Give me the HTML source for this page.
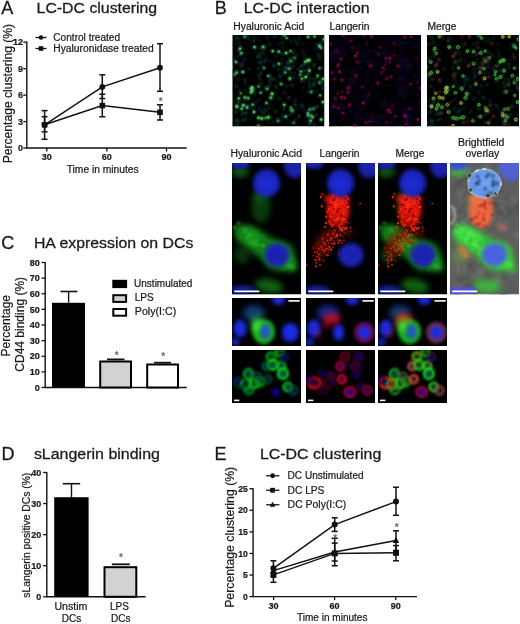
<!DOCTYPE html>
<html><head><meta charset="utf-8"><title>Figure</title>
<style>html,body{margin:0;padding:0;background:#fff;}body{width:520px;height:624px;overflow:hidden;}svg{display:block;}</style>
</head><body><svg width="520" height="624" viewBox="0 0 520 624" font-family="'Liberation Sans', sans-serif"><defs><filter id="f1" x="-50%" y="-50%" width="200%" height="200%"><feGaussianBlur stdDeviation="0.5"/></filter><filter id="f2" x="-50%" y="-50%" width="200%" height="200%"><feGaussianBlur stdDeviation="1.5"/></filter><filter id="f3" x="-50%" y="-50%" width="200%" height="200%"><feGaussianBlur stdDeviation="3"/></filter><filter id="f4" x="-50%" y="-50%" width="200%" height="200%"><feGaussianBlur stdDeviation="2.2"/></filter><filter id="f5" x="-50%" y="-50%" width="200%" height="200%"><feGaussianBlur stdDeviation="0.9"/></filter><filter id="f6" x="-50%" y="-50%" width="200%" height="200%"><feGaussianBlur stdDeviation="0.8"/></filter><clipPath id="c1"><rect x="232.3" y="35" width="92.2" height="91.5"/></clipPath><clipPath id="c2"><rect x="329" y="35" width="92" height="91.5"/></clipPath><clipPath id="c3"><rect x="427" y="35" width="92" height="91.5"/></clipPath><filter id="f7" x="-50%" y="-50%" width="200%" height="200%"><feGaussianBlur stdDeviation="4"/></filter><clipPath id="c4"><rect x="232" y="163" width="69" height="131.5"/></clipPath><clipPath id="c5"><rect x="306" y="163" width="69" height="131.5"/></clipPath><clipPath id="c6"><rect x="378" y="163" width="69" height="131.5"/></clipPath><clipPath id="c7"><rect x="450" y="163" width="69" height="131.5"/></clipPath><clipPath id="c8"><rect x="232" y="298" width="69" height="48"/></clipPath><clipPath id="c9"><rect x="306" y="298" width="69" height="48"/></clipPath><clipPath id="c10"><rect x="378" y="298" width="69" height="48"/></clipPath><clipPath id="c11"><rect x="232" y="350" width="69" height="53"/></clipPath><clipPath id="c12"><rect x="306" y="350" width="69" height="53"/></clipPath><clipPath id="c13"><rect x="378" y="350" width="69" height="53"/></clipPath></defs><rect width="520" height="624" fill="#fff"/><text x="1.2" y="13.5" font-size="18" fill="#1a1a1a" stroke="#1a1a1a" stroke-width="0.28">A</text><text x="36.6" y="12.6" font-size="15.3" textLength="120.6" lengthAdjust="spacingAndGlyphs" fill="#1a1a1a" stroke="#1a1a1a" stroke-width="0.28">LC-DC clustering</text><line x1="35.5" y1="37.5" x2="46.5" y2="37.5" stroke="#111" stroke-width="1.3"/><circle cx="41" cy="37.5" r="2.3" fill="#111"/><text x="53.3" y="41" font-size="10" textLength="66.8" lengthAdjust="spacingAndGlyphs" fill="#1a1a1a" stroke="#1a1a1a" stroke-width="0.22">Control treated</text><line x1="35.5" y1="48.5" x2="46.5" y2="48.5" stroke="#111" stroke-width="1.3"/><rect x="38.7" y="46.2" width="4.6" height="4.6" fill="#111"/><text x="53.3" y="52.3" font-size="10" textLength="100.5" lengthAdjust="spacingAndGlyphs" fill="#1a1a1a" stroke="#1a1a1a" stroke-width="0.22">Hyaluronidase treated</text><line x1="26.8" y1="41.6" x2="26.8" y2="148.6" stroke="#111" stroke-width="1.4"/><line x1="26.8" y1="148" x2="186.7" y2="148" stroke="#111" stroke-width="1.4"/><line x1="23.3" y1="148.0" x2="26.8" y2="148.0" stroke="#111" stroke-width="1.3"/><text x="22.9" y="151.2" font-size="9" text-anchor="end" font-weight="bold" fill="#1a1a1a" stroke="#1a1a1a" stroke-width="0.22">0</text><line x1="23.3" y1="121.55" x2="26.8" y2="121.55" stroke="#111" stroke-width="1.3"/><text x="22.9" y="124.75" font-size="9" text-anchor="end" font-weight="bold" fill="#1a1a1a" stroke="#1a1a1a" stroke-width="0.22">3</text><line x1="23.3" y1="95.1" x2="26.8" y2="95.1" stroke="#111" stroke-width="1.3"/><text x="22.9" y="98.3" font-size="9" text-anchor="end" font-weight="bold" fill="#1a1a1a" stroke="#1a1a1a" stroke-width="0.22">6</text><line x1="23.3" y1="68.65" x2="26.8" y2="68.65" stroke="#111" stroke-width="1.3"/><text x="22.9" y="71.85000000000001" font-size="9" text-anchor="end" font-weight="bold" fill="#1a1a1a" stroke="#1a1a1a" stroke-width="0.22">9</text><line x1="23.3" y1="42.2" x2="26.8" y2="42.2" stroke="#111" stroke-width="1.3"/><text x="22.9" y="45.400000000000006" font-size="9" text-anchor="end" font-weight="bold" fill="#1a1a1a" stroke="#1a1a1a" stroke-width="0.22">12</text><line x1="46.8" y1="148" x2="46.8" y2="151.5" stroke="#111" stroke-width="1.3"/><text x="46.8" y="160.2" font-size="9" text-anchor="middle" font-weight="bold" fill="#1a1a1a" stroke="#1a1a1a" stroke-width="0.22">30</text><line x1="106.8" y1="148" x2="106.8" y2="151.5" stroke="#111" stroke-width="1.3"/><text x="106.8" y="160.2" font-size="9" text-anchor="middle" font-weight="bold" fill="#1a1a1a" stroke="#1a1a1a" stroke-width="0.22">60</text><line x1="166.5" y1="148" x2="166.5" y2="151.5" stroke="#111" stroke-width="1.3"/><text x="166.5" y="160.2" font-size="9" text-anchor="middle" font-weight="bold" fill="#1a1a1a" stroke="#1a1a1a" stroke-width="0.22">90</text><text x="66.7" y="172.6" font-size="10" textLength="72" lengthAdjust="spacingAndGlyphs" fill="#1a1a1a" stroke="#1a1a1a" stroke-width="0.22">Time in minutes</text><text x="12.2" y="93.6" font-size="12" text-anchor="middle" textLength="139.5" lengthAdjust="spacingAndGlyphs" transform="rotate(-90 12.2 93.6)" fill="#1a1a1a" stroke="#1a1a1a" stroke-width="0.22">Percentage clustering (%)</text><line x1="44.6" y1="110.6" x2="44.6" y2="139.3" stroke="#111" stroke-width="1.5"/><line x1="41.6" y1="110.6" x2="47.6" y2="110.6" stroke="#111" stroke-width="1.5"/><line x1="41.6" y1="139.3" x2="47.6" y2="139.3" stroke="#111" stroke-width="1.5"/><line x1="44.6" y1="116.7" x2="44.6" y2="131.8" stroke="#111" stroke-width="1.5"/><line x1="41.6" y1="116.7" x2="47.6" y2="116.7" stroke="#111" stroke-width="1.5"/><line x1="41.6" y1="131.8" x2="47.6" y2="131.8" stroke="#111" stroke-width="1.5"/><line x1="102.3" y1="74.8" x2="102.3" y2="98.5" stroke="#111" stroke-width="1.5"/><line x1="99.3" y1="74.8" x2="105.3" y2="74.8" stroke="#111" stroke-width="1.5"/><line x1="99.3" y1="98.5" x2="105.3" y2="98.5" stroke="#111" stroke-width="1.5"/><line x1="102.3" y1="94.2" x2="102.3" y2="116.8" stroke="#111" stroke-width="1.5"/><line x1="99.3" y1="94.2" x2="105.3" y2="94.2" stroke="#111" stroke-width="1.5"/><line x1="99.3" y1="116.8" x2="105.3" y2="116.8" stroke="#111" stroke-width="1.5"/><line x1="160" y1="43.7" x2="160" y2="91.3" stroke="#111" stroke-width="1.5"/><line x1="157.0" y1="43.7" x2="163.0" y2="43.7" stroke="#111" stroke-width="1.5"/><line x1="157.0" y1="91.3" x2="163.0" y2="91.3" stroke="#111" stroke-width="1.5"/><line x1="160" y1="104.8" x2="160" y2="120" stroke="#111" stroke-width="1.5"/><line x1="157.0" y1="104.8" x2="163.0" y2="104.8" stroke="#111" stroke-width="1.5"/><line x1="157.0" y1="120" x2="163.0" y2="120" stroke="#111" stroke-width="1.5"/><polyline points="44.6,124.8 102.3,86.9 160,67.7" fill="none" stroke="#111" stroke-width="1.5"/><polyline points="44.6,124.8 102.3,105.6 160,112.3" fill="none" stroke="#111" stroke-width="1.5"/><circle cx="44.6" cy="124.8" r="2.9" fill="#111"/><circle cx="102.3" cy="86.9" r="2.9" fill="#111"/><circle cx="160" cy="67.7" r="2.9" fill="#111"/><rect x="41.800000000000004" y="122.0" width="5.6" height="5.6" fill="#111"/><rect x="99.5" y="102.8" width="5.6" height="5.6" fill="#111"/><rect x="157.2" y="109.5" width="5.6" height="5.6" fill="#111"/><text x="160.6" y="105.4" font-size="10" text-anchor="middle" font-weight="bold" fill="#666">*</text><text x="1.2" y="248.5" font-size="18" fill="#1a1a1a" stroke="#1a1a1a" stroke-width="0.28">C</text><text x="33.9" y="248" font-size="15.3" textLength="159.5" lengthAdjust="spacingAndGlyphs" fill="#1a1a1a" stroke="#1a1a1a" stroke-width="0.28">HA expression on DCs</text><line x1="45.2" y1="261.9" x2="45.2" y2="388.1" stroke="#111" stroke-width="1.4"/><line x1="45.2" y1="387.5" x2="186.8" y2="387.5" stroke="#111" stroke-width="1.4"/><line x1="41.5" y1="387.5" x2="45.2" y2="387.5" stroke="#111" stroke-width="1.3"/><text x="39.8" y="390.7" font-size="9" text-anchor="end" font-weight="bold" fill="#1a1a1a" stroke="#1a1a1a" stroke-width="0.22">0</text><line x1="41.5" y1="371.875" x2="45.2" y2="371.875" stroke="#111" stroke-width="1.3"/><text x="39.8" y="375.075" font-size="9" text-anchor="end" font-weight="bold" fill="#1a1a1a" stroke="#1a1a1a" stroke-width="0.22">10</text><line x1="41.5" y1="356.25" x2="45.2" y2="356.25" stroke="#111" stroke-width="1.3"/><text x="39.8" y="359.45" font-size="9" text-anchor="end" font-weight="bold" fill="#1a1a1a" stroke="#1a1a1a" stroke-width="0.22">20</text><line x1="41.5" y1="340.625" x2="45.2" y2="340.625" stroke="#111" stroke-width="1.3"/><text x="39.8" y="343.825" font-size="9" text-anchor="end" font-weight="bold" fill="#1a1a1a" stroke="#1a1a1a" stroke-width="0.22">30</text><line x1="41.5" y1="325.0" x2="45.2" y2="325.0" stroke="#111" stroke-width="1.3"/><text x="39.8" y="328.2" font-size="9" text-anchor="end" font-weight="bold" fill="#1a1a1a" stroke="#1a1a1a" stroke-width="0.22">40</text><line x1="41.5" y1="309.375" x2="45.2" y2="309.375" stroke="#111" stroke-width="1.3"/><text x="39.8" y="312.575" font-size="9" text-anchor="end" font-weight="bold" fill="#1a1a1a" stroke="#1a1a1a" stroke-width="0.22">50</text><line x1="41.5" y1="293.75" x2="45.2" y2="293.75" stroke="#111" stroke-width="1.3"/><text x="39.8" y="296.95" font-size="9" text-anchor="end" font-weight="bold" fill="#1a1a1a" stroke="#1a1a1a" stroke-width="0.22">60</text><line x1="41.5" y1="278.125" x2="45.2" y2="278.125" stroke="#111" stroke-width="1.3"/><text x="39.8" y="281.325" font-size="9" text-anchor="end" font-weight="bold" fill="#1a1a1a" stroke="#1a1a1a" stroke-width="0.22">70</text><line x1="41.5" y1="262.5" x2="45.2" y2="262.5" stroke="#111" stroke-width="1.3"/><text x="39.8" y="265.7" font-size="9" text-anchor="end" font-weight="bold" fill="#1a1a1a" stroke="#1a1a1a" stroke-width="0.22">80</text><rect x="52" y="302.8" width="33" height="84.69999999999999" fill="#000"/><line x1="68.6" y1="302.8" x2="68.6" y2="291.5" stroke="#111" stroke-width="1.4"/><line x1="60.5" y1="291.5" x2="77.5" y2="291.5" stroke="#111" stroke-width="1.6"/><rect x="100.2" y="361.5" width="30.8" height="26.0" fill="#d2d2d2" stroke="#000" stroke-width="2"/><line x1="107" y1="359.4" x2="124.5" y2="359.4" stroke="#111" stroke-width="1.8"/><rect x="147.2" y="364.5" width="30.8" height="23.0" fill="#fff" stroke="#000" stroke-width="2"/><line x1="154" y1="362.7" x2="171" y2="362.7" stroke="#111" stroke-width="1.8"/><text x="116.8" y="358.9" font-size="10" text-anchor="middle" font-weight="bold" fill="#666">*</text><text x="163.29999999999998" y="359.9" font-size="10" text-anchor="middle" font-weight="bold" fill="#666">*</text><rect x="112.3" y="279.8" width="14.8" height="8.3" fill="#000"/><rect x="113.3" y="295.2" width="12.8" height="6.7" fill="#d2d2d2" stroke="#000" stroke-width="2"/><rect x="113.3" y="309" width="12.8" height="6.7" fill="#fff" stroke="#000" stroke-width="2"/><text x="134.1" y="287" font-size="10" textLength="58.3" lengthAdjust="spacingAndGlyphs" fill="#1a1a1a" stroke="#1a1a1a" stroke-width="0.22">Unstimulated</text><text x="134.8" y="301" font-size="10" fill="#1a1a1a" stroke="#1a1a1a" stroke-width="0.22">LPS</text><text x="134.8" y="315.4" font-size="10" textLength="41.4" lengthAdjust="spacingAndGlyphs" fill="#1a1a1a" stroke="#1a1a1a" stroke-width="0.22">Poly(I:C)</text><text x="10.5" y="325.7" font-size="12" text-anchor="middle" transform="rotate(-90 10.5 325.7)" fill="#1a1a1a" stroke="#1a1a1a" stroke-width="0.22">Percentage</text><text x="24.2" y="324.3" font-size="12" text-anchor="middle" transform="rotate(-90 24.2 324.3)" fill="#1a1a1a" stroke="#1a1a1a" stroke-width="0.22">CD44 binding (%)</text><text x="1.5" y="460" font-size="18" fill="#1a1a1a" stroke="#1a1a1a" stroke-width="0.28">D</text><text x="33.9" y="459.4" font-size="15.3" textLength="126" lengthAdjust="spacingAndGlyphs" fill="#1a1a1a" stroke="#1a1a1a" stroke-width="0.28">sLangerin binding</text><line x1="46.8" y1="471.9" x2="46.8" y2="597.4" stroke="#111" stroke-width="1.4"/><line x1="46.8" y1="596.8" x2="145.6" y2="596.8" stroke="#111" stroke-width="1.4"/><line x1="43.099999999999994" y1="596.8" x2="46.8" y2="596.8" stroke="#111" stroke-width="1.3"/><text x="41.3" y="600.0" font-size="9" text-anchor="end" font-weight="bold" fill="#1a1a1a" stroke="#1a1a1a" stroke-width="0.22">0</text><line x1="43.099999999999994" y1="565.7249999999999" x2="46.8" y2="565.7249999999999" stroke="#111" stroke-width="1.3"/><text x="41.3" y="568.925" font-size="9" text-anchor="end" font-weight="bold" fill="#1a1a1a" stroke="#1a1a1a" stroke-width="0.22">10</text><line x1="43.099999999999994" y1="534.65" x2="46.8" y2="534.65" stroke="#111" stroke-width="1.3"/><text x="41.3" y="537.85" font-size="9" text-anchor="end" font-weight="bold" fill="#1a1a1a" stroke="#1a1a1a" stroke-width="0.22">20</text><line x1="43.099999999999994" y1="503.575" x2="46.8" y2="503.575" stroke="#111" stroke-width="1.3"/><text x="41.3" y="506.775" font-size="9" text-anchor="end" font-weight="bold" fill="#1a1a1a" stroke="#1a1a1a" stroke-width="0.22">30</text><line x1="43.099999999999994" y1="472.5" x2="46.8" y2="472.5" stroke="#111" stroke-width="1.3"/><text x="41.3" y="475.7" font-size="9" text-anchor="end" font-weight="bold" fill="#1a1a1a" stroke="#1a1a1a" stroke-width="0.22">40</text><rect x="54.2" y="497.2" width="34.4" height="99.59999999999997" fill="#000"/><line x1="71.5" y1="497.2" x2="71.5" y2="483.7" stroke="#111" stroke-width="1.4"/><line x1="62.8" y1="483.7" x2="80.2" y2="483.7" stroke="#111" stroke-width="1.6"/><rect x="104.5" y="567.2" width="31.8" height="29.59999999999991" fill="#d2d2d2" stroke="#000" stroke-width="2"/><line x1="111.8" y1="564.3" x2="129.8" y2="564.3" stroke="#111" stroke-width="1.8"/><text x="121.0" y="560.9" font-size="10" text-anchor="middle" font-weight="bold" fill="#666">*</text><text x="70.9" y="610.2" font-size="10" text-anchor="middle" textLength="33" lengthAdjust="spacingAndGlyphs" fill="#1a1a1a" stroke="#1a1a1a" stroke-width="0.22">Unstim</text><text x="71.5" y="622.2" font-size="10" text-anchor="middle" fill="#1a1a1a" stroke="#1a1a1a" stroke-width="0.22">DCs</text><text x="119.5" y="610.4" font-size="10" text-anchor="middle" fill="#1a1a1a" stroke="#1a1a1a" stroke-width="0.22">LPS</text><text x="120.7" y="622.2" font-size="10" text-anchor="middle" fill="#1a1a1a" stroke="#1a1a1a" stroke-width="0.22">DCs</text><text x="29.6" y="535.2" font-size="10.5" text-anchor="middle" textLength="125" lengthAdjust="spacingAndGlyphs" transform="rotate(-90 29.6 535.2)" fill="#1a1a1a" stroke="#1a1a1a" stroke-width="0.22">sLangerin positive DCs (%)</text><text x="214.5" y="460" font-size="18" fill="#1a1a1a" stroke="#1a1a1a" stroke-width="0.28">E</text><text x="259.9" y="458.8" font-size="15.3" textLength="121.4" lengthAdjust="spacingAndGlyphs" fill="#1a1a1a" stroke="#1a1a1a" stroke-width="0.28">LC-DC clustering</text><line x1="266.2" y1="475.75" x2="279.4" y2="475.75" stroke="#111" stroke-width="1.3"/><circle cx="272.6" cy="475.75" r="2.4" fill="#111"/><text x="287.6" y="479.35" font-size="10" textLength="76" lengthAdjust="spacingAndGlyphs" fill="#1a1a1a" stroke="#1a1a1a" stroke-width="0.22">DC Unstimulated</text><line x1="266.2" y1="490.25" x2="279.4" y2="490.25" stroke="#111" stroke-width="1.3"/><rect x="270.20000000000005" y="487.85" width="4.8" height="4.8" fill="#111"/><text x="287.6" y="493.85" font-size="10" textLength="36.8" lengthAdjust="spacingAndGlyphs" fill="#1a1a1a" stroke="#1a1a1a" stroke-width="0.22">DC LPS</text><line x1="266.2" y1="504.75" x2="279.4" y2="504.75" stroke="#111" stroke-width="1.3"/><polygon points="272.6,501.726 269.8,506.766 275.40000000000003,506.766" fill="#111"/><text x="287.6" y="508.35" font-size="10" textLength="58.6" lengthAdjust="spacingAndGlyphs" fill="#1a1a1a" stroke="#1a1a1a" stroke-width="0.22">DC Poly(I:C)</text><line x1="253.1" y1="488.15" x2="253.1" y2="597.2" stroke="#111" stroke-width="1.4"/><line x1="253.1" y1="596.6" x2="417" y2="596.6" stroke="#111" stroke-width="1.4"/><line x1="249.4" y1="596.6" x2="253.1" y2="596.6" stroke="#111" stroke-width="1.3"/><text x="247.8" y="599.7" font-size="8.6" text-anchor="end" font-weight="bold" fill="#1a1a1a" stroke="#1a1a1a" stroke-width="0.22">0</text><line x1="249.4" y1="575.03" x2="253.1" y2="575.03" stroke="#111" stroke-width="1.3"/><text x="247.8" y="578.13" font-size="8.6" text-anchor="end" font-weight="bold" fill="#1a1a1a" stroke="#1a1a1a" stroke-width="0.22">5</text><line x1="249.4" y1="553.46" x2="253.1" y2="553.46" stroke="#111" stroke-width="1.3"/><text x="247.8" y="556.5600000000001" font-size="8.6" text-anchor="end" font-weight="bold" fill="#1a1a1a" stroke="#1a1a1a" stroke-width="0.22">10</text><line x1="249.4" y1="531.89" x2="253.1" y2="531.89" stroke="#111" stroke-width="1.3"/><text x="247.8" y="534.99" font-size="8.6" text-anchor="end" font-weight="bold" fill="#1a1a1a" stroke="#1a1a1a" stroke-width="0.22">15</text><line x1="249.4" y1="510.32" x2="253.1" y2="510.32" stroke="#111" stroke-width="1.3"/><text x="247.8" y="513.42" font-size="8.6" text-anchor="end" font-weight="bold" fill="#1a1a1a" stroke="#1a1a1a" stroke-width="0.22">20</text><line x1="249.4" y1="488.75" x2="253.1" y2="488.75" stroke="#111" stroke-width="1.3"/><text x="247.8" y="491.85" font-size="8.6" text-anchor="end" font-weight="bold" fill="#1a1a1a" stroke="#1a1a1a" stroke-width="0.22">25</text><line x1="273.6" y1="596.6" x2="273.6" y2="600.1" stroke="#111" stroke-width="1.3"/><text x="273.6" y="609.3" font-size="9" text-anchor="middle" font-weight="bold" fill="#1a1a1a" stroke="#1a1a1a" stroke-width="0.22">30</text><line x1="334.6" y1="596.6" x2="334.6" y2="600.1" stroke="#111" stroke-width="1.3"/><text x="334.6" y="609.3" font-size="9" text-anchor="middle" font-weight="bold" fill="#1a1a1a" stroke="#1a1a1a" stroke-width="0.22">60</text><line x1="395.8" y1="596.6" x2="395.8" y2="600.1" stroke="#111" stroke-width="1.3"/><text x="395.8" y="609.3" font-size="9" text-anchor="middle" font-weight="bold" fill="#1a1a1a" stroke="#1a1a1a" stroke-width="0.22">90</text><text x="296.9" y="620.5" font-size="10" textLength="70.6" lengthAdjust="spacingAndGlyphs" fill="#1a1a1a" stroke="#1a1a1a" stroke-width="0.22">Time in minutes</text><text x="234" y="537.3" font-size="12" text-anchor="middle" textLength="141" lengthAdjust="spacingAndGlyphs" transform="rotate(-90 234 537.3)" fill="#1a1a1a" stroke="#1a1a1a" stroke-width="0.22">Percentage clustering (%)</text><line x1="273.4" y1="560.8" x2="273.4" y2="582.3" stroke="#111" stroke-width="1.5"/><line x1="270.4" y1="560.8" x2="276.4" y2="560.8" stroke="#111" stroke-width="1.5"/><line x1="270.4" y1="582.3" x2="276.4" y2="582.3" stroke="#111" stroke-width="1.5"/><line x1="334.7" y1="517.8" x2="334.7" y2="531.4" stroke="#111" stroke-width="1.5"/><line x1="331.7" y1="517.8" x2="337.7" y2="517.8" stroke="#111" stroke-width="1.5"/><line x1="331.7" y1="531.4" x2="337.7" y2="531.4" stroke="#111" stroke-width="1.5"/><line x1="334.7" y1="538.3" x2="334.7" y2="565.7" stroke="#111" stroke-width="1.5"/><line x1="331.7" y1="538.3" x2="337.7" y2="538.3" stroke="#111" stroke-width="1.5"/><line x1="331.7" y1="565.7" x2="337.7" y2="565.7" stroke="#111" stroke-width="1.5"/><line x1="334.7" y1="543.1" x2="334.7" y2="561" stroke="#111" stroke-width="1.5"/><line x1="331.7" y1="543.1" x2="337.7" y2="543.1" stroke="#111" stroke-width="1.5"/><line x1="331.7" y1="561" x2="337.7" y2="561" stroke="#111" stroke-width="1.5"/><line x1="396" y1="487.2" x2="396" y2="515.3" stroke="#111" stroke-width="1.5"/><line x1="393.0" y1="487.2" x2="399.0" y2="487.2" stroke="#111" stroke-width="1.5"/><line x1="393.0" y1="515.3" x2="399.0" y2="515.3" stroke="#111" stroke-width="1.5"/><line x1="396" y1="530.8" x2="396" y2="550.6" stroke="#111" stroke-width="1.5"/><line x1="393.0" y1="530.8" x2="399.0" y2="530.8" stroke="#111" stroke-width="1.5"/><line x1="393.0" y1="550.6" x2="399.0" y2="550.6" stroke="#111" stroke-width="1.5"/><line x1="396" y1="545.6" x2="396" y2="560.8" stroke="#111" stroke-width="1.5"/><line x1="393.0" y1="545.6" x2="399.0" y2="545.6" stroke="#111" stroke-width="1.5"/><line x1="393.0" y1="560.8" x2="399.0" y2="560.8" stroke="#111" stroke-width="1.5"/><polyline points="273.4,568.3 334.7,524.6 396,501.6" fill="none" stroke="#111" stroke-width="1.5"/><polyline points="273.4,574.9 334.7,553.4 396,552.8" fill="none" stroke="#111" stroke-width="1.5"/><polyline points="273.4,570.6 334.7,552.0 396,540.6" fill="none" stroke="#111" stroke-width="1.5"/><circle cx="273.4" cy="568.3" r="3" fill="#111"/><circle cx="334.7" cy="524.6" r="3" fill="#111"/><circle cx="396" cy="501.6" r="3" fill="#111"/><rect x="270.4" y="571.9" width="6" height="6" fill="#111"/><rect x="331.7" y="550.4" width="6" height="6" fill="#111"/><rect x="393.0" y="549.8" width="6" height="6" fill="#111"/><polygon points="273.4,567.09 270.15,572.94 276.65,572.94" fill="#111"/><polygon points="334.7,548.49 331.45,554.34 337.95,554.34" fill="#111"/><polygon points="396,537.09 392.75,542.94 399.25,542.94" fill="#111"/><text x="335.3" y="541.9" font-size="10" text-anchor="middle" font-weight="bold" fill="#666">*</text><text x="396.6" y="531.4" font-size="10" text-anchor="middle" font-weight="bold" fill="#666">*</text><text x="214.8" y="13.5" font-size="18" fill="#1a1a1a" stroke="#1a1a1a" stroke-width="0.28">B</text><text x="243.7" y="12.9" font-size="15.3" textLength="125.9" lengthAdjust="spacingAndGlyphs" fill="#1a1a1a" stroke="#1a1a1a" stroke-width="0.28">LC-DC interaction</text><text x="233.3" y="29.5" font-size="10" textLength="71" lengthAdjust="spacingAndGlyphs" fill="#1a1a1a" stroke="#1a1a1a" stroke-width="0.22">Hyaluronic Acid</text><text x="329.5" y="29.5" font-size="10" textLength="40" lengthAdjust="spacingAndGlyphs" fill="#1a1a1a" stroke="#1a1a1a" stroke-width="0.22">Langerin</text><text x="427.5" y="29.5" font-size="10" textLength="29" lengthAdjust="spacingAndGlyphs" fill="#1a1a1a" stroke="#1a1a1a" stroke-width="0.22">Merge</text><text x="266.2" y="157" font-size="10" text-anchor="middle" textLength="71.5" lengthAdjust="spacingAndGlyphs" fill="#1a1a1a" stroke="#1a1a1a" stroke-width="0.22">Hyaluronic Acid</text><text x="339.5" y="157" font-size="10" text-anchor="middle" textLength="40.2" lengthAdjust="spacingAndGlyphs" fill="#1a1a1a" stroke="#1a1a1a" stroke-width="0.22">Langerin</text><text x="410" y="157" font-size="10" text-anchor="middle" textLength="29" lengthAdjust="spacingAndGlyphs" fill="#1a1a1a" stroke="#1a1a1a" stroke-width="0.22">Merge</text><text x="481.2" y="146" font-size="10" text-anchor="middle" textLength="46.4" lengthAdjust="spacingAndGlyphs" fill="#1a1a1a" stroke="#1a1a1a" stroke-width="0.22">Brightfield</text><text x="482.4" y="157.3" font-size="10" text-anchor="middle" textLength="33.7" lengthAdjust="spacingAndGlyphs" fill="#1a1a1a" stroke="#1a1a1a" stroke-width="0.22">overlay</text><g clip-path="url(#c1)"><rect x="232.3" y="35" width="92.2" height="91.5" fill="#000"/><circle cx="261.7" cy="48.1" r="1.1" fill="#153545" filter="url(#f6)" opacity="0.9"/><circle cx="234.8" cy="74.5" r="1.4" fill="#5ac269" filter="url(#f6)" opacity="0.9"/><circle cx="234.8" cy="74.5" r="0.8" fill="#5ac269" filter="url(#f1)" opacity="0.9"/><circle cx="290.3" cy="122.6" r="1.1" fill="#1b4358" filter="url(#f6)" opacity="0.9"/><circle cx="242.4" cy="62.8" r="1.2" fill="#173a47" filter="url(#f6)" opacity="0.9"/><circle cx="237.2" cy="39.6" r="1.1" fill="#205040" filter="url(#f6)" opacity="0.9"/><circle cx="259.5" cy="108.3" r="1.3" fill="#183c46" filter="url(#f6)" opacity="0.9"/><circle cx="258.4" cy="125.6" r="1.4" fill="#5ad47d" filter="url(#f6)" opacity="0.9"/><circle cx="258.4" cy="125.6" r="0.8" fill="#5ad47d" filter="url(#f1)" opacity="0.9"/><circle cx="303.2" cy="87.6" r="1.1" fill="#19404c" filter="url(#f6)" opacity="0.9"/><circle cx="310.3" cy="122.3" r="1.4" fill="#1f4f2f" filter="url(#f6)" opacity="0.9"/><circle cx="308.6" cy="60.6" r="0.9" fill="#20502e" filter="url(#f6)" opacity="0.9"/><circle cx="236.8" cy="105.8" r="1.5" fill="#5acb67" filter="url(#f6)" opacity="0.9"/><circle cx="236.8" cy="105.8" r="0.9" fill="#5acb67" filter="url(#f1)" opacity="0.9"/><circle cx="282.9" cy="116.6" r="1.4" fill="#235839" filter="url(#f6)" opacity="0.9"/><circle cx="321.3" cy="48.1" r="1.4" fill="#5aca5e" filter="url(#f6)" opacity="0.9"/><circle cx="321.3" cy="48.1" r="0.8" fill="#5aca5e" filter="url(#f1)" opacity="0.9"/><circle cx="231.7" cy="73.2" r="1.2" fill="#1e4b57" filter="url(#f6)" opacity="0.9"/><circle cx="294.9" cy="39" r="1.1" fill="#225554" filter="url(#f6)" opacity="0.9"/><circle cx="241" cy="93.3" r="1.3" fill="#5ac15c" filter="url(#f6)" opacity="0.9"/><circle cx="241" cy="93.3" r="0.7" fill="#5ac15c" filter="url(#f1)" opacity="0.9"/><circle cx="245.5" cy="43.5" r="1" fill="#143354" filter="url(#f6)" opacity="0.9"/><circle cx="264" cy="68" r="1.3" fill="#5aec8b" filter="url(#f6)" opacity="0.9"/><circle cx="264" cy="68" r="0.7" fill="#5aec8b" filter="url(#f1)" opacity="0.9"/><circle cx="240.9" cy="66" r="1.2" fill="#225734" filter="url(#f6)" opacity="0.9"/><circle cx="282.4" cy="36.5" r="1.1" fill="#255e53" filter="url(#f6)" opacity="0.9"/><circle cx="247" cy="106.2" r="1.4" fill="#22553b" filter="url(#f6)" opacity="0.9"/><circle cx="311.4" cy="109.4" r="0.9" fill="#215337" filter="url(#f6)" opacity="0.9"/><circle cx="233.9" cy="60.1" r="1.4" fill="#205158" filter="url(#f6)" opacity="0.9"/><circle cx="321.1" cy="68.1" r="1.4" fill="#183c35" filter="url(#f6)" opacity="0.9"/><circle cx="310.3" cy="78.8" r="1.3" fill="#225530" filter="url(#f6)" opacity="0.9"/><circle cx="301.8" cy="78.7" r="1.5" fill="#5ae963" filter="url(#f6)" opacity="0.9"/><circle cx="301.8" cy="78.7" r="0.8" fill="#5ae963" filter="url(#f1)" opacity="0.9"/><circle cx="269" cy="122.5" r="1.3" fill="#173932" filter="url(#f6)" opacity="0.9"/><circle cx="309" cy="125.7" r="1.4" fill="#1a4145" filter="url(#f6)" opacity="0.9"/><circle cx="280.8" cy="121.3" r="1" fill="#235952" filter="url(#f6)" opacity="0.9"/><circle cx="253.9" cy="88.8" r="1.1" fill="#1b4432" filter="url(#f6)" opacity="0.9"/><circle cx="286.1" cy="118.6" r="0.9" fill="#245b43" filter="url(#f6)" opacity="0.9"/><circle cx="272.7" cy="51.1" r="1.6" fill="#5ae95a" filter="url(#f6)" opacity="0.9"/><circle cx="272.7" cy="51.1" r="0.9" fill="#5ae95a" filter="url(#f1)" opacity="0.9"/><circle cx="261.9" cy="82.5" r="1" fill="#225531" filter="url(#f6)" opacity="0.9"/><circle cx="303.9" cy="81.5" r="1.1" fill="#215456" filter="url(#f6)" opacity="0.9"/><circle cx="279.4" cy="98.8" r="1.4" fill="#1d4942" filter="url(#f6)" opacity="0.9"/><circle cx="319.9" cy="58.3" r="1.1" fill="#245c52" filter="url(#f6)" opacity="0.9"/><circle cx="253.9" cy="40.8" r="1.2" fill="#225555" filter="url(#f6)" opacity="0.9"/><circle cx="314.3" cy="124.5" r="1.3" fill="#255c3e" filter="url(#f6)" opacity="0.9"/><circle cx="263.2" cy="52.3" r="0.9" fill="#20522d" filter="url(#f6)" opacity="0.9"/><circle cx="262.5" cy="92.3" r="0.9" fill="#153459" filter="url(#f6)" opacity="0.9"/><circle cx="256.3" cy="37.7" r="1.3" fill="#183e32" filter="url(#f6)" opacity="0.9"/><circle cx="255.6" cy="48" r="1.3" fill="#1e4b4c" filter="url(#f6)" opacity="0.9"/><circle cx="238.1" cy="121.7" r="1.3" fill="#225630" filter="url(#f6)" opacity="0.9"/><circle cx="274" cy="65.7" r="1.1" fill="#245b39" filter="url(#f6)" opacity="0.9"/><circle cx="246.5" cy="38.7" r="1.1" fill="#19403a" filter="url(#f6)" opacity="0.9"/><circle cx="254.8" cy="35.4" r="0.9" fill="#1d4a35" filter="url(#f6)" opacity="0.9"/><circle cx="308.3" cy="74.4" r="1.4" fill="#23573e" filter="url(#f6)" opacity="0.9"/><circle cx="263.5" cy="111.8" r="0.9" fill="#1f4e3f" filter="url(#f6)" opacity="0.9"/><circle cx="237.9" cy="103.3" r="1.2" fill="#163930" filter="url(#f6)" opacity="0.9"/><circle cx="257.8" cy="56.6" r="1.4" fill="#1c4634" filter="url(#f6)" opacity="0.9"/><circle cx="322.7" cy="85.2" r="1.1" fill="#255d3a" filter="url(#f6)" opacity="0.9"/><circle cx="275.9" cy="81" r="1.1" fill="#1d482d" filter="url(#f6)" opacity="0.9"/><circle cx="235.2" cy="36.1" r="1.2" fill="#183c47" filter="url(#f6)" opacity="0.9"/><circle cx="298.6" cy="116.2" r="1.2" fill="#194059" filter="url(#f6)" opacity="0.9"/><circle cx="309.8" cy="117.4" r="1.5" fill="#215351" filter="url(#f6)" opacity="0.9"/><circle cx="306.9" cy="111.3" r="0.9" fill="#245a4b" filter="url(#f6)" opacity="0.9"/><circle cx="309.9" cy="86.2" r="1.3" fill="#1f4e4b" filter="url(#f6)" opacity="0.9"/><circle cx="301.6" cy="81" r="0.9" fill="#1f4f2f" filter="url(#f6)" opacity="0.9"/><circle cx="256.3" cy="102.2" r="1.1" fill="#215358" filter="url(#f6)" opacity="0.9"/><circle cx="295.6" cy="105.7" r="1.3" fill="#1f4e30" filter="url(#f6)" opacity="0.9"/><circle cx="284.7" cy="35.2" r="1.4" fill="#5acc78" filter="url(#f6)" opacity="0.9"/><circle cx="284.7" cy="35.2" r="0.8" fill="#5acc78" filter="url(#f1)" opacity="0.9"/><circle cx="279.9" cy="77.4" r="1.4" fill="#163755" filter="url(#f6)" opacity="0.9"/><circle cx="232.9" cy="76.9" r="1.4" fill="#255d41" filter="url(#f6)" opacity="0.9"/><circle cx="251.1" cy="88.4" r="1.6" fill="#5ada89" filter="url(#f6)" opacity="0.9"/><circle cx="251.1" cy="88.4" r="0.9" fill="#5ada89" filter="url(#f1)" opacity="0.9"/><circle cx="297.4" cy="55.6" r="1.2" fill="#1c472e" filter="url(#f6)" opacity="0.9"/><circle cx="310.3" cy="34.2" r="1.4" fill="#235732" filter="url(#f6)" opacity="0.9"/><circle cx="258.5" cy="68.8" r="1" fill="#255e47" filter="url(#f6)" opacity="0.9"/><circle cx="235.8" cy="43.5" r="1.1" fill="#193e57" filter="url(#f6)" opacity="0.9"/><circle cx="249.1" cy="68.9" r="1.2" fill="#225649" filter="url(#f6)" opacity="0.9"/><circle cx="298.9" cy="38.6" r="0.9" fill="#1c464e" filter="url(#f6)" opacity="0.9"/><circle cx="318.4" cy="45.9" r="1" fill="#1a413a" filter="url(#f6)" opacity="0.9"/><circle cx="293" cy="62.1" r="1.4" fill="#1b4334" filter="url(#f6)" opacity="0.9"/><circle cx="252" cy="118.7" r="1" fill="#1c4633" filter="url(#f6)" opacity="0.9"/><circle cx="239.9" cy="56.4" r="1.1" fill="#1e4b54" filter="url(#f6)" opacity="0.9"/><circle cx="280.6" cy="69.2" r="1.1" fill="#153439" filter="url(#f6)" opacity="0.9"/><circle cx="290.5" cy="114.7" r="1.4" fill="#183e38" filter="url(#f6)" opacity="0.9"/><circle cx="311.1" cy="115.6" r="1.6" fill="#5abf7a" filter="url(#f6)" opacity="0.9"/><circle cx="311.1" cy="115.6" r="0.9" fill="#5abf7a" filter="url(#f1)" opacity="0.9"/><circle cx="231.3" cy="70.6" r="0.9" fill="#225753" filter="url(#f6)" opacity="0.9"/><circle cx="245.8" cy="82.8" r="1.1" fill="#245c4d" filter="url(#f6)" opacity="0.9"/><circle cx="283.1" cy="37.7" r="0.9" fill="#183c56" filter="url(#f6)" opacity="0.9"/><circle cx="255" cy="93.5" r="1.1" fill="#163730" filter="url(#f6)" opacity="0.9"/><circle cx="252.3" cy="90.2" r="1.7" fill="#5ace6b" filter="url(#f6)" opacity="0.9"/><circle cx="252.3" cy="90.2" r="1" fill="#5ace6b" filter="url(#f1)" opacity="0.9"/><circle cx="276" cy="56" r="1.1" fill="#255d4c" filter="url(#f6)" opacity="0.9"/><circle cx="294.7" cy="73.3" r="1" fill="#205056" filter="url(#f6)" opacity="0.9"/><circle cx="270.8" cy="97.8" r="1.8" fill="#5ae97c" filter="url(#f6)" opacity="0.9"/><circle cx="270.8" cy="97.8" r="1" fill="#5ae97c" filter="url(#f1)" opacity="0.9"/><circle cx="260.6" cy="110.7" r="1.1" fill="#173b4f" filter="url(#f6)" opacity="0.9"/><circle cx="293.8" cy="122.7" r="1.3" fill="#5ad35c" filter="url(#f6)" opacity="0.9"/><circle cx="293.8" cy="122.7" r="0.7" fill="#5ad35c" filter="url(#f1)" opacity="0.9"/><circle cx="237" cy="70.8" r="1" fill="#23594d" filter="url(#f6)" opacity="0.9"/><circle cx="248.7" cy="121.5" r="1" fill="#14334a" filter="url(#f6)" opacity="0.9"/><circle cx="247.2" cy="34.3" r="1.2" fill="#1a4157" filter="url(#f6)" opacity="0.9"/><circle cx="308.5" cy="110.9" r="1" fill="#143442" filter="url(#f6)" opacity="0.9"/><circle cx="265.5" cy="117.9" r="1.3" fill="#5ad480" filter="url(#f6)" opacity="0.9"/><circle cx="265.5" cy="117.9" r="0.7" fill="#5ad480" filter="url(#f1)" opacity="0.9"/><circle cx="237.2" cy="120" r="1.4" fill="#215355" filter="url(#f6)" opacity="0.9"/><circle cx="289.3" cy="58.5" r="1.4" fill="#194039" filter="url(#f6)" opacity="0.9"/><circle cx="320" cy="36.3" r="1" fill="#1c4758" filter="url(#f6)" opacity="0.9"/><circle cx="271.7" cy="80.1" r="1.3" fill="#173a51" filter="url(#f6)" opacity="0.9"/><circle cx="288.4" cy="64.6" r="1.3" fill="#1a4250" filter="url(#f6)" opacity="0.9"/><circle cx="237.4" cy="37.2" r="1" fill="#194059" filter="url(#f6)" opacity="0.9"/><circle cx="239.2" cy="43" r="1.2" fill="#205141" filter="url(#f6)" opacity="0.9"/><circle cx="294.7" cy="103.9" r="1.2" fill="#1f4f32" filter="url(#f6)" opacity="0.9"/><circle cx="266.4" cy="103" r="1.6" fill="#5acb5e" filter="url(#f6)" opacity="0.9"/><circle cx="266.4" cy="103" r="0.9" fill="#5acb5e" filter="url(#f1)" opacity="0.9"/><circle cx="268.5" cy="126.8" r="0.9" fill="#183c51" filter="url(#f6)" opacity="0.9"/><circle cx="275.9" cy="110.6" r="1" fill="#245b2e" filter="url(#f6)" opacity="0.9"/><circle cx="322.8" cy="88.5" r="1.3" fill="#1a4253" filter="url(#f6)" opacity="0.9"/><circle cx="320.2" cy="43.9" r="1" fill="#1f4d36" filter="url(#f6)" opacity="0.9"/><circle cx="255.3" cy="90" r="1" fill="#173b2d" filter="url(#f6)" opacity="0.9"/><circle cx="260.6" cy="53" r="1.4" fill="#1d4a2f" filter="url(#f6)" opacity="0.9"/><circle cx="239.9" cy="49.3" r="1" fill="#1b4439" filter="url(#f6)" opacity="0.9"/><circle cx="284.6" cy="67.4" r="1.3" fill="#235859" filter="url(#f6)" opacity="0.9"/><circle cx="250.4" cy="34.5" r="1.1" fill="#1b4551" filter="url(#f6)" opacity="0.9"/><circle cx="246.6" cy="35.4" r="1.3" fill="#1f4e55" filter="url(#f6)" opacity="0.9"/><circle cx="318.3" cy="44.2" r="1.4" fill="#225658" filter="url(#f6)" opacity="0.9"/><circle cx="323" cy="79.1" r="1.7" fill="#5af067" filter="url(#f6)" opacity="0.9"/><circle cx="323" cy="79.1" r="1" fill="#5af067" filter="url(#f1)" opacity="0.9"/><circle cx="246.4" cy="107.5" r="1" fill="#1b4453" filter="url(#f6)" opacity="0.9"/><circle cx="268.9" cy="82.4" r="0.9" fill="#163738" filter="url(#f6)" opacity="0.9"/><circle cx="284.2" cy="104.8" r="1.6" fill="#5aec57" filter="url(#f6)" opacity="0.9"/><circle cx="284.2" cy="104.8" r="0.9" fill="#5aec57" filter="url(#f1)" opacity="0.9"/><circle cx="260.1" cy="73.3" r="0.9" fill="#1b454a" filter="url(#f6)" opacity="0.9"/><circle cx="289.5" cy="79.8" r="1.1" fill="#215450" filter="url(#f6)" opacity="0.9"/><circle cx="241.4" cy="46" r="1.2" fill="#153640" filter="url(#f6)" opacity="0.9"/><circle cx="239" cy="102.6" r="1.4" fill="#1d492f" filter="url(#f6)" opacity="0.9"/><circle cx="244.1" cy="114.1" r="1.1" fill="#215251" filter="url(#f6)" opacity="0.9"/><circle cx="321.2" cy="119.6" r="1.7" fill="#5ae987" filter="url(#f6)" opacity="0.9"/><circle cx="321.2" cy="119.6" r="1" fill="#5ae987" filter="url(#f1)" opacity="0.9"/><circle cx="315.6" cy="59.7" r="1" fill="#163843" filter="url(#f6)" opacity="0.9"/><circle cx="278.9" cy="63.8" r="1.7" fill="#5ac859" filter="url(#f6)" opacity="0.9"/><circle cx="278.9" cy="63.8" r="1" fill="#5ac859" filter="url(#f1)" opacity="0.9"/><circle cx="247.2" cy="107.4" r="1.6" fill="#5adb76" filter="url(#f6)" opacity="0.9"/><circle cx="247.2" cy="107.4" r="0.9" fill="#5adb76" filter="url(#f1)" opacity="0.9"/><circle cx="285.8" cy="116.5" r="1.4" fill="#5af475" filter="url(#f6)" opacity="0.9"/><circle cx="285.8" cy="116.5" r="0.8" fill="#5af475" filter="url(#f1)" opacity="0.9"/><circle cx="324.4" cy="88" r="1.5" fill="#215440" filter="url(#f6)" opacity="0.9"/><circle cx="255.1" cy="93.8" r="0.9" fill="#1e4c4a" filter="url(#f6)" opacity="0.9"/><circle cx="245.3" cy="91.6" r="1.2" fill="#1d4955" filter="url(#f6)" opacity="0.9"/><circle cx="231.5" cy="67.2" r="1.4" fill="#5ad15d" filter="url(#f6)" opacity="0.9"/><circle cx="231.5" cy="67.2" r="0.8" fill="#5ad15d" filter="url(#f1)" opacity="0.9"/><circle cx="289.9" cy="78.4" r="1.6" fill="#5af15e" filter="url(#f6)" opacity="0.9"/><circle cx="289.9" cy="78.4" r="0.9" fill="#5af15e" filter="url(#f1)" opacity="0.9"/><circle cx="304.8" cy="71.6" r="1.2" fill="#14324a" filter="url(#f6)" opacity="0.9"/><circle cx="273" cy="121.6" r="1.2" fill="#183d55" filter="url(#f6)" opacity="0.9"/><circle cx="236.8" cy="106.8" r="1.6" fill="#5adc88" filter="url(#f6)" opacity="0.9"/><circle cx="236.8" cy="106.8" r="0.9" fill="#5adc88" filter="url(#f1)" opacity="0.9"/><circle cx="291.6" cy="110.1" r="1.7" fill="#5acf62" filter="url(#f6)" opacity="0.9"/><circle cx="291.6" cy="110.1" r="1" fill="#5acf62" filter="url(#f1)" opacity="0.9"/><circle cx="231.9" cy="113" r="0.9" fill="#1c464e" filter="url(#f6)" opacity="0.9"/><circle cx="253.1" cy="37.6" r="1" fill="#21534c" filter="url(#f6)" opacity="0.9"/><circle cx="283.4" cy="74.8" r="1" fill="#1d4938" filter="url(#f6)" opacity="0.9"/><circle cx="314" cy="35.4" r="1" fill="#183c4e" filter="url(#f6)" opacity="0.9"/><circle cx="314" cy="64.7" r="1.4" fill="#245a49" filter="url(#f6)" opacity="0.9"/><circle cx="275.4" cy="112.5" r="1" fill="#235840" filter="url(#f6)" opacity="0.9"/><circle cx="251.2" cy="92.2" r="1.8" fill="#5af058" filter="url(#f6)" opacity="0.9"/><circle cx="251.2" cy="92.2" r="1" fill="#5af058" filter="url(#f1)" opacity="0.9"/><circle cx="244.6" cy="36.7" r="1.3" fill="#5ae476" filter="url(#f6)" opacity="0.9"/><circle cx="244.6" cy="36.7" r="0.7" fill="#5ae476" filter="url(#f1)" opacity="0.9"/><circle cx="286.8" cy="68" r="1.6" fill="#225655" filter="url(#f6)" opacity="0.9"/><circle cx="241.4" cy="53.2" r="1.7" fill="#5abf82" filter="url(#f6)" opacity="0.9"/><circle cx="241.4" cy="53.2" r="1" fill="#5abf82" filter="url(#f1)" opacity="0.9"/><circle cx="290.7" cy="60.9" r="1.5" fill="#5ac37d" filter="url(#f6)" opacity="0.9"/><circle cx="290.7" cy="60.9" r="0.9" fill="#5ac37d" filter="url(#f1)" opacity="0.9"/><circle cx="233.3" cy="58" r="1.1" fill="#20523d" filter="url(#f6)" opacity="0.9"/><circle cx="311.3" cy="91.8" r="1.6" fill="#5ad46a" filter="url(#f6)" opacity="0.9"/><circle cx="311.3" cy="91.8" r="0.9" fill="#5ad46a" filter="url(#f1)" opacity="0.9"/><circle cx="281.9" cy="54.2" r="1.5" fill="#153651" filter="url(#f6)" opacity="0.9"/><circle cx="323.2" cy="34.4" r="1.1" fill="#1c4850" filter="url(#f6)" opacity="0.9"/><circle cx="309.5" cy="58.4" r="0.9" fill="#193e36" filter="url(#f6)" opacity="0.9"/><circle cx="291.1" cy="41.6" r="1.1" fill="#205150" filter="url(#f6)" opacity="0.9"/><circle cx="268.4" cy="117.3" r="1.7" fill="#5aee51" filter="url(#f6)" opacity="0.9"/><circle cx="268.4" cy="117.3" r="1" fill="#5aee51" filter="url(#f1)" opacity="0.9"/><circle cx="278.4" cy="69.5" r="1.3" fill="#183c41" filter="url(#f6)" opacity="0.9"/><circle cx="292.1" cy="66.6" r="1" fill="#163852" filter="url(#f6)" opacity="0.9"/><circle cx="272.5" cy="106.3" r="1" fill="#163741" filter="url(#f6)" opacity="0.9"/><circle cx="259.6" cy="99.7" r="1.2" fill="#163834" filter="url(#f6)" opacity="0.9"/><circle cx="323" cy="102.1" r="1.7" fill="#5af256" filter="url(#f6)" opacity="0.9"/><circle cx="323" cy="102.1" r="1" fill="#5af256" filter="url(#f1)" opacity="0.9"/><circle cx="300.2" cy="74.7" r="1.3" fill="#5ae156" filter="url(#f6)" opacity="0.9"/><circle cx="300.2" cy="74.7" r="0.7" fill="#5ae156" filter="url(#f1)" opacity="0.9"/><circle cx="268.8" cy="108" r="1.2" fill="#1d4849" filter="url(#f6)" opacity="0.9"/><circle cx="269.3" cy="103.3" r="1" fill="#1b4546" filter="url(#f6)" opacity="0.9"/><circle cx="299.2" cy="116.3" r="1.1" fill="#205153" filter="url(#f6)" opacity="0.9"/><circle cx="260.7" cy="92.7" r="1.4" fill="#5ad57e" filter="url(#f6)" opacity="0.9"/><circle cx="260.7" cy="92.7" r="0.8" fill="#5ad57e" filter="url(#f1)" opacity="0.9"/><circle cx="271.1" cy="76.6" r="1.2" fill="#1b444b" filter="url(#f6)" opacity="0.9"/><circle cx="304.4" cy="70.3" r="1.3" fill="#255d2e" filter="url(#f6)" opacity="0.9"/><circle cx="319.7" cy="82.5" r="1.6" fill="#5add70" filter="url(#f6)" opacity="0.9"/><circle cx="319.7" cy="82.5" r="0.9" fill="#5add70" filter="url(#f1)" opacity="0.9"/><circle cx="309.2" cy="82.8" r="1.3" fill="#255c36" filter="url(#f6)" opacity="0.9"/><circle cx="242.8" cy="126" r="1.1" fill="#153439" filter="url(#f6)" opacity="0.9"/><circle cx="270.8" cy="99.3" r="1.2" fill="#183d37" filter="url(#f6)" opacity="0.9"/><circle cx="251.9" cy="108.9" r="1.2" fill="#173b32" filter="url(#f6)" opacity="0.9"/><circle cx="275.4" cy="86.6" r="1.3" fill="#255d3c" filter="url(#f6)" opacity="0.9"/><circle cx="275.3" cy="61.5" r="1" fill="#163752" filter="url(#f6)" opacity="0.9"/><circle cx="266.7" cy="57.7" r="1" fill="#173a2d" filter="url(#f6)" opacity="0.9"/><circle cx="259.7" cy="78.8" r="1.3" fill="#1f4e4a" filter="url(#f6)" opacity="0.9"/><circle cx="236.7" cy="111.4" r="0.9" fill="#225533" filter="url(#f6)" opacity="0.9"/><circle cx="232.4" cy="123" r="1.3" fill="#183d31" filter="url(#f6)" opacity="0.9"/><circle cx="245.7" cy="118.5" r="1.2" fill="#173955" filter="url(#f6)" opacity="0.9"/><circle cx="315.3" cy="107.7" r="1.1" fill="#173a4c" filter="url(#f6)" opacity="0.9"/><circle cx="314.3" cy="85.9" r="1.1" fill="#183c33" filter="url(#f6)" opacity="0.9"/><circle cx="244.9" cy="79.9" r="1.4" fill="#1d4a53" filter="url(#f6)" opacity="0.9"/><circle cx="293.8" cy="112.6" r="1.2" fill="#1b4458" filter="url(#f6)" opacity="0.9"/><circle cx="288.6" cy="97.8" r="1.4" fill="#194059" filter="url(#f6)" opacity="0.9"/><circle cx="234.5" cy="101.2" r="1.2" fill="#1a4153" filter="url(#f6)" opacity="0.9"/><circle cx="303.7" cy="53.7" r="1.3" fill="#1b4545" filter="url(#f6)" opacity="0.9"/><circle cx="269.3" cy="81.1" r="1" fill="#1d4858" filter="url(#f6)" opacity="0.9"/><circle cx="261.1" cy="62" r="1.4" fill="#1f4e50" filter="url(#f6)" opacity="0.9"/><circle cx="236" cy="62.1" r="1.7" fill="#5ac887" filter="url(#f6)" opacity="0.9"/><circle cx="236" cy="62.1" r="1" fill="#5ac887" filter="url(#f1)" opacity="0.9"/><circle cx="316.8" cy="91.2" r="1" fill="#1f4e4c" filter="url(#f6)" opacity="0.9"/><circle cx="294" cy="76.8" r="1.4" fill="#153635" filter="url(#f6)" opacity="0.9"/><circle cx="266" cy="110.9" r="1" fill="#1e4b38" filter="url(#f6)" opacity="0.9"/><circle cx="271.8" cy="94" r="1.4" fill="#143446" filter="url(#f6)" opacity="0.9"/><circle cx="317.7" cy="75.7" r="1.5" fill="#5ad373" filter="url(#f6)" opacity="0.9"/><circle cx="317.7" cy="75.7" r="0.9" fill="#5ad373" filter="url(#f1)" opacity="0.9"/><circle cx="270.1" cy="43.5" r="1.2" fill="#173b33" filter="url(#f6)" opacity="0.9"/><circle cx="322.1" cy="42.2" r="1.3" fill="#16372d" filter="url(#f6)" opacity="0.9"/><circle cx="248.9" cy="38.7" r="1.2" fill="#205253" filter="url(#f6)" opacity="0.9"/><circle cx="298" cy="77.1" r="0.9" fill="#183d58" filter="url(#f6)" opacity="0.9"/><circle cx="292.5" cy="110.4" r="1.5" fill="#5acf7b" filter="url(#f6)" opacity="0.9"/><circle cx="292.5" cy="110.4" r="0.9" fill="#5acf7b" filter="url(#f1)" opacity="0.9"/><circle cx="265.9" cy="87.8" r="1.2" fill="#205033" filter="url(#f6)" opacity="0.9"/><circle cx="290.5" cy="73.1" r="1" fill="#225557" filter="url(#f6)" opacity="0.9"/><circle cx="237" cy="125.1" r="1.3" fill="#22573b" filter="url(#f6)" opacity="0.9"/><circle cx="287.8" cy="62.9" r="1.4" fill="#23593d" filter="url(#f6)" opacity="0.9"/><circle cx="307.2" cy="60.5" r="1.7" fill="#5acc69" filter="url(#f6)" opacity="0.9"/><circle cx="307.2" cy="60.5" r="1" fill="#5acc69" filter="url(#f1)" opacity="0.9"/><circle cx="235.3" cy="111.9" r="1.3" fill="#235946" filter="url(#f6)" opacity="0.9"/><circle cx="295.7" cy="119.4" r="1.3" fill="#153545" filter="url(#f6)" opacity="0.9"/><circle cx="318.9" cy="55.9" r="1.3" fill="#205041" filter="url(#f6)" opacity="0.9"/><circle cx="305.7" cy="77" r="1.7" fill="#5aea7e" filter="url(#f6)" opacity="0.9"/><circle cx="305.7" cy="77" r="1" fill="#5aea7e" filter="url(#f1)" opacity="0.9"/><circle cx="314.5" cy="82.8" r="1.3" fill="#1e4c35" filter="url(#f6)" opacity="0.9"/><circle cx="265.4" cy="86.8" r="1.1" fill="#1d4933" filter="url(#f6)" opacity="0.9"/><circle cx="290.8" cy="107.6" r="1.3" fill="#5ade64" filter="url(#f6)" opacity="0.9"/><circle cx="290.8" cy="107.6" r="0.7" fill="#5ade64" filter="url(#f1)" opacity="0.9"/><circle cx="324.4" cy="115" r="1.4" fill="#1e4b38" filter="url(#f6)" opacity="0.9"/><circle cx="303.4" cy="110.6" r="0.9" fill="#183d2e" filter="url(#f6)" opacity="0.9"/><circle cx="236.1" cy="86.1" r="1.2" fill="#1c4657" filter="url(#f6)" opacity="0.9"/><circle cx="268.7" cy="45.2" r="1.2" fill="#183d46" filter="url(#f6)" opacity="0.9"/><circle cx="268.3" cy="75.9" r="1.4" fill="#5af38b" filter="url(#f6)" opacity="0.9"/><circle cx="268.3" cy="75.9" r="0.8" fill="#5af38b" filter="url(#f1)" opacity="0.9"/><circle cx="264.4" cy="118.4" r="1.2" fill="#23572f" filter="url(#f6)" opacity="0.9"/><circle cx="323.9" cy="39.2" r="1.6" fill="#5ae788" filter="url(#f6)" opacity="0.9"/><circle cx="323.9" cy="39.2" r="0.9" fill="#5ae788" filter="url(#f1)" opacity="0.9"/><circle cx="302.5" cy="43.9" r="1" fill="#183d32" filter="url(#f6)" opacity="0.9"/><circle cx="244.8" cy="97.4" r="1.6" fill="#5ae55b" filter="url(#f6)" opacity="0.9"/><circle cx="244.8" cy="97.4" r="0.9" fill="#5ae55b" filter="url(#f1)" opacity="0.9"/><circle cx="312.8" cy="117.1" r="1.6" fill="#5ad655" filter="url(#f6)" opacity="0.9"/><circle cx="312.8" cy="117.1" r="0.9" fill="#5ad655" filter="url(#f1)" opacity="0.9"/><circle cx="273.8" cy="65.8" r="1.5" fill="#1c4749" filter="url(#f6)" opacity="0.9"/><circle cx="283.3" cy="47.5" r="1.3" fill="#183d3f" filter="url(#f6)" opacity="0.9"/><circle cx="316.2" cy="44.7" r="1.1" fill="#153455" filter="url(#f6)" opacity="0.9"/><circle cx="258.2" cy="58.1" r="0.9" fill="#1a4259" filter="url(#f6)" opacity="0.9"/><circle cx="258.5" cy="117.8" r="1.7" fill="#5ae561" filter="url(#f6)" opacity="0.9"/><circle cx="258.5" cy="117.8" r="1" fill="#5ae561" filter="url(#f1)" opacity="0.9"/><circle cx="263.3" cy="47.1" r="1.8" fill="#5aeb6f" filter="url(#f6)" opacity="0.9"/><circle cx="263.3" cy="47.1" r="1" fill="#5aeb6f" filter="url(#f1)" opacity="0.9"/><circle cx="251.8" cy="87.4" r="1.3" fill="#5ac77e" filter="url(#f6)" opacity="0.9"/><circle cx="251.8" cy="87.4" r="0.7" fill="#5ac77e" filter="url(#f1)" opacity="0.9"/><circle cx="239.5" cy="90.9" r="1.3" fill="#183e36" filter="url(#f6)" opacity="0.9"/><circle cx="286.1" cy="52.9" r="1.7" fill="#5ae668" filter="url(#f6)" opacity="0.9"/><circle cx="286.1" cy="52.9" r="1" fill="#5ae668" filter="url(#f1)" opacity="0.9"/><circle cx="262.8" cy="112.7" r="1.4" fill="#1c482d" filter="url(#f6)" opacity="0.9"/><circle cx="256.3" cy="51.4" r="0.9" fill="#1a4234" filter="url(#f6)" opacity="0.9"/><circle cx="280.2" cy="75.7" r="1" fill="#16374d" filter="url(#f6)" opacity="0.9"/><circle cx="298.2" cy="69.7" r="1.1" fill="#153454" filter="url(#f6)" opacity="0.9"/><circle cx="281.2" cy="84.2" r="1.4" fill="#5af35d" filter="url(#f6)" opacity="0.9"/><circle cx="281.2" cy="84.2" r="0.8" fill="#5af35d" filter="url(#f1)" opacity="0.9"/><circle cx="308.1" cy="36.8" r="1.6" fill="#5ae45b" filter="url(#f6)" opacity="0.9"/><circle cx="308.1" cy="36.8" r="0.9" fill="#5ae45b" filter="url(#f1)" opacity="0.9"/><circle cx="297.3" cy="43.6" r="1.2" fill="#20522f" filter="url(#f6)" opacity="0.9"/><circle cx="242.8" cy="71.9" r="1.7" fill="#5ade83" filter="url(#f6)" opacity="0.9"/><circle cx="242.8" cy="71.9" r="1" fill="#5ade83" filter="url(#f1)" opacity="0.9"/><circle cx="308.9" cy="121.7" r="1.4" fill="#1b4452" filter="url(#f6)" opacity="0.9"/><circle cx="304.3" cy="65.7" r="1.4" fill="#1a4140" filter="url(#f6)" opacity="0.9"/><circle cx="307.9" cy="113.3" r="1.5" fill="#5ada89" filter="url(#f6)" opacity="0.9"/><circle cx="307.9" cy="113.3" r="0.9" fill="#5ada89" filter="url(#f1)" opacity="0.9"/><circle cx="290.8" cy="68.1" r="0.9" fill="#153540" filter="url(#f6)" opacity="0.9"/><circle cx="322.5" cy="106.6" r="0.9" fill="#1f4e51" filter="url(#f6)" opacity="0.9"/><circle cx="291.6" cy="58.8" r="1" fill="#183e45" filter="url(#f6)" opacity="0.9"/><circle cx="280.2" cy="74.6" r="1.2" fill="#193e3a" filter="url(#f6)" opacity="0.9"/><circle cx="321.2" cy="82" r="1.2" fill="#1c4645" filter="url(#f6)" opacity="0.9"/><circle cx="269.5" cy="61" r="1.2" fill="#153545" filter="url(#f6)" opacity="0.9"/><circle cx="292.4" cy="52.8" r="1" fill="#1c4645" filter="url(#f6)" opacity="0.9"/><circle cx="267.3" cy="88.8" r="1.5" fill="#5ad183" filter="url(#f6)" opacity="0.9"/><circle cx="267.3" cy="88.8" r="0.9" fill="#5ad183" filter="url(#f1)" opacity="0.9"/><circle cx="258.1" cy="126.3" r="1.1" fill="#215434" filter="url(#f6)" opacity="0.9"/><circle cx="267.8" cy="75.1" r="0.9" fill="#153637" filter="url(#f6)" opacity="0.9"/><circle cx="263" cy="67" r="1.3" fill="#1f4d53" filter="url(#f6)" opacity="0.9"/><circle cx="301.2" cy="105" r="1.4" fill="#22554c" filter="url(#f6)" opacity="0.9"/><circle cx="231.7" cy="105.6" r="1.3" fill="#1c4858" filter="url(#f6)" opacity="0.9"/><circle cx="313.3" cy="90.8" r="1.1" fill="#1c4641" filter="url(#f6)" opacity="0.9"/><circle cx="283.5" cy="70" r="1" fill="#225553" filter="url(#f6)" opacity="0.9"/><circle cx="259.9" cy="47.6" r="1.3" fill="#1e4c30" filter="url(#f6)" opacity="0.9"/><circle cx="310.1" cy="123.6" r="1.3" fill="#1b4555" filter="url(#f6)" opacity="0.9"/><circle cx="317.8" cy="106.3" r="1.1" fill="#255e44" filter="url(#f6)" opacity="0.9"/><circle cx="264.9" cy="89.6" r="1.1" fill="#255c4b" filter="url(#f6)" opacity="0.9"/><circle cx="269" cy="86.5" r="1.2" fill="#235958" filter="url(#f6)" opacity="0.9"/><circle cx="324.9" cy="66.1" r="1.3" fill="#225634" filter="url(#f6)" opacity="0.9"/><circle cx="279.5" cy="44.3" r="1.1" fill="#205151" filter="url(#f6)" opacity="0.9"/><circle cx="278.8" cy="51.6" r="1.6" fill="#5ae074" filter="url(#f6)" opacity="0.9"/><circle cx="278.8" cy="51.6" r="0.9" fill="#5ae074" filter="url(#f1)" opacity="0.9"/><circle cx="235.3" cy="72.5" r="1.4" fill="#193f4c" filter="url(#f6)" opacity="0.9"/><circle cx="294.1" cy="52.4" r="1.4" fill="#1d4a38" filter="url(#f6)" opacity="0.9"/><circle cx="285.3" cy="72.4" r="1.3" fill="#5ac67d" filter="url(#f6)" opacity="0.9"/><circle cx="285.3" cy="72.4" r="0.8" fill="#5ac67d" filter="url(#f1)" opacity="0.9"/><circle cx="308.7" cy="91.3" r="1.3" fill="#15342d" filter="url(#f6)" opacity="0.9"/><circle cx="264.6" cy="49.8" r="1.1" fill="#153655" filter="url(#f6)" opacity="0.9"/><circle cx="267.6" cy="39.1" r="1" fill="#1e4c58" filter="url(#f6)" opacity="0.9"/><circle cx="235.4" cy="121" r="1.2" fill="#194055" filter="url(#f6)" opacity="0.9"/><circle cx="321.5" cy="80.3" r="1" fill="#183c3e" filter="url(#f6)" opacity="0.9"/><circle cx="313.6" cy="79.3" r="1.4" fill="#183c34" filter="url(#f6)" opacity="0.9"/><circle cx="258.6" cy="86.5" r="1.3" fill="#5adb67" filter="url(#f6)" opacity="0.9"/><circle cx="258.6" cy="86.5" r="0.8" fill="#5adb67" filter="url(#f1)" opacity="0.9"/><circle cx="308.9" cy="66.8" r="1.2" fill="#173a39" filter="url(#f6)" opacity="0.9"/><circle cx="263.4" cy="48.6" r="1.1" fill="#153639" filter="url(#f6)" opacity="0.9"/><circle cx="309.9" cy="109.3" r="1.4" fill="#5ad17b" filter="url(#f6)" opacity="0.9"/><circle cx="309.9" cy="109.3" r="0.8" fill="#5ad17b" filter="url(#f1)" opacity="0.9"/><circle cx="320.7" cy="81.2" r="1.4" fill="#1c4632" filter="url(#f6)" opacity="0.9"/><circle cx="286.5" cy="68.4" r="1.1" fill="#1e4d36" filter="url(#f6)" opacity="0.9"/><circle cx="282.3" cy="59.3" r="1.1" fill="#1a434a" filter="url(#f6)" opacity="0.9"/><circle cx="239.4" cy="50.6" r="1.3" fill="#19404a" filter="url(#f6)" opacity="0.9"/><circle cx="259.2" cy="40.2" r="1.1" fill="#183c32" filter="url(#f6)" opacity="0.9"/><circle cx="316.7" cy="106.5" r="1.2" fill="#235832" filter="url(#f6)" opacity="0.9"/><circle cx="293.7" cy="66.9" r="1.1" fill="#1f4f4c" filter="url(#f6)" opacity="0.9"/><circle cx="290.4" cy="51" r="1.3" fill="#5af07c" filter="url(#f6)" opacity="0.9"/><circle cx="290.4" cy="51" r="0.7" fill="#5af07c" filter="url(#f1)" opacity="0.9"/><circle cx="246.5" cy="52.5" r="1" fill="#1a432e" filter="url(#f6)" opacity="0.9"/><circle cx="310.2" cy="87.3" r="0.9" fill="#183d40" filter="url(#f6)" opacity="0.9"/><circle cx="309.7" cy="106.6" r="1" fill="#143353" filter="url(#f6)" opacity="0.9"/><circle cx="241.8" cy="108" r="1.5" fill="#245b4e" filter="url(#f6)" opacity="0.9"/><circle cx="309.2" cy="60.3" r="1.7" fill="#5af269" filter="url(#f6)" opacity="0.9"/><circle cx="309.2" cy="60.3" r="1" fill="#5af269" filter="url(#f1)" opacity="0.9"/><circle cx="309.3" cy="92.7" r="1.4" fill="#14344c" filter="url(#f6)" opacity="0.9"/><circle cx="243.3" cy="105.2" r="1.8" fill="#5ae480" filter="url(#f6)" opacity="0.9"/><circle cx="243.3" cy="105.2" r="1" fill="#5ae480" filter="url(#f1)" opacity="0.9"/><circle cx="291.2" cy="84.9" r="1" fill="#15343d" filter="url(#f6)" opacity="0.9"/><circle cx="244.1" cy="100.1" r="1.4" fill="#183c37" filter="url(#f6)" opacity="0.9"/><circle cx="264.3" cy="62" r="1.2" fill="#163846" filter="url(#f6)" opacity="0.9"/><circle cx="302.8" cy="49.8" r="0.9" fill="#1e4c41" filter="url(#f6)" opacity="0.9"/><circle cx="258.5" cy="67.7" r="1.1" fill="#153439" filter="url(#f6)" opacity="0.9"/><circle cx="241.9" cy="64.3" r="1.5" fill="#1a4234" filter="url(#f6)" opacity="0.9"/><circle cx="239.2" cy="101.1" r="1" fill="#1e4b31" filter="url(#f6)" opacity="0.9"/><circle cx="282.3" cy="34.8" r="1" fill="#1f4f49" filter="url(#f6)" opacity="0.9"/><circle cx="254.4" cy="47" r="1.6" fill="#5ae882" filter="url(#f6)" opacity="0.9"/><circle cx="254.4" cy="47" r="0.9" fill="#5ae882" filter="url(#f1)" opacity="0.9"/><circle cx="310.8" cy="120.6" r="1.3" fill="#5ae981" filter="url(#f6)" opacity="0.9"/><circle cx="310.8" cy="120.6" r="0.8" fill="#5ae981" filter="url(#f1)" opacity="0.9"/><circle cx="308.9" cy="63.9" r="0.9" fill="#1d4a3d" filter="url(#f6)" opacity="0.9"/><circle cx="284.6" cy="92.7" r="1.1" fill="#205155" filter="url(#f6)" opacity="0.9"/><circle cx="238.8" cy="98.3" r="1.5" fill="#5ad68a" filter="url(#f6)" opacity="0.9"/><circle cx="238.8" cy="98.3" r="0.9" fill="#5ad68a" filter="url(#f1)" opacity="0.9"/><circle cx="299.3" cy="34.3" r="1.2" fill="#235850" filter="url(#f6)" opacity="0.9"/><circle cx="279.7" cy="73.4" r="0.9" fill="#1b454a" filter="url(#f6)" opacity="0.9"/><circle cx="259.1" cy="75.4" r="1.6" fill="#1a4135" filter="url(#f6)" opacity="0.9"/><circle cx="316.7" cy="114.9" r="1.2" fill="#255d48" filter="url(#f6)" opacity="0.9"/><circle cx="288.6" cy="61.8" r="1.1" fill="#255c42" filter="url(#f6)" opacity="0.9"/><circle cx="314.5" cy="36.6" r="1.4" fill="#5ae36a" filter="url(#f6)" opacity="0.9"/><circle cx="314.5" cy="36.6" r="0.8" fill="#5ae36a" filter="url(#f1)" opacity="0.9"/><circle cx="270.4" cy="83.6" r="1.2" fill="#1b4332" filter="url(#f6)" opacity="0.9"/><circle cx="241.9" cy="114.6" r="1.2" fill="#153644" filter="url(#f6)" opacity="0.9"/><circle cx="252.6" cy="87.5" r="1.3" fill="#5ada73" filter="url(#f6)" opacity="0.9"/><circle cx="252.6" cy="87.5" r="0.8" fill="#5ada73" filter="url(#f1)" opacity="0.9"/><circle cx="312.5" cy="85.5" r="0.9" fill="#215432" filter="url(#f6)" opacity="0.9"/><circle cx="309.3" cy="70.6" r="1.7" fill="#5af271" filter="url(#f6)" opacity="0.9"/><circle cx="309.3" cy="70.6" r="1" fill="#5af271" filter="url(#f1)" opacity="0.9"/><circle cx="236.7" cy="56.2" r="1.3" fill="#143247" filter="url(#f6)" opacity="0.9"/><circle cx="271.3" cy="117.1" r="1" fill="#235946" filter="url(#f6)" opacity="0.9"/><circle cx="301.4" cy="65.9" r="1.6" fill="#205052" filter="url(#f6)" opacity="0.9"/><circle cx="299.1" cy="38.1" r="1.4" fill="#153645" filter="url(#f6)" opacity="0.9"/><circle cx="294.8" cy="57.8" r="1.2" fill="#5ad682" filter="url(#f6)" opacity="0.9"/><circle cx="294.8" cy="57.8" r="0.7" fill="#5ad682" filter="url(#f1)" opacity="0.9"/><circle cx="241.7" cy="108.9" r="1.3" fill="#5adc61" filter="url(#f6)" opacity="0.9"/><circle cx="241.7" cy="108.9" r="0.8" fill="#5adc61" filter="url(#f1)" opacity="0.9"/><circle cx="313.6" cy="84.3" r="1.3" fill="#225657" filter="url(#f6)" opacity="0.9"/><circle cx="313.4" cy="108.8" r="1.5" fill="#5ac881" filter="url(#f6)" opacity="0.9"/><circle cx="313.4" cy="108.8" r="0.9" fill="#5ac881" filter="url(#f1)" opacity="0.9"/><circle cx="246.2" cy="113" r="1.6" fill="#235948" filter="url(#f6)" opacity="0.9"/><circle cx="286.7" cy="38.1" r="1.4" fill="#5ad16c" filter="url(#f6)" opacity="0.9"/><circle cx="286.7" cy="38.1" r="0.8" fill="#5ad16c" filter="url(#f1)" opacity="0.9"/><circle cx="231.9" cy="88.2" r="0.9" fill="#143241" filter="url(#f6)" opacity="0.9"/><circle cx="294.4" cy="59.5" r="1.4" fill="#1d4838" filter="url(#f6)" opacity="0.9"/><circle cx="324.6" cy="37.2" r="1.2" fill="#215454" filter="url(#f6)" opacity="0.9"/><circle cx="265.4" cy="60.3" r="1.3" fill="#235957" filter="url(#f6)" opacity="0.9"/><circle cx="300.8" cy="81.6" r="1" fill="#1a4145" filter="url(#f6)" opacity="0.9"/><circle cx="261.7" cy="126.4" r="0.9" fill="#1a4237" filter="url(#f6)" opacity="0.9"/><circle cx="232" cy="115.4" r="0.9" fill="#1c4646" filter="url(#f6)" opacity="0.9"/><circle cx="259.6" cy="62.8" r="1.2" fill="#1d4a57" filter="url(#f6)" opacity="0.9"/><circle cx="238.8" cy="50.7" r="1.3" fill="#255e3d" filter="url(#f6)" opacity="0.9"/><circle cx="237.7" cy="79.3" r="1.4" fill="#183e38" filter="url(#f6)" opacity="0.9"/><circle cx="288" cy="114.8" r="0.9" fill="#173a4e" filter="url(#f6)" opacity="0.9"/><circle cx="307.4" cy="115.9" r="1.2" fill="#163835" filter="url(#f6)" opacity="0.9"/><circle cx="318.1" cy="53.8" r="1" fill="#21534a" filter="url(#f6)" opacity="0.9"/><circle cx="236.7" cy="72.7" r="1.4" fill="#5ae064" filter="url(#f6)" opacity="0.9"/><circle cx="236.7" cy="72.7" r="0.8" fill="#5ae064" filter="url(#f1)" opacity="0.9"/><circle cx="274.9" cy="35.3" r="1.3" fill="#1e4b59" filter="url(#f6)" opacity="0.9"/><circle cx="240.1" cy="48.6" r="1.5" fill="#5ae855" filter="url(#f6)" opacity="0.9"/><circle cx="240.1" cy="48.6" r="0.9" fill="#5ae855" filter="url(#f1)" opacity="0.9"/><circle cx="286.6" cy="85.9" r="1.3" fill="#1e4d3b" filter="url(#f6)" opacity="0.9"/><circle cx="303.1" cy="106.6" r="1.2" fill="#215458" filter="url(#f6)" opacity="0.9"/><circle cx="319.7" cy="46.3" r="1.8" fill="#5ad877" filter="url(#f6)" opacity="0.9"/><circle cx="319.7" cy="46.3" r="1" fill="#5ad877" filter="url(#f1)" opacity="0.9"/><circle cx="252.7" cy="104.7" r="1.6" fill="#5abf58" filter="url(#f6)" opacity="0.9"/><circle cx="252.7" cy="104.7" r="0.9" fill="#5abf58" filter="url(#f1)" opacity="0.9"/><circle cx="319.6" cy="68.2" r="1.3" fill="#5ac77c" filter="url(#f6)" opacity="0.9"/><circle cx="319.6" cy="68.2" r="0.7" fill="#5ac77c" filter="url(#f1)" opacity="0.9"/><circle cx="304.4" cy="56.7" r="1.1" fill="#1c4849" filter="url(#f6)" opacity="0.9"/><circle cx="261.7" cy="118.5" r="1.7" fill="#5ae653" filter="url(#f6)" opacity="0.9"/><circle cx="261.7" cy="118.5" r="1" fill="#5ae653" filter="url(#f1)" opacity="0.9"/><circle cx="236.9" cy="86.8" r="1" fill="#245b57" filter="url(#f6)" opacity="0.9"/><circle cx="250.4" cy="105" r="0.9" fill="#193f59" filter="url(#f6)" opacity="0.9"/><circle cx="312.4" cy="115.3" r="1.1" fill="#215352" filter="url(#f6)" opacity="0.9"/><circle cx="315.1" cy="49.1" r="1" fill="#1e4c41" filter="url(#f6)" opacity="0.9"/><circle cx="314.4" cy="67.7" r="1" fill="#235835" filter="url(#f6)" opacity="0.9"/><circle cx="233.6" cy="44.4" r="1.1" fill="#143256" filter="url(#f6)" opacity="0.9"/><circle cx="295.5" cy="42.4" r="0.9" fill="#245b4d" filter="url(#f6)" opacity="0.9"/><circle cx="253.4" cy="108.1" r="0.9" fill="#143343" filter="url(#f6)" opacity="0.9"/><circle cx="233.2" cy="126.6" r="1.1" fill="#235932" filter="url(#f6)" opacity="0.9"/><circle cx="248.1" cy="98.1" r="1.6" fill="#5ae66e" filter="url(#f6)" opacity="0.9"/><circle cx="248.1" cy="98.1" r="0.9" fill="#5ae66e" filter="url(#f1)" opacity="0.9"/><circle cx="264.1" cy="54.1" r="1" fill="#23594d" filter="url(#f6)" opacity="0.9"/><circle cx="237.8" cy="38" r="1.2" fill="#1b4446" filter="url(#f6)" opacity="0.9"/><circle cx="292.7" cy="84.9" r="1.1" fill="#205159" filter="url(#f6)" opacity="0.9"/><circle cx="261.2" cy="73.2" r="1.4" fill="#1a433e" filter="url(#f6)" opacity="0.9"/><circle cx="231.8" cy="90.8" r="1" fill="#183d48" filter="url(#f6)" opacity="0.9"/><circle cx="242.2" cy="112.8" r="1.2" fill="#245a2f" filter="url(#f6)" opacity="0.9"/><circle cx="282.9" cy="63.5" r="1.2" fill="#14324e" filter="url(#f6)" opacity="0.9"/><circle cx="324.8" cy="55.9" r="1.2" fill="#21533e" filter="url(#f6)" opacity="0.9"/><circle cx="288.9" cy="97.3" r="1" fill="#1f4e45" filter="url(#f6)" opacity="0.9"/><circle cx="316.7" cy="78.3" r="1.4" fill="#1d4942" filter="url(#f6)" opacity="0.9"/><circle cx="281" cy="83" r="1.4" fill="#225637" filter="url(#f6)" opacity="0.9"/><circle cx="309.1" cy="117.6" r="0.9" fill="#14333e" filter="url(#f6)" opacity="0.9"/><circle cx="264.8" cy="109.1" r="1.3" fill="#1c4630" filter="url(#f6)" opacity="0.9"/><circle cx="273.5" cy="78.7" r="1.2" fill="#215433" filter="url(#f6)" opacity="0.9"/><circle cx="267.1" cy="35.7" r="1.2" fill="#1e4b2f" filter="url(#f6)" opacity="0.9"/><circle cx="254" cy="112" r="1.7" fill="#5ae083" filter="url(#f6)" opacity="0.9"/><circle cx="254" cy="112" r="1" fill="#5ae083" filter="url(#f1)" opacity="0.9"/><circle cx="289.4" cy="68.7" r="1.5" fill="#5ad666" filter="url(#f6)" opacity="0.9"/><circle cx="289.4" cy="68.7" r="0.8" fill="#5ad666" filter="url(#f1)" opacity="0.9"/><circle cx="292.2" cy="109.8" r="1.4" fill="#1a4347" filter="url(#f6)" opacity="0.9"/><circle cx="298.2" cy="68.8" r="1.2" fill="#194030" filter="url(#f6)" opacity="0.9"/><circle cx="278" cy="118.3" r="1.3" fill="#143347" filter="url(#f6)" opacity="0.9"/><circle cx="270.3" cy="78.3" r="1.2" fill="#1b4543" filter="url(#f6)" opacity="0.9"/><circle cx="300.9" cy="71.6" r="1.3" fill="#5ae371" filter="url(#f6)" opacity="0.9"/><circle cx="300.9" cy="71.6" r="0.8" fill="#5ae371" filter="url(#f1)" opacity="0.9"/><circle cx="252" cy="41.2" r="0.9" fill="#153630" filter="url(#f6)" opacity="0.9"/><circle cx="295.3" cy="100.5" r="1.4" fill="#14344c" filter="url(#f6)" opacity="0.9"/><circle cx="308.1" cy="115.5" r="1.4" fill="#5ad06f" filter="url(#f6)" opacity="0.9"/><circle cx="308.1" cy="115.5" r="0.8" fill="#5ad06f" filter="url(#f1)" opacity="0.9"/><circle cx="260.7" cy="57.8" r="1" fill="#1e4b43" filter="url(#f6)" opacity="0.9"/><circle cx="312.8" cy="109" r="1.3" fill="#183d36" filter="url(#f6)" opacity="0.9"/><circle cx="277.3" cy="88.6" r="0.9" fill="#225636" filter="url(#f6)" opacity="0.9"/><circle cx="260.8" cy="83.8" r="1" fill="#1e4b3b" filter="url(#f6)" opacity="0.9"/><circle cx="298.1" cy="109" r="0.9" fill="#1c4657" filter="url(#f6)" opacity="0.9"/><circle cx="272.1" cy="93.8" r="1.8" fill="#5aed54" filter="url(#f6)" opacity="0.9"/><circle cx="272.1" cy="93.8" r="1" fill="#5aed54" filter="url(#f1)" opacity="0.9"/><circle cx="284" cy="108.9" r="1.3" fill="#20504b" filter="url(#f6)" opacity="0.9"/><circle cx="245" cy="119.8" r="1.1" fill="#153631" filter="url(#f6)" opacity="0.9"/><circle cx="293.2" cy="58.1" r="1.5" fill="#205033" filter="url(#f6)" opacity="0.9"/><circle cx="258.9" cy="55.8" r="1.5" fill="#194046" filter="url(#f6)" opacity="0.9"/><circle cx="245.6" cy="108.7" r="1" fill="#1b432e" filter="url(#f6)" opacity="0.9"/><circle cx="282.6" cy="42.8" r="1.3" fill="#215240" filter="url(#f6)" opacity="0.9"/><circle cx="242.8" cy="120.3" r="1.3" fill="#245c44" filter="url(#f6)" opacity="0.9"/><circle cx="278" cy="120.9" r="1.3" fill="#5ad883" filter="url(#f6)" opacity="0.9"/><circle cx="278" cy="120.9" r="0.7" fill="#5ad883" filter="url(#f1)" opacity="0.9"/><circle cx="244.4" cy="59.4" r="1.4" fill="#183c56" filter="url(#f6)" opacity="0.9"/><circle cx="320.1" cy="95.4" r="1.3" fill="#5ad06a" filter="url(#f6)" opacity="0.9"/><circle cx="320.1" cy="95.4" r="0.8" fill="#5ad06a" filter="url(#f1)" opacity="0.9"/><circle cx="305.3" cy="61.9" r="1.6" fill="#5adc55" filter="url(#f6)" opacity="0.9"/><circle cx="305.3" cy="61.9" r="0.9" fill="#5adc55" filter="url(#f1)" opacity="0.9"/><circle cx="274.7" cy="37.2" r="1.3" fill="#15364a" filter="url(#f6)" opacity="0.9"/></g><g clip-path="url(#c2)"><rect x="329" y="35" width="92" height="91.5" fill="#000"/><ellipse cx="366.2" cy="53.4" rx="3.5" ry="3.7" fill="#10082a" filter="url(#f3)" opacity="0.7"/><ellipse cx="398.9" cy="58.1" rx="4.1" ry="5.1" fill="#10082a" filter="url(#f3)" opacity="0.7"/><ellipse cx="378.6" cy="121.3" rx="4.5" ry="4.3" fill="#10082a" filter="url(#f3)" opacity="0.7"/><ellipse cx="385.4" cy="54.9" rx="5.7" ry="4.1" fill="#10082a" filter="url(#f3)" opacity="0.7"/><ellipse cx="364.7" cy="97.8" rx="3.5" ry="5" fill="#10082a" filter="url(#f3)" opacity="0.7"/><ellipse cx="407.2" cy="66.2" rx="5.8" ry="4.6" fill="#10082a" filter="url(#f3)" opacity="0.7"/><ellipse cx="400.3" cy="78.2" rx="4.2" ry="3.8" fill="#10082a" filter="url(#f3)" opacity="0.7"/><ellipse cx="329.7" cy="53.7" rx="6" ry="4.6" fill="#10082a" filter="url(#f3)" opacity="0.7"/><ellipse cx="371.5" cy="117.8" rx="4.8" ry="5.9" fill="#10082a" filter="url(#f3)" opacity="0.7"/><ellipse cx="361.9" cy="54.9" rx="5.8" ry="3.5" fill="#10082a" filter="url(#f3)" opacity="0.7"/><ellipse cx="401.8" cy="89.8" rx="5.9" ry="5.8" fill="#10082a" filter="url(#f3)" opacity="0.7"/><ellipse cx="389.7" cy="38.4" rx="3.1" ry="4.4" fill="#10082a" filter="url(#f3)" opacity="0.7"/><ellipse cx="404.4" cy="42.5" rx="4.3" ry="3.3" fill="#10082a" filter="url(#f3)" opacity="0.7"/><ellipse cx="357.5" cy="35.5" rx="4" ry="4.6" fill="#10082a" filter="url(#f3)" opacity="0.7"/><ellipse cx="347.5" cy="107.4" rx="3.2" ry="3.6" fill="#10082a" filter="url(#f3)" opacity="0.7"/><ellipse cx="352.7" cy="72.2" rx="5.3" ry="4.1" fill="#10082a" filter="url(#f3)" opacity="0.7"/><ellipse cx="392.9" cy="119.8" rx="3.4" ry="5.6" fill="#10082a" filter="url(#f3)" opacity="0.7"/><ellipse cx="384.2" cy="103.7" rx="4.8" ry="4.2" fill="#10082a" filter="url(#f3)" opacity="0.7"/><ellipse cx="337.9" cy="48.2" rx="3.5" ry="3.5" fill="#10082a" filter="url(#f3)" opacity="0.7"/><ellipse cx="342.4" cy="54.1" rx="4.7" ry="5.3" fill="#10082a" filter="url(#f3)" opacity="0.7"/><ellipse cx="402.4" cy="112.8" rx="3.4" ry="5.5" fill="#10082a" filter="url(#f3)" opacity="0.7"/><ellipse cx="346.1" cy="41.7" rx="3.9" ry="4.8" fill="#10082a" filter="url(#f3)" opacity="0.7"/><ellipse cx="333.4" cy="54.9" rx="4.2" ry="5.5" fill="#10082a" filter="url(#f3)" opacity="0.7"/><ellipse cx="365.7" cy="73.1" rx="4.1" ry="3.3" fill="#10082a" filter="url(#f3)" opacity="0.7"/><ellipse cx="409.9" cy="119.9" rx="5.2" ry="4.2" fill="#10082a" filter="url(#f3)" opacity="0.7"/><ellipse cx="369.8" cy="63.7" rx="5" ry="5" fill="#10082a" filter="url(#f3)" opacity="0.7"/><ellipse cx="357.6" cy="115.4" rx="5.2" ry="3.7" fill="#10082a" filter="url(#f3)" opacity="0.7"/><ellipse cx="403.5" cy="97" rx="3.7" ry="3.9" fill="#10082a" filter="url(#f3)" opacity="0.7"/><ellipse cx="398.1" cy="42.4" rx="4.3" ry="5.9" fill="#10082a" filter="url(#f3)" opacity="0.7"/><ellipse cx="352.6" cy="81.3" rx="5.7" ry="5.6" fill="#10082a" filter="url(#f3)" opacity="0.7"/><circle cx="358.4" cy="48.1" r="1.1" fill="#0f012c" filter="url(#f6)" opacity="0.9"/><circle cx="331.5" cy="74.5" r="1.4" fill="#100136" filter="url(#f6)" opacity="0.9"/><circle cx="387" cy="122.6" r="1.1" fill="#ae0b58" filter="url(#f6)" opacity="0.9"/><circle cx="387" cy="122.6" r="0.7" fill="#ae0b58" filter="url(#f1)" opacity="0.9"/><circle cx="339.1" cy="62.8" r="1.2" fill="#17012f" filter="url(#f6)" opacity="0.9"/><circle cx="333.9" cy="39.6" r="1.1" fill="#1d012c" filter="url(#f6)" opacity="0.9"/><circle cx="356.2" cy="108.3" r="1.3" fill="#250231" filter="url(#f6)" opacity="0.9"/><circle cx="355.1" cy="125.6" r="1.4" fill="#960a5d" filter="url(#f6)" opacity="0.9"/><circle cx="355.1" cy="125.6" r="0.8" fill="#960a5d" filter="url(#f1)" opacity="0.9"/><circle cx="399.9" cy="87.6" r="1.1" fill="#1d0133" filter="url(#f6)" opacity="0.9"/><circle cx="407" cy="122.3" r="1.4" fill="#1e0222" filter="url(#f6)" opacity="0.9"/><circle cx="405.3" cy="60.6" r="0.9" fill="#12011f" filter="url(#f6)" opacity="0.9"/><circle cx="333.5" cy="105.8" r="1.5" fill="#0f0135" filter="url(#f6)" opacity="0.9"/><circle cx="379.6" cy="116.6" r="1.4" fill="#170127" filter="url(#f6)" opacity="0.9"/><circle cx="418" cy="48.1" r="1.4" fill="#1d0132" filter="url(#f6)" opacity="0.9"/><circle cx="328.4" cy="73.2" r="1.2" fill="#1b013a" filter="url(#f6)" opacity="0.9"/><circle cx="391.6" cy="39" r="1.1" fill="#180137" filter="url(#f6)" opacity="0.9"/><circle cx="337.7" cy="93.3" r="1.3" fill="#8b0947" filter="url(#f6)" opacity="0.9"/><circle cx="337.7" cy="93.3" r="0.7" fill="#8b0947" filter="url(#f1)" opacity="0.9"/><circle cx="342.2" cy="43.5" r="1" fill="#110136" filter="url(#f6)" opacity="0.9"/><circle cx="360.7" cy="68" r="1.3" fill="#1a014d" filter="url(#f6)" opacity="0.9"/><circle cx="337.6" cy="66" r="1.2" fill="#b50c43" filter="url(#f6)" opacity="0.9"/><circle cx="337.6" cy="66" r="0.7" fill="#b50c43" filter="url(#f1)" opacity="0.9"/><circle cx="379.1" cy="36.5" r="1.1" fill="#140136" filter="url(#f6)" opacity="0.9"/><circle cx="343.7" cy="106.2" r="1.4" fill="#23022a" filter="url(#f6)" opacity="0.9"/><circle cx="408.1" cy="109.4" r="0.9" fill="#170125" filter="url(#f6)" opacity="0.9"/><circle cx="330.6" cy="60.1" r="1.4" fill="#26023c" filter="url(#f6)" opacity="0.9"/><circle cx="417.8" cy="68.1" r="1.4" fill="#1e0226" filter="url(#f6)" opacity="0.9"/><circle cx="407" cy="78.8" r="1.3" fill="#260224" filter="url(#f6)" opacity="0.9"/><circle cx="398.5" cy="78.7" r="1.5" fill="#270237" filter="url(#f6)" opacity="0.9"/><circle cx="365.7" cy="122.5" r="1.3" fill="#b20b42" filter="url(#f6)" opacity="0.9"/><circle cx="365.7" cy="122.5" r="0.8" fill="#b20b42" filter="url(#f1)" opacity="0.9"/><circle cx="405.7" cy="125.7" r="1.4" fill="#750741" filter="url(#f6)" opacity="0.9"/><circle cx="405.7" cy="125.7" r="0.8" fill="#750741" filter="url(#f1)" opacity="0.9"/><circle cx="377.5" cy="121.3" r="1" fill="#140135" filter="url(#f6)" opacity="0.9"/><circle cx="350.6" cy="88.8" r="1.1" fill="#170123" filter="url(#f6)" opacity="0.9"/><circle cx="382.8" cy="118.6" r="0.9" fill="#1b012e" filter="url(#f6)" opacity="0.9"/><circle cx="369.4" cy="51.1" r="1.6" fill="#210230" filter="url(#f6)" opacity="0.9"/><circle cx="358.6" cy="82.5" r="1" fill="#140121" filter="url(#f6)" opacity="0.9"/><circle cx="400.6" cy="81.5" r="1.1" fill="#1e0239" filter="url(#f6)" opacity="0.9"/><circle cx="376.1" cy="98.8" r="1.4" fill="#20022e" filter="url(#f6)" opacity="0.9"/><circle cx="416.6" cy="58.3" r="1.1" fill="#7d084a" filter="url(#f6)" opacity="0.9"/><circle cx="416.6" cy="58.3" r="0.6" fill="#7d084a" filter="url(#f1)" opacity="0.9"/><circle cx="350.6" cy="40.8" r="1.2" fill="#a50b54" filter="url(#f6)" opacity="0.9"/><circle cx="350.6" cy="40.8" r="0.7" fill="#a50b54" filter="url(#f1)" opacity="0.9"/><circle cx="411" cy="124.5" r="1.3" fill="#28022d" filter="url(#f6)" opacity="0.9"/><circle cx="359.9" cy="52.3" r="0.9" fill="#190120" filter="url(#f6)" opacity="0.9"/><circle cx="359.2" cy="92.3" r="0.9" fill="#27023d" filter="url(#f6)" opacity="0.9"/><circle cx="353" cy="37.7" r="1.3" fill="#260226" filter="url(#f6)" opacity="0.9"/><circle cx="352.3" cy="48" r="1.3" fill="#780846" filter="url(#f6)" opacity="0.9"/><circle cx="352.3" cy="48" r="0.7" fill="#780846" filter="url(#f1)" opacity="0.9"/><circle cx="334.8" cy="121.7" r="1.3" fill="#0f0120" filter="url(#f6)" opacity="0.9"/><circle cx="370.7" cy="65.7" r="1.1" fill="#980a40" filter="url(#f6)" opacity="0.9"/><circle cx="370.7" cy="65.7" r="0.6" fill="#980a40" filter="url(#f1)" opacity="0.9"/><circle cx="343.2" cy="38.7" r="1.1" fill="#150127" filter="url(#f6)" opacity="0.9"/><circle cx="351.5" cy="35.4" r="0.9" fill="#260227" filter="url(#f6)" opacity="0.9"/><circle cx="405" cy="74.4" r="1.4" fill="#20022c" filter="url(#f6)" opacity="0.9"/><circle cx="360.2" cy="111.8" r="0.9" fill="#0e0028" filter="url(#f6)" opacity="0.9"/><circle cx="334.6" cy="103.3" r="1.2" fill="#250224" filter="url(#f6)" opacity="0.9"/><circle cx="354.5" cy="56.6" r="1.4" fill="#140123" filter="url(#f6)" opacity="0.9"/><circle cx="419.4" cy="85.2" r="1.1" fill="#0d0026" filter="url(#f6)" opacity="0.9"/><circle cx="372.6" cy="81" r="1.1" fill="#0f011e" filter="url(#f6)" opacity="0.9"/><circle cx="331.9" cy="36.1" r="1.2" fill="#210231" filter="url(#f6)" opacity="0.9"/><circle cx="395.3" cy="116.2" r="1.2" fill="#a50b56" filter="url(#f6)" opacity="0.9"/><circle cx="395.3" cy="116.2" r="0.7" fill="#a50b56" filter="url(#f1)" opacity="0.9"/><circle cx="406.5" cy="117.4" r="1.5" fill="#980a4f" filter="url(#f6)" opacity="0.9"/><circle cx="406.5" cy="117.4" r="0.9" fill="#980a4f" filter="url(#f1)" opacity="0.9"/><circle cx="403.6" cy="111.3" r="0.9" fill="#130131" filter="url(#f6)" opacity="0.9"/><circle cx="406.6" cy="86.2" r="1.3" fill="#0d0030" filter="url(#f6)" opacity="0.9"/><circle cx="398.3" cy="81" r="0.9" fill="#140120" filter="url(#f6)" opacity="0.9"/><circle cx="353" cy="102.2" r="1.1" fill="#17013a" filter="url(#f6)" opacity="0.9"/><circle cx="392.3" cy="105.7" r="1.3" fill="#860837" filter="url(#f6)" opacity="0.9"/><circle cx="392.3" cy="105.7" r="0.7" fill="#860837" filter="url(#f1)" opacity="0.9"/><circle cx="381.4" cy="35.2" r="1.4" fill="#1f0242" filter="url(#f6)" opacity="0.9"/><circle cx="376.6" cy="77.4" r="1.4" fill="#27023b" filter="url(#f6)" opacity="0.9"/><circle cx="329.6" cy="76.9" r="1.4" fill="#13012a" filter="url(#f6)" opacity="0.9"/><circle cx="347.8" cy="88.4" r="1.6" fill="#ac0b68" filter="url(#f6)" opacity="0.9"/><circle cx="347.8" cy="88.4" r="0.9" fill="#ac0b68" filter="url(#f1)" opacity="0.9"/><circle cx="394.1" cy="55.6" r="1.2" fill="#960a39" filter="url(#f6)" opacity="0.9"/><circle cx="394.1" cy="55.6" r="0.7" fill="#960a39" filter="url(#f1)" opacity="0.9"/><circle cx="407" cy="34.2" r="1.4" fill="#200224" filter="url(#f6)" opacity="0.9"/><circle cx="355.2" cy="68.8" r="1" fill="#19012f" filter="url(#f6)" opacity="0.9"/><circle cx="332.5" cy="43.5" r="1.1" fill="#140138" filter="url(#f6)" opacity="0.9"/><circle cx="345.8" cy="68.9" r="1.2" fill="#260233" filter="url(#f6)" opacity="0.9"/><circle cx="395.6" cy="38.6" r="0.9" fill="#150133" filter="url(#f6)" opacity="0.9"/><circle cx="415.1" cy="45.9" r="1" fill="#27022b" filter="url(#f6)" opacity="0.9"/><circle cx="389.7" cy="62.1" r="1.4" fill="#830839" filter="url(#f6)" opacity="0.9"/><circle cx="389.7" cy="62.1" r="0.8" fill="#830839" filter="url(#f1)" opacity="0.9"/><circle cx="348.7" cy="118.7" r="1" fill="#0f0121" filter="url(#f6)" opacity="0.9"/><circle cx="336.6" cy="56.4" r="1.1" fill="#180137" filter="url(#f6)" opacity="0.9"/><circle cx="377.3" cy="69.2" r="1.1" fill="#100125" filter="url(#f6)" opacity="0.9"/><circle cx="387.2" cy="114.7" r="1.4" fill="#190126" filter="url(#f6)" opacity="0.9"/><circle cx="407.8" cy="115.6" r="1.6" fill="#1a0142" filter="url(#f6)" opacity="0.9"/><circle cx="328" cy="70.6" r="0.9" fill="#140136" filter="url(#f6)" opacity="0.9"/><circle cx="342.5" cy="82.8" r="1.1" fill="#220235" filter="url(#f6)" opacity="0.9"/><circle cx="379.8" cy="37.7" r="0.9" fill="#150138" filter="url(#f6)" opacity="0.9"/><circle cx="351.7" cy="93.5" r="1.1" fill="#1d0122" filter="url(#f6)" opacity="0.9"/><circle cx="349" cy="90.2" r="1.7" fill="#1e023a" filter="url(#f6)" opacity="0.9"/><circle cx="372.7" cy="56" r="1.1" fill="#0e0030" filter="url(#f6)" opacity="0.9"/><circle cx="391.4" cy="73.3" r="1" fill="#0e0036" filter="url(#f6)" opacity="0.9"/><circle cx="367.5" cy="97.8" r="1.8" fill="#130142" filter="url(#f6)" opacity="0.9"/><circle cx="357.3" cy="110.7" r="1.1" fill="#270237" filter="url(#f6)" opacity="0.9"/><circle cx="390.5" cy="122.7" r="1.3" fill="#11012f" filter="url(#f6)" opacity="0.9"/><circle cx="333.7" cy="70.8" r="1" fill="#260236" filter="url(#f6)" opacity="0.9"/><circle cx="345.4" cy="121.5" r="1" fill="#170131" filter="url(#f6)" opacity="0.9"/><circle cx="343.9" cy="34.3" r="1.2" fill="#b60c59" filter="url(#f6)" opacity="0.9"/><circle cx="343.9" cy="34.3" r="0.7" fill="#b60c59" filter="url(#f1)" opacity="0.9"/><circle cx="405.2" cy="110.9" r="1" fill="#26022f" filter="url(#f6)" opacity="0.9"/><circle cx="362.2" cy="117.9" r="1.3" fill="#0e0044" filter="url(#f6)" opacity="0.9"/><circle cx="333.9" cy="120" r="1.4" fill="#140137" filter="url(#f6)" opacity="0.9"/><circle cx="386" cy="58.5" r="1.4" fill="#a80b44" filter="url(#f6)" opacity="0.9"/><circle cx="386" cy="58.5" r="0.8" fill="#a80b44" filter="url(#f1)" opacity="0.9"/><circle cx="416.7" cy="36.3" r="1" fill="#170139" filter="url(#f6)" opacity="0.9"/><circle cx="368.4" cy="80.1" r="1.3" fill="#230237" filter="url(#f6)" opacity="0.9"/><circle cx="385.1" cy="64.6" r="1.3" fill="#82084a" filter="url(#f6)" opacity="0.9"/><circle cx="385.1" cy="64.6" r="0.7" fill="#82084a" filter="url(#f1)" opacity="0.9"/><circle cx="334.1" cy="37.2" r="1" fill="#28023d" filter="url(#f6)" opacity="0.9"/><circle cx="335.9" cy="43" r="1.2" fill="#18012c" filter="url(#f6)" opacity="0.9"/><circle cx="391.4" cy="103.9" r="1.2" fill="#150122" filter="url(#f6)" opacity="0.9"/><circle cx="363.1" cy="103" r="1.6" fill="#b00b50" filter="url(#f6)" opacity="0.9"/><circle cx="363.1" cy="103" r="0.9" fill="#b00b50" filter="url(#f1)" opacity="0.9"/><circle cx="365.2" cy="126.8" r="0.9" fill="#280238" filter="url(#f6)" opacity="0.9"/><circle cx="372.6" cy="110.6" r="1" fill="#10011f" filter="url(#f6)" opacity="0.9"/><circle cx="419.5" cy="88.5" r="1.3" fill="#140136" filter="url(#f6)" opacity="0.9"/><circle cx="416.9" cy="43.9" r="1" fill="#110124" filter="url(#f6)" opacity="0.9"/><circle cx="352" cy="90" r="1" fill="#1f0221" filter="url(#f6)" opacity="0.9"/><circle cx="357.3" cy="53" r="1.4" fill="#8f0939" filter="url(#f6)" opacity="0.9"/><circle cx="357.3" cy="53" r="0.8" fill="#8f0939" filter="url(#f1)" opacity="0.9"/><circle cx="336.6" cy="49.3" r="1" fill="#27022a" filter="url(#f6)" opacity="0.9"/><circle cx="381.3" cy="67.4" r="1.3" fill="#120139" filter="url(#f6)" opacity="0.9"/><circle cx="347.1" cy="34.5" r="1.1" fill="#250238" filter="url(#f6)" opacity="0.9"/><circle cx="343.3" cy="35.4" r="1.3" fill="#9e0a53" filter="url(#f6)" opacity="0.9"/><circle cx="343.3" cy="35.4" r="0.8" fill="#9e0a53" filter="url(#f1)" opacity="0.9"/><circle cx="415" cy="44.2" r="1.4" fill="#100138" filter="url(#f6)" opacity="0.9"/><circle cx="419.7" cy="79.1" r="1.7" fill="#1e0238" filter="url(#f6)" opacity="0.9"/><circle cx="343.1" cy="107.5" r="1" fill="#120135" filter="url(#f6)" opacity="0.9"/><circle cx="365.6" cy="82.4" r="0.9" fill="#250229" filter="url(#f6)" opacity="0.9"/><circle cx="380.9" cy="104.8" r="1.6" fill="#1c012d" filter="url(#f6)" opacity="0.9"/><circle cx="356.8" cy="73.3" r="0.9" fill="#190131" filter="url(#f6)" opacity="0.9"/><circle cx="386.2" cy="79.8" r="1.1" fill="#120133" filter="url(#f6)" opacity="0.9"/><circle cx="338.1" cy="46" r="1.2" fill="#0e0029" filter="url(#f6)" opacity="0.9"/><circle cx="335.7" cy="102.6" r="1.4" fill="#170121" filter="url(#f6)" opacity="0.9"/><circle cx="340.8" cy="114.1" r="1.1" fill="#280239" filter="url(#f6)" opacity="0.9"/><circle cx="417.9" cy="119.6" r="1.7" fill="#8c0961" filter="url(#f6)" opacity="0.9"/><circle cx="417.9" cy="119.6" r="1" fill="#8c0961" filter="url(#f1)" opacity="0.9"/><circle cx="412.3" cy="59.7" r="1" fill="#13012c" filter="url(#f6)" opacity="0.9"/><circle cx="375.6" cy="63.8" r="1.7" fill="#1f0230" filter="url(#f6)" opacity="0.9"/><circle cx="343.9" cy="107.4" r="1.6" fill="#250242" filter="url(#f6)" opacity="0.9"/><circle cx="382.5" cy="116.5" r="1.4" fill="#230241" filter="url(#f6)" opacity="0.9"/><circle cx="421.1" cy="88" r="1.5" fill="#a70b48" filter="url(#f6)" opacity="0.9"/><circle cx="421.1" cy="88" r="0.9" fill="#a70b48" filter="url(#f1)" opacity="0.9"/><circle cx="351.8" cy="93.8" r="0.9" fill="#0d002f" filter="url(#f6)" opacity="0.9"/><circle cx="342" cy="91.6" r="1.2" fill="#84084d" filter="url(#f6)" opacity="0.9"/><circle cx="342" cy="91.6" r="0.7" fill="#84084d" filter="url(#f1)" opacity="0.9"/><circle cx="328.2" cy="67.2" r="1.4" fill="#1d0131" filter="url(#f6)" opacity="0.9"/><circle cx="386.6" cy="78.4" r="1.6" fill="#7b0845" filter="url(#f6)" opacity="0.9"/><circle cx="386.6" cy="78.4" r="0.9" fill="#7b0845" filter="url(#f1)" opacity="0.9"/><circle cx="401.5" cy="71.6" r="1.2" fill="#160131" filter="url(#f6)" opacity="0.9"/><circle cx="369.7" cy="121.6" r="1.2" fill="#980a51" filter="url(#f6)" opacity="0.9"/><circle cx="369.7" cy="121.6" r="0.7" fill="#980a51" filter="url(#f1)" opacity="0.9"/><circle cx="333.5" cy="106.8" r="1.6" fill="#82085f" filter="url(#f6)" opacity="0.9"/><circle cx="333.5" cy="106.8" r="0.9" fill="#82085f" filter="url(#f1)" opacity="0.9"/><circle cx="388.3" cy="110.1" r="1.7" fill="#b10b52" filter="url(#f6)" opacity="0.9"/><circle cx="388.3" cy="110.1" r="1" fill="#b10b52" filter="url(#f1)" opacity="0.9"/><circle cx="328.6" cy="113" r="0.9" fill="#130132" filter="url(#f6)" opacity="0.9"/><circle cx="349.8" cy="37.6" r="1" fill="#200234" filter="url(#f6)" opacity="0.9"/><circle cx="380.1" cy="74.8" r="1" fill="#27022a" filter="url(#f6)" opacity="0.9"/><circle cx="410.7" cy="35.4" r="1" fill="#210235" filter="url(#f6)" opacity="0.9"/><circle cx="410.7" cy="64.7" r="1.4" fill="#1f0232" filter="url(#f6)" opacity="0.9"/><circle cx="372.1" cy="112.5" r="1" fill="#1c012c" filter="url(#f6)" opacity="0.9"/><circle cx="347.9" cy="92.2" r="1.8" fill="#7c0842" filter="url(#f6)" opacity="0.9"/><circle cx="347.9" cy="92.2" r="1" fill="#7c0842" filter="url(#f1)" opacity="0.9"/><circle cx="341.3" cy="36.7" r="1.3" fill="#210241" filter="url(#f6)" opacity="0.9"/><circle cx="383.5" cy="68" r="1.6" fill="#af0b56" filter="url(#f6)" opacity="0.9"/><circle cx="383.5" cy="68" r="0.9" fill="#af0b56" filter="url(#f1)" opacity="0.9"/><circle cx="338.1" cy="53.2" r="1.7" fill="#1e0248" filter="url(#f6)" opacity="0.9"/><circle cx="387.4" cy="60.9" r="1.5" fill="#160143" filter="url(#f6)" opacity="0.9"/><circle cx="330" cy="58" r="1.1" fill="#27022c" filter="url(#f6)" opacity="0.9"/><circle cx="408" cy="91.8" r="1.6" fill="#160138" filter="url(#f6)" opacity="0.9"/><circle cx="378.6" cy="54.2" r="1.5" fill="#750748" filter="url(#f6)" opacity="0.9"/><circle cx="378.6" cy="54.2" r="0.9" fill="#750748" filter="url(#f1)" opacity="0.9"/><circle cx="419.9" cy="34.4" r="1.1" fill="#1a0135" filter="url(#f6)" opacity="0.9"/><circle cx="406.2" cy="58.4" r="0.9" fill="#1a0126" filter="url(#f6)" opacity="0.9"/><circle cx="387.8" cy="41.6" r="1.1" fill="#170134" filter="url(#f6)" opacity="0.9"/><circle cx="365.1" cy="117.3" r="1.7" fill="#140129" filter="url(#f6)" opacity="0.9"/><circle cx="375.1" cy="69.5" r="1.3" fill="#21022e" filter="url(#f6)" opacity="0.9"/><circle cx="388.8" cy="66.6" r="1" fill="#210238" filter="url(#f6)" opacity="0.9"/><circle cx="369.2" cy="106.3" r="1" fill="#13012b" filter="url(#f6)" opacity="0.9"/><circle cx="356.3" cy="99.7" r="1.2" fill="#160123" filter="url(#f6)" opacity="0.9"/><circle cx="419.7" cy="102.1" r="1.7" fill="#28022f" filter="url(#f6)" opacity="0.9"/><circle cx="396.9" cy="74.7" r="1.3" fill="#17012c" filter="url(#f6)" opacity="0.9"/><circle cx="365.5" cy="108" r="1.2" fill="#11012f" filter="url(#f6)" opacity="0.9"/><circle cx="366" cy="103.3" r="1" fill="#18012f" filter="url(#f6)" opacity="0.9"/><circle cx="395.9" cy="116.3" r="1.1" fill="#1e0238" filter="url(#f6)" opacity="0.9"/><circle cx="357.4" cy="92.7" r="1.4" fill="#1e0246" filter="url(#f6)" opacity="0.9"/><circle cx="367.8" cy="76.6" r="1.2" fill="#120130" filter="url(#f6)" opacity="0.9"/><circle cx="401.1" cy="70.3" r="1.3" fill="#11011f" filter="url(#f6)" opacity="0.9"/><circle cx="416.4" cy="82.5" r="1.6" fill="#1b013c" filter="url(#f6)" opacity="0.9"/><circle cx="405.9" cy="82.8" r="1.3" fill="#180125" filter="url(#f6)" opacity="0.9"/><circle cx="339.5" cy="126" r="1.1" fill="#0d0025" filter="url(#f6)" opacity="0.9"/><circle cx="367.5" cy="99.3" r="1.2" fill="#260228" filter="url(#f6)" opacity="0.9"/><circle cx="348.6" cy="108.9" r="1.2" fill="#230225" filter="url(#f6)" opacity="0.9"/><circle cx="372.1" cy="86.6" r="1.3" fill="#23022b" filter="url(#f6)" opacity="0.9"/><circle cx="372" cy="61.5" r="1" fill="#240238" filter="url(#f6)" opacity="0.9"/><circle cx="363.4" cy="57.7" r="1" fill="#15011f" filter="url(#f6)" opacity="0.9"/><circle cx="356.4" cy="78.8" r="1.3" fill="#260234" filter="url(#f6)" opacity="0.9"/><circle cx="333.4" cy="111.4" r="0.9" fill="#1e0224" filter="url(#f6)" opacity="0.9"/><circle cx="329.1" cy="123" r="1.3" fill="#840838" filter="url(#f6)" opacity="0.9"/><circle cx="329.1" cy="123" r="0.8" fill="#840838" filter="url(#f1)" opacity="0.9"/><circle cx="342.4" cy="118.5" r="1.2" fill="#220239" filter="url(#f6)" opacity="0.9"/><circle cx="412" cy="107.7" r="1.1" fill="#210234" filter="url(#f6)" opacity="0.9"/><circle cx="411" cy="85.9" r="1.1" fill="#0f0121" filter="url(#f6)" opacity="0.9"/><circle cx="341.6" cy="79.9" r="1.4" fill="#ad0b55" filter="url(#f6)" opacity="0.9"/><circle cx="341.6" cy="79.9" r="0.8" fill="#ad0b55" filter="url(#f1)" opacity="0.9"/><circle cx="390.5" cy="112.6" r="1.2" fill="#a00a54" filter="url(#f6)" opacity="0.9"/><circle cx="390.5" cy="112.6" r="0.7" fill="#a00a54" filter="url(#f1)" opacity="0.9"/><circle cx="385.3" cy="97.8" r="1.4" fill="#1a013a" filter="url(#f6)" opacity="0.9"/><circle cx="331.2" cy="101.2" r="1.2" fill="#1a0137" filter="url(#f6)" opacity="0.9"/><circle cx="400.4" cy="53.7" r="1.3" fill="#15012e" filter="url(#f6)" opacity="0.9"/><circle cx="366" cy="81.1" r="1" fill="#22023c" filter="url(#f6)" opacity="0.9"/><circle cx="357.8" cy="62" r="1.4" fill="#a50b51" filter="url(#f6)" opacity="0.9"/><circle cx="357.8" cy="62" r="0.8" fill="#a50b51" filter="url(#f1)" opacity="0.9"/><circle cx="332.7" cy="62.1" r="1.7" fill="#1f024b" filter="url(#f6)" opacity="0.9"/><circle cx="413.5" cy="91.2" r="1" fill="#1f0234" filter="url(#f6)" opacity="0.9"/><circle cx="390.7" cy="76.8" r="1.4" fill="#a90b41" filter="url(#f6)" opacity="0.9"/><circle cx="390.7" cy="76.8" r="0.8" fill="#a90b41" filter="url(#f1)" opacity="0.9"/><circle cx="362.7" cy="110.9" r="1" fill="#180126" filter="url(#f6)" opacity="0.9"/><circle cx="368.5" cy="94" r="1.4" fill="#7d0843" filter="url(#f6)" opacity="0.9"/><circle cx="368.5" cy="94" r="0.8" fill="#7d0843" filter="url(#f1)" opacity="0.9"/><circle cx="414.4" cy="75.7" r="1.5" fill="#270241" filter="url(#f6)" opacity="0.9"/><circle cx="366.8" cy="43.5" r="1.2" fill="#750736" filter="url(#f6)" opacity="0.9"/><circle cx="366.8" cy="43.5" r="0.7" fill="#750736" filter="url(#f1)" opacity="0.9"/><circle cx="418.8" cy="42.2" r="1.3" fill="#14011f" filter="url(#f6)" opacity="0.9"/><circle cx="345.6" cy="38.7" r="1.2" fill="#0f0135" filter="url(#f6)" opacity="0.9"/><circle cx="394.7" cy="77.1" r="0.9" fill="#0d0037" filter="url(#f6)" opacity="0.9"/><circle cx="389.2" cy="110.4" r="1.5" fill="#af0b61" filter="url(#f6)" opacity="0.9"/><circle cx="389.2" cy="110.4" r="0.9" fill="#af0b61" filter="url(#f1)" opacity="0.9"/><circle cx="362.6" cy="87.8" r="1.2" fill="#170123" filter="url(#f6)" opacity="0.9"/><circle cx="387.2" cy="73.1" r="1" fill="#1c013a" filter="url(#f6)" opacity="0.9"/><circle cx="333.7" cy="125.1" r="1.3" fill="#27022b" filter="url(#f6)" opacity="0.9"/><circle cx="384.5" cy="62.9" r="1.4" fill="#1d012b" filter="url(#f6)" opacity="0.9"/><circle cx="403.9" cy="60.5" r="1.7" fill="#23023a" filter="url(#f6)" opacity="0.9"/><circle cx="332" cy="111.9" r="1.3" fill="#240231" filter="url(#f6)" opacity="0.9"/><circle cx="392.4" cy="119.4" r="1.3" fill="#12012d" filter="url(#f6)" opacity="0.9"/><circle cx="415.6" cy="55.9" r="1.3" fill="#14012b" filter="url(#f6)" opacity="0.9"/><circle cx="402.4" cy="77" r="1.7" fill="#1d0145" filter="url(#f6)" opacity="0.9"/><circle cx="411.2" cy="82.8" r="1.3" fill="#120123" filter="url(#f6)" opacity="0.9"/><circle cx="362.1" cy="86.8" r="1.1" fill="#b80c43" filter="url(#f6)" opacity="0.9"/><circle cx="362.1" cy="86.8" r="0.6" fill="#b80c43" filter="url(#f1)" opacity="0.9"/><circle cx="387.5" cy="107.6" r="1.3" fill="#0e0033" filter="url(#f6)" opacity="0.9"/><circle cx="421.1" cy="115" r="1.4" fill="#190127" filter="url(#f6)" opacity="0.9"/><circle cx="400.1" cy="110.6" r="0.9" fill="#12011f" filter="url(#f6)" opacity="0.9"/><circle cx="332.8" cy="86.1" r="1.2" fill="#0f0137" filter="url(#f6)" opacity="0.9"/><circle cx="365.4" cy="45.2" r="1.2" fill="#270232" filter="url(#f6)" opacity="0.9"/><circle cx="365" cy="75.9" r="1.4" fill="#0e004a" filter="url(#f6)" opacity="0.9"/><circle cx="361.1" cy="118.4" r="1.2" fill="#200222" filter="url(#f6)" opacity="0.9"/><circle cx="420.6" cy="39.2" r="1.6" fill="#15014a" filter="url(#f6)" opacity="0.9"/><circle cx="399.2" cy="43.9" r="1" fill="#120121" filter="url(#f6)" opacity="0.9"/><circle cx="341.5" cy="97.4" r="1.6" fill="#b30b4e" filter="url(#f6)" opacity="0.9"/><circle cx="341.5" cy="97.4" r="0.9" fill="#b30b4e" filter="url(#f1)" opacity="0.9"/><circle cx="409.5" cy="117.1" r="1.6" fill="#24022e" filter="url(#f6)" opacity="0.9"/><circle cx="370.5" cy="65.8" r="1.5" fill="#830846" filter="url(#f6)" opacity="0.9"/><circle cx="370.5" cy="65.8" r="0.8" fill="#830846" filter="url(#f1)" opacity="0.9"/><circle cx="380" cy="47.5" r="1.3" fill="#870941" filter="url(#f6)" opacity="0.9"/><circle cx="380" cy="47.5" r="0.8" fill="#870941" filter="url(#f1)" opacity="0.9"/><circle cx="412.9" cy="44.7" r="1.1" fill="#130137" filter="url(#f6)" opacity="0.9"/><circle cx="354.9" cy="58.1" r="0.9" fill="#26023d" filter="url(#f6)" opacity="0.9"/><circle cx="355.2" cy="117.8" r="1.7" fill="#0d0031" filter="url(#f6)" opacity="0.9"/><circle cx="360" cy="47.1" r="1.8" fill="#19013c" filter="url(#f6)" opacity="0.9"/><circle cx="348.5" cy="87.4" r="1.3" fill="#120143" filter="url(#f6)" opacity="0.9"/><circle cx="336.2" cy="90.9" r="1.3" fill="#200227" filter="url(#f6)" opacity="0.9"/><circle cx="382.8" cy="52.9" r="1.7" fill="#0e0035" filter="url(#f6)" opacity="0.9"/><circle cx="359.5" cy="112.7" r="1.4" fill="#1a0120" filter="url(#f6)" opacity="0.9"/><circle cx="353" cy="51.4" r="0.9" fill="#1d0125" filter="url(#f6)" opacity="0.9"/><circle cx="376.9" cy="75.7" r="1" fill="#240235" filter="url(#f6)" opacity="0.9"/><circle cx="394.9" cy="69.7" r="1.1" fill="#1a0137" filter="url(#f6)" opacity="0.9"/><circle cx="377.9" cy="84.2" r="1.4" fill="#10012f" filter="url(#f6)" opacity="0.9"/><circle cx="404.8" cy="36.8" r="1.6" fill="#9d0a4a" filter="url(#f6)" opacity="0.9"/><circle cx="404.8" cy="36.8" r="0.9" fill="#9d0a4a" filter="url(#f1)" opacity="0.9"/><circle cx="394" cy="43.6" r="1.2" fill="#960a3a" filter="url(#f6)" opacity="0.9"/><circle cx="394" cy="43.6" r="0.7" fill="#960a3a" filter="url(#f1)" opacity="0.9"/><circle cx="339.5" cy="71.9" r="1.7" fill="#9b0a62" filter="url(#f6)" opacity="0.9"/><circle cx="339.5" cy="71.9" r="1" fill="#9b0a62" filter="url(#f1)" opacity="0.9"/><circle cx="405.6" cy="121.7" r="1.4" fill="#180136" filter="url(#f6)" opacity="0.9"/><circle cx="401" cy="65.7" r="1.4" fill="#23022d" filter="url(#f6)" opacity="0.9"/><circle cx="404.6" cy="113.3" r="1.5" fill="#14014a" filter="url(#f6)" opacity="0.9"/><circle cx="387.5" cy="68.1" r="0.9" fill="#0e0029" filter="url(#f6)" opacity="0.9"/><circle cx="419.2" cy="106.6" r="0.9" fill="#250238" filter="url(#f6)" opacity="0.9"/><circle cx="388.3" cy="58.8" r="1" fill="#1e022f" filter="url(#f6)" opacity="0.9"/><circle cx="376.9" cy="74.6" r="1.2" fill="#100126" filter="url(#f6)" opacity="0.9"/><circle cx="417.9" cy="82" r="1.2" fill="#7d0842" filter="url(#f6)" opacity="0.9"/><circle cx="417.9" cy="82" r="0.7" fill="#7d0842" filter="url(#f1)" opacity="0.9"/><circle cx="366.2" cy="61" r="1.2" fill="#1d012f" filter="url(#f6)" opacity="0.9"/><circle cx="389.1" cy="52.8" r="1" fill="#1a012f" filter="url(#f6)" opacity="0.9"/><circle cx="364" cy="88.8" r="1.5" fill="#1c0148" filter="url(#f6)" opacity="0.9"/><circle cx="354.8" cy="126.3" r="1.1" fill="#af0b42" filter="url(#f6)" opacity="0.9"/><circle cx="354.8" cy="126.3" r="0.6" fill="#af0b42" filter="url(#f1)" opacity="0.9"/><circle cx="364.5" cy="75.1" r="0.9" fill="#210227" filter="url(#f6)" opacity="0.9"/><circle cx="359.7" cy="67" r="1.3" fill="#1b0137" filter="url(#f6)" opacity="0.9"/><circle cx="397.9" cy="105" r="1.4" fill="#100131" filter="url(#f6)" opacity="0.9"/><circle cx="328.4" cy="105.6" r="1.3" fill="#180139" filter="url(#f6)" opacity="0.9"/><circle cx="410" cy="90.8" r="1.1" fill="#15012b" filter="url(#f6)" opacity="0.9"/><circle cx="380.2" cy="70" r="1" fill="#190137" filter="url(#f6)" opacity="0.9"/><circle cx="356.6" cy="47.6" r="1.3" fill="#160121" filter="url(#f6)" opacity="0.9"/><circle cx="406.8" cy="123.6" r="1.3" fill="#78084b" filter="url(#f6)" opacity="0.9"/><circle cx="406.8" cy="123.6" r="0.8" fill="#78084b" filter="url(#f1)" opacity="0.9"/><circle cx="414.5" cy="106.3" r="1.1" fill="#20022f" filter="url(#f6)" opacity="0.9"/><circle cx="361.6" cy="89.6" r="1.1" fill="#100130" filter="url(#f6)" opacity="0.9"/><circle cx="365.7" cy="86.5" r="1.2" fill="#19013a" filter="url(#f6)" opacity="0.9"/><circle cx="421.6" cy="66.1" r="1.3" fill="#270227" filter="url(#f6)" opacity="0.9"/><circle cx="376.2" cy="44.3" r="1.1" fill="#250238" filter="url(#f6)" opacity="0.9"/><circle cx="375.5" cy="51.6" r="1.6" fill="#280241" filter="url(#f6)" opacity="0.9"/><circle cx="332" cy="72.5" r="1.4" fill="#890949" filter="url(#f6)" opacity="0.9"/><circle cx="332" cy="72.5" r="0.8" fill="#890949" filter="url(#f1)" opacity="0.9"/><circle cx="390.8" cy="52.4" r="1.4" fill="#1b0127" filter="url(#f6)" opacity="0.9"/><circle cx="382" cy="72.4" r="1.3" fill="#7b0858" filter="url(#f6)" opacity="0.9"/><circle cx="382" cy="72.4" r="0.8" fill="#7b0858" filter="url(#f1)" opacity="0.9"/><circle cx="405.4" cy="91.3" r="1.3" fill="#16011f" filter="url(#f6)" opacity="0.9"/><circle cx="361.3" cy="49.8" r="1.1" fill="#160137" filter="url(#f6)" opacity="0.9"/><circle cx="364.3" cy="39.1" r="1" fill="#1e023a" filter="url(#f6)" opacity="0.9"/><circle cx="332.1" cy="121" r="1.2" fill="#150137" filter="url(#f6)" opacity="0.9"/><circle cx="418.2" cy="80.3" r="1" fill="#130129" filter="url(#f6)" opacity="0.9"/><circle cx="410.3" cy="79.3" r="1.4" fill="#120123" filter="url(#f6)" opacity="0.9"/><circle cx="355.3" cy="86.5" r="1.3" fill="#0f0134" filter="url(#f6)" opacity="0.9"/><circle cx="405.6" cy="66.8" r="1.2" fill="#0e0025" filter="url(#f6)" opacity="0.9"/><circle cx="360.1" cy="48.6" r="1.1" fill="#100125" filter="url(#f6)" opacity="0.9"/><circle cx="406.6" cy="109.3" r="1.4" fill="#270245" filter="url(#f6)" opacity="0.9"/><circle cx="417.4" cy="81.2" r="1.4" fill="#140122" filter="url(#f6)" opacity="0.9"/><circle cx="383.2" cy="68.4" r="1.1" fill="#100124" filter="url(#f6)" opacity="0.9"/><circle cx="379" cy="59.3" r="1.1" fill="#150131" filter="url(#f6)" opacity="0.9"/><circle cx="336.1" cy="50.6" r="1.3" fill="#9a0a4b" filter="url(#f6)" opacity="0.9"/><circle cx="336.1" cy="50.6" r="0.8" fill="#9a0a4b" filter="url(#f1)" opacity="0.9"/><circle cx="355.9" cy="40.2" r="1.1" fill="#150122" filter="url(#f6)" opacity="0.9"/><circle cx="413.4" cy="106.5" r="1.2" fill="#0e0021" filter="url(#f6)" opacity="0.9"/><circle cx="390.4" cy="66.9" r="1.1" fill="#240235" filter="url(#f6)" opacity="0.9"/><circle cx="387.1" cy="51" r="1.3" fill="#0e0041" filter="url(#f6)" opacity="0.9"/><circle cx="343.2" cy="52.5" r="1" fill="#1e0222" filter="url(#f6)" opacity="0.9"/><circle cx="406.9" cy="87.3" r="0.9" fill="#16012b" filter="url(#f6)" opacity="0.9"/><circle cx="406.4" cy="106.6" r="1" fill="#0e0035" filter="url(#f6)" opacity="0.9"/><circle cx="338.5" cy="108" r="1.5" fill="#a30a50" filter="url(#f6)" opacity="0.9"/><circle cx="338.5" cy="108" r="0.9" fill="#a30a50" filter="url(#f1)" opacity="0.9"/><circle cx="405.9" cy="60.3" r="1.7" fill="#200239" filter="url(#f6)" opacity="0.9"/><circle cx="406" cy="92.7" r="1.4" fill="#1b0133" filter="url(#f6)" opacity="0.9"/><circle cx="340" cy="105.2" r="1.8" fill="#1c0146" filter="url(#f6)" opacity="0.9"/><circle cx="387.9" cy="84.9" r="1" fill="#120128" filter="url(#f6)" opacity="0.9"/><circle cx="340.8" cy="100.1" r="1.4" fill="#190126" filter="url(#f6)" opacity="0.9"/><circle cx="361" cy="62" r="1.2" fill="#230231" filter="url(#f6)" opacity="0.9"/><circle cx="399.5" cy="49.8" r="0.9" fill="#23022e" filter="url(#f6)" opacity="0.9"/><circle cx="355.2" cy="67.7" r="1.1" fill="#200229" filter="url(#f6)" opacity="0.9"/><circle cx="338.6" cy="64.3" r="1.5" fill="#750737" filter="url(#f6)" opacity="0.9"/><circle cx="338.6" cy="64.3" r="0.9" fill="#750737" filter="url(#f1)" opacity="0.9"/><circle cx="335.9" cy="101.1" r="1" fill="#190122" filter="url(#f6)" opacity="0.9"/><circle cx="379" cy="34.8" r="1" fill="#1f0232" filter="url(#f6)" opacity="0.9"/><circle cx="351.1" cy="47" r="1.6" fill="#120145" filter="url(#f6)" opacity="0.9"/><circle cx="407.5" cy="120.6" r="1.3" fill="#160146" filter="url(#f6)" opacity="0.9"/><circle cx="405.6" cy="63.9" r="0.9" fill="#130128" filter="url(#f6)" opacity="0.9"/><circle cx="381.3" cy="92.7" r="1.1" fill="#1a0138" filter="url(#f6)" opacity="0.9"/><circle cx="335.5" cy="98.3" r="1.5" fill="#77075e" filter="url(#f6)" opacity="0.9"/><circle cx="335.5" cy="98.3" r="0.9" fill="#77075e" filter="url(#f1)" opacity="0.9"/><circle cx="396" cy="34.3" r="1.2" fill="#150134" filter="url(#f6)" opacity="0.9"/><circle cx="376.4" cy="73.4" r="0.9" fill="#250234" filter="url(#f6)" opacity="0.9"/><circle cx="355.8" cy="75.4" r="1.6" fill="#8a093c" filter="url(#f6)" opacity="0.9"/><circle cx="355.8" cy="75.4" r="0.9" fill="#8a093c" filter="url(#f1)" opacity="0.9"/><circle cx="413.4" cy="114.9" r="1.2" fill="#0f012e" filter="url(#f6)" opacity="0.9"/><circle cx="385.3" cy="61.8" r="1.1" fill="#15012c" filter="url(#f6)" opacity="0.9"/><circle cx="411.2" cy="36.6" r="1.4" fill="#a10a54" filter="url(#f6)" opacity="0.9"/><circle cx="411.2" cy="36.6" r="0.8" fill="#a10a54" filter="url(#f1)" opacity="0.9"/><circle cx="367.1" cy="83.6" r="1.2" fill="#250225" filter="url(#f6)" opacity="0.9"/><circle cx="338.6" cy="114.6" r="1.2" fill="#1a012e" filter="url(#f6)" opacity="0.9"/><circle cx="349.3" cy="87.5" r="1.3" fill="#900956" filter="url(#f6)" opacity="0.9"/><circle cx="349.3" cy="87.5" r="0.8" fill="#900956" filter="url(#f1)" opacity="0.9"/><circle cx="409.2" cy="85.5" r="0.9" fill="#200224" filter="url(#f6)" opacity="0.9"/><circle cx="406" cy="70.6" r="1.7" fill="#11013b" filter="url(#f6)" opacity="0.9"/><circle cx="333.4" cy="56.2" r="1.3" fill="#15012f" filter="url(#f6)" opacity="0.9"/><circle cx="368" cy="117.1" r="1" fill="#250231" filter="url(#f6)" opacity="0.9"/><circle cx="398.1" cy="65.9" r="1.6" fill="#8e094d" filter="url(#f6)" opacity="0.9"/><circle cx="398.1" cy="65.9" r="0.9" fill="#8e094d" filter="url(#f1)" opacity="0.9"/><circle cx="395.8" cy="38.1" r="1.4" fill="#10012d" filter="url(#f6)" opacity="0.9"/><circle cx="391.5" cy="57.8" r="1.2" fill="#100145" filter="url(#f6)" opacity="0.9"/><circle cx="338.4" cy="108.9" r="1.3" fill="#170133" filter="url(#f6)" opacity="0.9"/><circle cx="410.3" cy="84.3" r="1.3" fill="#8c0950" filter="url(#f6)" opacity="0.9"/><circle cx="410.3" cy="84.3" r="0.8" fill="#8c0950" filter="url(#f1)" opacity="0.9"/><circle cx="410.1" cy="108.8" r="1.5" fill="#180146" filter="url(#f6)" opacity="0.9"/><circle cx="342.9" cy="113" r="1.6" fill="#8b0947" filter="url(#f6)" opacity="0.9"/><circle cx="342.9" cy="113" r="0.9" fill="#8b0947" filter="url(#f1)" opacity="0.9"/><circle cx="383.4" cy="38.1" r="1.4" fill="#170139" filter="url(#f6)" opacity="0.9"/><circle cx="328.6" cy="88.2" r="0.9" fill="#0e002a" filter="url(#f6)" opacity="0.9"/><circle cx="391.1" cy="59.5" r="1.4" fill="#1b0127" filter="url(#f6)" opacity="0.9"/><circle cx="421.3" cy="37.2" r="1.2" fill="#1e0238" filter="url(#f6)" opacity="0.9"/><circle cx="362.1" cy="60.3" r="1.3" fill="#150138" filter="url(#f6)" opacity="0.9"/><circle cx="397.5" cy="81.6" r="1" fill="#0f012c" filter="url(#f6)" opacity="0.9"/><circle cx="358.4" cy="126.4" r="0.9" fill="#160126" filter="url(#f6)" opacity="0.9"/><circle cx="328.7" cy="115.4" r="0.9" fill="#12012d" filter="url(#f6)" opacity="0.9"/><circle cx="356.3" cy="62.8" r="1.2" fill="#26023b" filter="url(#f6)" opacity="0.9"/><circle cx="335.5" cy="50.7" r="1.3" fill="#190129" filter="url(#f6)" opacity="0.9"/><circle cx="334.4" cy="79.3" r="1.4" fill="#80083b" filter="url(#f6)" opacity="0.9"/><circle cx="334.4" cy="79.3" r="0.8" fill="#80083b" filter="url(#f1)" opacity="0.9"/><circle cx="384.7" cy="114.8" r="0.9" fill="#1d0134" filter="url(#f6)" opacity="0.9"/><circle cx="404.1" cy="115.9" r="1.2" fill="#250227" filter="url(#f6)" opacity="0.9"/><circle cx="414.8" cy="53.8" r="1" fill="#1f0232" filter="url(#f6)" opacity="0.9"/><circle cx="333.4" cy="72.7" r="1.4" fill="#1d0135" filter="url(#f6)" opacity="0.9"/><circle cx="371.6" cy="35.3" r="1.3" fill="#9e0a55" filter="url(#f6)" opacity="0.9"/><circle cx="371.6" cy="35.3" r="0.7" fill="#9e0a55" filter="url(#f1)" opacity="0.9"/><circle cx="336.8" cy="48.6" r="1.5" fill="#18012c" filter="url(#f6)" opacity="0.9"/><circle cx="383.3" cy="85.9" r="1.3" fill="#140128" filter="url(#f6)" opacity="0.9"/><circle cx="399.8" cy="106.6" r="1.2" fill="#150139" filter="url(#f6)" opacity="0.9"/><circle cx="416.4" cy="46.3" r="1.8" fill="#170140" filter="url(#f6)" opacity="0.9"/><circle cx="349.4" cy="104.7" r="1.6" fill="#960a47" filter="url(#f6)" opacity="0.9"/><circle cx="349.4" cy="104.7" r="0.9" fill="#960a47" filter="url(#f1)" opacity="0.9"/><circle cx="416.3" cy="68.2" r="1.3" fill="#110142" filter="url(#f6)" opacity="0.9"/><circle cx="401.1" cy="56.7" r="1.1" fill="#230233" filter="url(#f6)" opacity="0.9"/><circle cx="358.4" cy="118.5" r="1.7" fill="#18012b" filter="url(#f6)" opacity="0.9"/><circle cx="333.6" cy="86.8" r="1" fill="#130138" filter="url(#f6)" opacity="0.9"/><circle cx="347.1" cy="105" r="0.9" fill="#1c013b" filter="url(#f6)" opacity="0.9"/><circle cx="409.1" cy="115.3" r="1.1" fill="#160135" filter="url(#f6)" opacity="0.9"/><circle cx="411.8" cy="49.1" r="1" fill="#25022e" filter="url(#f6)" opacity="0.9"/><circle cx="411.1" cy="67.7" r="1" fill="#280227" filter="url(#f6)" opacity="0.9"/><circle cx="330.3" cy="44.4" r="1.1" fill="#a60b54" filter="url(#f6)" opacity="0.9"/><circle cx="330.3" cy="44.4" r="0.7" fill="#a60b54" filter="url(#f1)" opacity="0.9"/><circle cx="392.2" cy="42.4" r="0.9" fill="#270236" filter="url(#f6)" opacity="0.9"/><circle cx="350.1" cy="108.1" r="0.9" fill="#19012d" filter="url(#f6)" opacity="0.9"/><circle cx="329.9" cy="126.6" r="1.1" fill="#110121" filter="url(#f6)" opacity="0.9"/><circle cx="344.8" cy="98.1" r="1.6" fill="#8c0952" filter="url(#f6)" opacity="0.9"/><circle cx="344.8" cy="98.1" r="0.9" fill="#8c0952" filter="url(#f1)" opacity="0.9"/><circle cx="360.8" cy="54.1" r="1" fill="#120132" filter="url(#f6)" opacity="0.9"/><circle cx="334.5" cy="38" r="1.2" fill="#0d002c" filter="url(#f6)" opacity="0.9"/><circle cx="389.4" cy="84.9" r="1.1" fill="#20023c" filter="url(#f6)" opacity="0.9"/><circle cx="357.9" cy="73.2" r="1.4" fill="#110128" filter="url(#f6)" opacity="0.9"/><circle cx="328.5" cy="90.8" r="1" fill="#14012f" filter="url(#f6)" opacity="0.9"/><circle cx="338.9" cy="112.8" r="1.2" fill="#160120" filter="url(#f6)" opacity="0.9"/><circle cx="379.6" cy="63.5" r="1.2" fill="#1b0134" filter="url(#f6)" opacity="0.9"/><circle cx="421.5" cy="55.9" r="1.2" fill="#18012a" filter="url(#f6)" opacity="0.9"/><circle cx="385.6" cy="97.3" r="1" fill="#1e022f" filter="url(#f6)" opacity="0.9"/><circle cx="413.4" cy="78.3" r="1.4" fill="#11012b" filter="url(#f6)" opacity="0.9"/><circle cx="377.7" cy="83" r="1.4" fill="#ac0b43" filter="url(#f6)" opacity="0.9"/><circle cx="377.7" cy="83" r="0.8" fill="#ac0b43" filter="url(#f1)" opacity="0.9"/><circle cx="405.8" cy="117.6" r="0.9" fill="#23022c" filter="url(#f6)" opacity="0.9"/><circle cx="361.5" cy="109.1" r="1.3" fill="#280225" filter="url(#f6)" opacity="0.9"/><circle cx="370.2" cy="78.7" r="1.2" fill="#170123" filter="url(#f6)" opacity="0.9"/><circle cx="363.8" cy="35.7" r="1.2" fill="#a50b3d" filter="url(#f6)" opacity="0.9"/><circle cx="363.8" cy="35.7" r="0.7" fill="#a50b3d" filter="url(#f1)" opacity="0.9"/><circle cx="350.7" cy="112" r="1.7" fill="#180147" filter="url(#f6)" opacity="0.9"/><circle cx="386.1" cy="68.7" r="1.5" fill="#150135" filter="url(#f6)" opacity="0.9"/><circle cx="388.9" cy="109.8" r="1.4" fill="#12012e" filter="url(#f6)" opacity="0.9"/><circle cx="394.9" cy="68.8" r="1.2" fill="#170121" filter="url(#f6)" opacity="0.9"/><circle cx="374.7" cy="118.3" r="1.3" fill="#190130" filter="url(#f6)" opacity="0.9"/><circle cx="367" cy="78.3" r="1.2" fill="#23022f" filter="url(#f6)" opacity="0.9"/><circle cx="397.6" cy="71.6" r="1.3" fill="#22023e" filter="url(#f6)" opacity="0.9"/><circle cx="348.7" cy="41.2" r="0.9" fill="#1c0123" filter="url(#f6)" opacity="0.9"/><circle cx="392" cy="100.5" r="1.4" fill="#1d0133" filter="url(#f6)" opacity="0.9"/><circle cx="404.8" cy="115.5" r="1.4" fill="#b70c5b" filter="url(#f6)" opacity="0.9"/><circle cx="404.8" cy="115.5" r="0.8" fill="#b70c5b" filter="url(#f1)" opacity="0.9"/><circle cx="357.4" cy="57.8" r="1" fill="#0e002b" filter="url(#f6)" opacity="0.9"/><circle cx="409.5" cy="109" r="1.3" fill="#990a3f" filter="url(#f6)" opacity="0.9"/><circle cx="409.5" cy="109" r="0.8" fill="#990a3f" filter="url(#f1)" opacity="0.9"/><circle cx="374" cy="88.6" r="0.9" fill="#1c0126" filter="url(#f6)" opacity="0.9"/><circle cx="357.5" cy="83.8" r="1" fill="#22022a" filter="url(#f6)" opacity="0.9"/><circle cx="394.8" cy="109" r="0.9" fill="#25023b" filter="url(#f6)" opacity="0.9"/><circle cx="368.8" cy="93.8" r="1.8" fill="#12012a" filter="url(#f6)" opacity="0.9"/><circle cx="380.7" cy="108.9" r="1.3" fill="#130131" filter="url(#f6)" opacity="0.9"/><circle cx="341.7" cy="119.8" r="1.1" fill="#270225" filter="url(#f6)" opacity="0.9"/><circle cx="389.9" cy="58.1" r="1.5" fill="#a30a3f" filter="url(#f6)" opacity="0.9"/><circle cx="389.9" cy="58.1" r="0.9" fill="#a30a3f" filter="url(#f1)" opacity="0.9"/><circle cx="355.6" cy="55.8" r="1.5" fill="#b20b4d" filter="url(#f6)" opacity="0.9"/><circle cx="355.6" cy="55.8" r="0.9" fill="#b20b4d" filter="url(#f1)" opacity="0.9"/><circle cx="342.3" cy="108.7" r="1" fill="#1e0222" filter="url(#f6)" opacity="0.9"/><circle cx="379.3" cy="42.8" r="1.3" fill="#100129" filter="url(#f6)" opacity="0.9"/><circle cx="339.5" cy="120.3" r="1.3" fill="#16012d" filter="url(#f6)" opacity="0.9"/><circle cx="374.7" cy="120.9" r="1.3" fill="#1c0148" filter="url(#f6)" opacity="0.9"/><circle cx="341.1" cy="59.4" r="1.4" fill="#9d0a53" filter="url(#f6)" opacity="0.9"/><circle cx="341.1" cy="59.4" r="0.8" fill="#9d0a53" filter="url(#f1)" opacity="0.9"/><circle cx="416.8" cy="95.4" r="1.3" fill="#21023a" filter="url(#f6)" opacity="0.9"/><circle cx="402" cy="61.9" r="1.6" fill="#22022e" filter="url(#f6)" opacity="0.9"/><circle cx="371.4" cy="37.2" r="1.3" fill="#9c0a4b" filter="url(#f6)" opacity="0.9"/><circle cx="371.4" cy="37.2" r="0.7" fill="#9c0a4b" filter="url(#f1)" opacity="0.9"/></g><g clip-path="url(#c3)"><rect x="427" y="35" width="92" height="91.5" fill="#000"/><circle cx="456.4" cy="48.1" r="1.1" fill="#0e2f3a" filter="url(#f6)" opacity="0.9"/><circle cx="429.5" cy="74.5" r="1.4" fill="#41af48" filter="url(#f6)" opacity="0.5"/><circle cx="429.5" cy="74.5" r="1.1" fill="none" stroke="#41af48" stroke-width="0.9" filter="url(#f1)" opacity="0.9"/><circle cx="485" cy="122.6" r="1.1" fill="#a53d4b" filter="url(#f6)" opacity="0.9"/><circle cx="437.1" cy="62.8" r="1.2" fill="#16343c" filter="url(#f6)" opacity="0.9"/><circle cx="431.9" cy="39.6" r="1.1" fill="#1b4836" filter="url(#f6)" opacity="0.9"/><circle cx="454.2" cy="108.3" r="1.3" fill="#23363c" filter="url(#f6)" opacity="0.9"/><circle cx="453.1" cy="125.6" r="1.5" fill="#bfbf59" filter="url(#f6)" opacity="0.5"/><circle cx="453.1" cy="125.6" r="1.2" fill="none" stroke="#bfbf59" stroke-width="0.9" filter="url(#f1)" opacity="0.9"/><circle cx="497.9" cy="87.6" r="1.1" fill="#1b3940" filter="url(#f6)" opacity="0.9"/><circle cx="505" cy="122.3" r="1.4" fill="#1d4728" filter="url(#f6)" opacity="0.9"/><circle cx="503.3" cy="60.6" r="0.9" fill="#114827" filter="url(#f6)" opacity="0.9"/><circle cx="431.5" cy="105.8" r="1.6" fill="#40b746" filter="url(#f6)" opacity="0.5"/><circle cx="431.5" cy="105.8" r="1.3" fill="none" stroke="#40b746" stroke-width="0.9" filter="url(#f1)" opacity="0.9"/><circle cx="477.6" cy="116.6" r="1.4" fill="#154f30" filter="url(#f6)" opacity="0.9"/><circle cx="516" cy="48.1" r="1.5" fill="#4db63e" filter="url(#f6)" opacity="0.5"/><circle cx="516" cy="48.1" r="1.2" fill="none" stroke="#4db63e" stroke-width="0.9" filter="url(#f1)" opacity="0.9"/><circle cx="426.4" cy="73.2" r="1.2" fill="#19434a" filter="url(#f6)" opacity="0.9"/><circle cx="489.6" cy="39" r="1.1" fill="#164c47" filter="url(#f6)" opacity="0.9"/><circle cx="435.7" cy="93.3" r="1.3" fill="#b6ae3d" filter="url(#f6)" opacity="0.5"/><circle cx="435.7" cy="93.3" r="1.1" fill="none" stroke="#b6ae3d" stroke-width="0.9" filter="url(#f1)" opacity="0.9"/><circle cx="440.2" cy="43.5" r="1" fill="#102e47" filter="url(#f6)" opacity="0.9"/><circle cx="458.7" cy="68" r="1.4" fill="#4bd565" filter="url(#f6)" opacity="0.5"/><circle cx="458.7" cy="68" r="1.1" fill="none" stroke="#4bd565" stroke-width="0.9" filter="url(#f1)" opacity="0.9"/><circle cx="435.6" cy="66" r="1.2" fill="#ab4e2c" filter="url(#f6)" opacity="0.9"/><circle cx="477.1" cy="36.5" r="1.1" fill="#135447" filter="url(#f6)" opacity="0.9"/><circle cx="441.7" cy="106.2" r="1.4" fill="#214c32" filter="url(#f6)" opacity="0.9"/><circle cx="506.1" cy="109.4" r="0.9" fill="#154a2e" filter="url(#f6)" opacity="0.9"/><circle cx="428.6" cy="60.1" r="1.4" fill="#24494a" filter="url(#f6)" opacity="0.9"/><circle cx="515.8" cy="68.1" r="1.4" fill="#1c362d" filter="url(#f6)" opacity="0.9"/><circle cx="505" cy="78.8" r="1.3" fill="#234d29" filter="url(#f6)" opacity="0.9"/><circle cx="496.5" cy="78.7" r="1.5" fill="#57d243" filter="url(#f6)" opacity="0.5"/><circle cx="496.5" cy="78.7" r="1.2" fill="none" stroke="#57d243" stroke-width="0.9" filter="url(#f1)" opacity="0.9"/><circle cx="463.7" cy="122.5" r="1.3" fill="#a8332b" filter="url(#f6)" opacity="0.9"/><circle cx="503.7" cy="125.7" r="1.4" fill="#6f3b3b" filter="url(#f6)" opacity="0.9"/><circle cx="475.5" cy="121.3" r="1" fill="#135045" filter="url(#f6)" opacity="0.9"/><circle cx="448.6" cy="88.8" r="1.1" fill="#153d2b" filter="url(#f6)" opacity="0.9"/><circle cx="480.8" cy="118.6" r="0.9" fill="#1a5239" filter="url(#f6)" opacity="0.9"/><circle cx="467.4" cy="51.1" r="1.6" fill="#51d23b" filter="url(#f6)" opacity="0.5"/><circle cx="467.4" cy="51.1" r="1.3" fill="none" stroke="#51d23b" stroke-width="0.9" filter="url(#f1)" opacity="0.9"/><circle cx="456.6" cy="82.5" r="1" fill="#134c2a" filter="url(#f6)" opacity="0.9"/><circle cx="498.6" cy="81.5" r="1.1" fill="#1c4b49" filter="url(#f6)" opacity="0.9"/><circle cx="474.1" cy="98.8" r="1.4" fill="#1e4238" filter="url(#f6)" opacity="0.9"/><circle cx="514.6" cy="58.3" r="1.1" fill="#765346" filter="url(#f6)" opacity="0.9"/><circle cx="448.6" cy="40.8" r="1.2" fill="#9c4c48" filter="url(#f6)" opacity="0.9"/><circle cx="509" cy="124.5" r="1.3" fill="#255335" filter="url(#f6)" opacity="0.9"/><circle cx="457.9" cy="52.3" r="0.9" fill="#174a26" filter="url(#f6)" opacity="0.9"/><circle cx="457.2" cy="92.3" r="0.9" fill="#252f4b" filter="url(#f6)" opacity="0.9"/><circle cx="451" cy="37.7" r="1.3" fill="#23372b" filter="url(#f6)" opacity="0.9"/><circle cx="450.3" cy="48" r="1.3" fill="#724441" filter="url(#f6)" opacity="0.9"/><circle cx="432.8" cy="121.7" r="1.3" fill="#0e4d29" filter="url(#f6)" opacity="0.9"/><circle cx="468.7" cy="65.7" r="1.1" fill="#905230" filter="url(#f6)" opacity="0.9"/><circle cx="441.2" cy="38.7" r="1.1" fill="#143931" filter="url(#f6)" opacity="0.9"/><circle cx="449.5" cy="35.4" r="0.9" fill="#24432d" filter="url(#f6)" opacity="0.9"/><circle cx="503" cy="74.4" r="1.4" fill="#1e4e35" filter="url(#f6)" opacity="0.9"/><circle cx="458.2" cy="111.8" r="0.9" fill="#0e4635" filter="url(#f6)" opacity="0.9"/><circle cx="432.6" cy="103.3" r="1.2" fill="#223329" filter="url(#f6)" opacity="0.9"/><circle cx="452.5" cy="56.6" r="1.4" fill="#133f2c" filter="url(#f6)" opacity="0.9"/><circle cx="517.4" cy="85.2" r="1.1" fill="#0c5432" filter="url(#f6)" opacity="0.9"/><circle cx="470.6" cy="81" r="1.1" fill="#0f4126" filter="url(#f6)" opacity="0.9"/><circle cx="429.9" cy="36.1" r="1.2" fill="#1f363c" filter="url(#f6)" opacity="0.9"/><circle cx="493.3" cy="116.2" r="1.2" fill="#9c3a4b" filter="url(#f6)" opacity="0.9"/><circle cx="504.5" cy="117.4" r="1.5" fill="#8f4a45" filter="url(#f6)" opacity="0.9"/><circle cx="501.6" cy="111.3" r="0.9" fill="#125140" filter="url(#f6)" opacity="0.9"/><circle cx="504.6" cy="86.2" r="1.3" fill="#0c4640" filter="url(#f6)" opacity="0.9"/><circle cx="496.3" cy="81" r="0.9" fill="#134728" filter="url(#f6)" opacity="0.9"/><circle cx="451" cy="102.2" r="1.1" fill="#164a4b" filter="url(#f6)" opacity="0.9"/><circle cx="490.3" cy="105.7" r="1.3" fill="#7e4729" filter="url(#f6)" opacity="0.9"/><circle cx="479.4" cy="35.2" r="1.5" fill="#4fb855" filter="url(#f6)" opacity="0.5"/><circle cx="479.4" cy="35.2" r="1.2" fill="none" stroke="#4fb855" stroke-width="0.9" filter="url(#f1)" opacity="0.9"/><circle cx="474.6" cy="77.4" r="1.4" fill="#253148" filter="url(#f6)" opacity="0.9"/><circle cx="427.6" cy="76.9" r="1.4" fill="#125437" filter="url(#f6)" opacity="0.9"/><circle cx="445.8" cy="88.4" r="1.6" fill="#d4c463" filter="url(#f6)" opacity="0.5"/><circle cx="445.8" cy="88.4" r="1.3" fill="none" stroke="#d4c463" stroke-width="0.9" filter="url(#f1)" opacity="0.9"/><circle cx="492.1" cy="55.6" r="1.2" fill="#8d4027" filter="url(#f6)" opacity="0.9"/><circle cx="505" cy="34.2" r="1.4" fill="#1e4e2a" filter="url(#f6)" opacity="0.9"/><circle cx="453.2" cy="68.8" r="1" fill="#17553c" filter="url(#f6)" opacity="0.9"/><circle cx="430.5" cy="43.5" r="1.1" fill="#13384a" filter="url(#f6)" opacity="0.9"/><circle cx="443.8" cy="68.9" r="1.2" fill="#244d3e" filter="url(#f6)" opacity="0.9"/><circle cx="493.6" cy="38.6" r="0.9" fill="#143f43" filter="url(#f6)" opacity="0.9"/><circle cx="513.1" cy="45.9" r="1" fill="#253a31" filter="url(#f6)" opacity="0.9"/><circle cx="487.7" cy="62.1" r="1.4" fill="#7b3c2c" filter="url(#f6)" opacity="0.9"/><circle cx="446.7" cy="118.7" r="1" fill="#0f3f2b" filter="url(#f6)" opacity="0.9"/><circle cx="434.6" cy="56.4" r="1.1" fill="#174448" filter="url(#f6)" opacity="0.9"/><circle cx="475.3" cy="69.2" r="1.1" fill="#0f2f30" filter="url(#f6)" opacity="0.9"/><circle cx="485.2" cy="114.7" r="1.4" fill="#18372f" filter="url(#f6)" opacity="0.9"/><circle cx="505.8" cy="115.6" r="1.7" fill="#4aac57" filter="url(#f6)" opacity="0.5"/><circle cx="505.8" cy="115.6" r="1.3" fill="none" stroke="#4aac57" stroke-width="0.9" filter="url(#f1)" opacity="0.9"/><circle cx="426" cy="70.6" r="0.9" fill="#134e46" filter="url(#f6)" opacity="0.9"/><circle cx="440.5" cy="82.8" r="1.1" fill="#205341" filter="url(#f6)" opacity="0.9"/><circle cx="477.8" cy="37.7" r="0.9" fill="#143649" filter="url(#f6)" opacity="0.9"/><circle cx="449.7" cy="93.5" r="1.1" fill="#1b3128" filter="url(#f6)" opacity="0.9"/><circle cx="447" cy="90.2" r="1.8" fill="#4fb94a" filter="url(#f6)" opacity="0.5"/><circle cx="447" cy="90.2" r="1.5" fill="none" stroke="#4fb94a" stroke-width="0.9" filter="url(#f1)" opacity="0.9"/><circle cx="470.7" cy="56" r="1.1" fill="#0d5341" filter="url(#f6)" opacity="0.9"/><circle cx="489.4" cy="73.3" r="1" fill="#0d4849" filter="url(#f6)" opacity="0.9"/><circle cx="465.5" cy="97.8" r="1.9" fill="#43d258" filter="url(#f6)" opacity="0.5"/><circle cx="465.5" cy="97.8" r="1.5" fill="none" stroke="#43d258" stroke-width="0.9" filter="url(#f1)" opacity="0.9"/><circle cx="455.3" cy="110.7" r="1.1" fill="#253543" filter="url(#f6)" opacity="0.9"/><circle cx="488.5" cy="122.7" r="1.3" fill="#42be3d" filter="url(#f6)" opacity="0.5"/><circle cx="488.5" cy="122.7" r="1.1" fill="none" stroke="#42be3d" stroke-width="0.9" filter="url(#f1)" opacity="0.9"/><circle cx="431.7" cy="70.8" r="1" fill="#245042" filter="url(#f6)" opacity="0.9"/><circle cx="443.4" cy="121.5" r="1" fill="#162e3f" filter="url(#f6)" opacity="0.9"/><circle cx="441.9" cy="34.3" r="1.2" fill="#ab3b4a" filter="url(#f6)" opacity="0.9"/><circle cx="503.2" cy="110.9" r="1" fill="#242e38" filter="url(#f6)" opacity="0.9"/><circle cx="460.2" cy="117.9" r="1.3" fill="#3fbf5c" filter="url(#f6)" opacity="0.5"/><circle cx="460.2" cy="117.9" r="1.1" fill="none" stroke="#3fbf5c" stroke-width="0.9" filter="url(#f1)" opacity="0.9"/><circle cx="431.9" cy="120" r="1.4" fill="#134b48" filter="url(#f6)" opacity="0.9"/><circle cx="484" cy="58.5" r="1.4" fill="#9e3930" filter="url(#f6)" opacity="0.9"/><circle cx="514.7" cy="36.3" r="1" fill="#16404a" filter="url(#f6)" opacity="0.9"/><circle cx="466.4" cy="80.1" r="1.3" fill="#213444" filter="url(#f6)" opacity="0.9"/><circle cx="483.1" cy="64.6" r="1.3" fill="#7b3b44" filter="url(#f6)" opacity="0.9"/><circle cx="432.1" cy="37.2" r="1" fill="#253a4b" filter="url(#f6)" opacity="0.9"/><circle cx="433.9" cy="43" r="1.2" fill="#174937" filter="url(#f6)" opacity="0.9"/><circle cx="489.4" cy="103.9" r="1.2" fill="#14472a" filter="url(#f6)" opacity="0.9"/><circle cx="461.1" cy="103" r="1.6" fill="#d8b73f" filter="url(#f6)" opacity="0.5"/><circle cx="461.1" cy="103" r="1.3" fill="none" stroke="#d8b73f" stroke-width="0.9" filter="url(#f1)" opacity="0.9"/><circle cx="463.2" cy="126.8" r="0.9" fill="#263645" filter="url(#f6)" opacity="0.9"/><circle cx="470.6" cy="110.6" r="1" fill="#0f5227" filter="url(#f6)" opacity="0.9"/><circle cx="517.5" cy="88.5" r="1.3" fill="#133c47" filter="url(#f6)" opacity="0.9"/><circle cx="514.9" cy="43.9" r="1" fill="#10462e" filter="url(#f6)" opacity="0.9"/><circle cx="450" cy="90" r="1" fill="#1e3526" filter="url(#f6)" opacity="0.9"/><circle cx="455.3" cy="53" r="1.4" fill="#874328" filter="url(#f6)" opacity="0.9"/><circle cx="434.6" cy="49.3" r="1" fill="#253d31" filter="url(#f6)" opacity="0.9"/><circle cx="479.3" cy="67.4" r="1.3" fill="#11504c" filter="url(#f6)" opacity="0.9"/><circle cx="445.1" cy="34.5" r="1.1" fill="#233e45" filter="url(#f6)" opacity="0.9"/><circle cx="441.3" cy="35.4" r="1.3" fill="#964649" filter="url(#f6)" opacity="0.9"/><circle cx="513" cy="44.2" r="1.4" fill="#0f4d4b" filter="url(#f6)" opacity="0.9"/><circle cx="517.7" cy="79.1" r="1.8" fill="#4ed846" filter="url(#f6)" opacity="0.5"/><circle cx="517.7" cy="79.1" r="1.4" fill="none" stroke="#4ed846" stroke-width="0.9" filter="url(#f1)" opacity="0.9"/><circle cx="441.1" cy="107.5" r="1" fill="#113d46" filter="url(#f6)" opacity="0.9"/><circle cx="463.6" cy="82.4" r="0.9" fill="#23312f" filter="url(#f6)" opacity="0.9"/><circle cx="478.9" cy="104.8" r="1.7" fill="#4cd439" filter="url(#f6)" opacity="0.5"/><circle cx="478.9" cy="104.8" r="1.3" fill="none" stroke="#4cd439" stroke-width="0.9" filter="url(#f1)" opacity="0.9"/><circle cx="454.8" cy="73.3" r="0.9" fill="#173e3f" filter="url(#f6)" opacity="0.9"/><circle cx="484.2" cy="79.8" r="1.1" fill="#114b44" filter="url(#f6)" opacity="0.9"/><circle cx="436.1" cy="46" r="1.2" fill="#0d3037" filter="url(#f6)" opacity="0.9"/><circle cx="433.7" cy="102.6" r="1.4" fill="#164128" filter="url(#f6)" opacity="0.9"/><circle cx="438.8" cy="114.1" r="1.1" fill="#254a45" filter="url(#f6)" opacity="0.9"/><circle cx="515.9" cy="119.6" r="1.8" fill="#b6d262" filter="url(#f6)" opacity="0.5"/><circle cx="515.9" cy="119.6" r="1.4" fill="none" stroke="#b6d262" stroke-width="0.9" filter="url(#f1)" opacity="0.9"/><circle cx="510.3" cy="59.7" r="1" fill="#123239" filter="url(#f6)" opacity="0.9"/><circle cx="473.6" cy="63.8" r="1.8" fill="#50b43b" filter="url(#f6)" opacity="0.5"/><circle cx="473.6" cy="63.8" r="1.5" fill="none" stroke="#50b43b" stroke-width="0.9" filter="url(#f1)" opacity="0.9"/><circle cx="441.9" cy="107.4" r="1.6" fill="#55c553" filter="url(#f6)" opacity="0.5"/><circle cx="441.9" cy="107.4" r="1.3" fill="none" stroke="#55c553" stroke-width="0.9" filter="url(#f1)" opacity="0.9"/><circle cx="480.5" cy="116.5" r="1.5" fill="#53dc53" filter="url(#f6)" opacity="0.5"/><circle cx="480.5" cy="116.5" r="1.2" fill="none" stroke="#53dc53" stroke-width="0.9" filter="url(#f1)" opacity="0.9"/><circle cx="519.1" cy="88" r="1.5" fill="#9d4b37" filter="url(#f6)" opacity="0.9"/><circle cx="449.8" cy="93.8" r="0.9" fill="#0c443f" filter="url(#f6)" opacity="0.9"/><circle cx="440" cy="91.6" r="1.2" fill="#7c4148" filter="url(#f6)" opacity="0.9"/><circle cx="426.2" cy="67.2" r="1.4" fill="#4dbc3e" filter="url(#f6)" opacity="0.5"/><circle cx="426.2" cy="67.2" r="1.1" fill="none" stroke="#4dbc3e" stroke-width="0.9" filter="url(#f1)" opacity="0.9"/><circle cx="484.6" cy="78.4" r="1.7" fill="#a6d93f" filter="url(#f6)" opacity="0.5"/><circle cx="484.6" cy="78.4" r="1.3" fill="none" stroke="#a6d93f" stroke-width="0.9" filter="url(#f1)" opacity="0.9"/><circle cx="499.5" cy="71.6" r="1.2" fill="#152d3e" filter="url(#f6)" opacity="0.9"/><circle cx="467.7" cy="121.6" r="1.2" fill="#903748" filter="url(#f6)" opacity="0.9"/><circle cx="431.5" cy="106.8" r="1.7" fill="#adc662" filter="url(#f6)" opacity="0.5"/><circle cx="431.5" cy="106.8" r="1.3" fill="none" stroke="#adc662" stroke-width="0.9" filter="url(#f1)" opacity="0.9"/><circle cx="486.3" cy="110.1" r="1.8" fill="#d9ba42" filter="url(#f6)" opacity="0.5"/><circle cx="486.3" cy="110.1" r="1.4" fill="none" stroke="#d9ba42" stroke-width="0.9" filter="url(#f1)" opacity="0.9"/><circle cx="426.6" cy="113" r="0.9" fill="#123f42" filter="url(#f6)" opacity="0.9"/><circle cx="447.8" cy="37.6" r="1" fill="#1e4b40" filter="url(#f6)" opacity="0.9"/><circle cx="478.1" cy="74.8" r="1" fill="#254230" filter="url(#f6)" opacity="0.9"/><circle cx="508.7" cy="35.4" r="1" fill="#1f3642" filter="url(#f6)" opacity="0.9"/><circle cx="508.7" cy="64.7" r="1.4" fill="#1d513e" filter="url(#f6)" opacity="0.9"/><circle cx="470.1" cy="112.5" r="1" fill="#1b4f36" filter="url(#f6)" opacity="0.9"/><circle cx="445.9" cy="92.2" r="1.9" fill="#a7d83a" filter="url(#f6)" opacity="0.5"/><circle cx="445.9" cy="92.2" r="1.5" fill="none" stroke="#a7d83a" stroke-width="0.9" filter="url(#f1)" opacity="0.9"/><circle cx="439.3" cy="36.7" r="1.3" fill="#51cd53" filter="url(#f6)" opacity="0.5"/><circle cx="439.3" cy="36.7" r="1.1" fill="none" stroke="#51cd53" stroke-width="0.9" filter="url(#f1)" opacity="0.9"/><circle cx="481.5" cy="68" r="1.6" fill="#a54e48" filter="url(#f6)" opacity="0.9"/><circle cx="436.1" cy="53.2" r="1.8" fill="#4eac5e" filter="url(#f6)" opacity="0.5"/><circle cx="436.1" cy="53.2" r="1.4" fill="none" stroke="#4eac5e" stroke-width="0.9" filter="url(#f1)" opacity="0.9"/><circle cx="485.4" cy="60.9" r="1.6" fill="#46af59" filter="url(#f6)" opacity="0.5"/><circle cx="485.4" cy="60.9" r="1.2" fill="none" stroke="#46af59" stroke-width="0.9" filter="url(#f1)" opacity="0.9"/><circle cx="428" cy="58" r="1.1" fill="#254934" filter="url(#f6)" opacity="0.9"/><circle cx="506" cy="91.8" r="1.7" fill="#47bf49" filter="url(#f6)" opacity="0.5"/><circle cx="506" cy="91.8" r="1.4" fill="none" stroke="#47bf49" stroke-width="0.9" filter="url(#f1)" opacity="0.9"/><circle cx="476.6" cy="54.2" r="1.5" fill="#6e3045" filter="url(#f6)" opacity="0.9"/><circle cx="517.9" cy="34.4" r="1.1" fill="#194044" filter="url(#f6)" opacity="0.9"/><circle cx="504.2" cy="58.4" r="0.9" fill="#19382e" filter="url(#f6)" opacity="0.9"/><circle cx="485.8" cy="41.6" r="1.1" fill="#154944" filter="url(#f6)" opacity="0.9"/><circle cx="463.1" cy="117.3" r="1.8" fill="#45d634" filter="url(#f6)" opacity="0.5"/><circle cx="463.1" cy="117.3" r="1.5" fill="none" stroke="#45d634" stroke-width="0.9" filter="url(#f1)" opacity="0.9"/><circle cx="473.1" cy="69.5" r="1.3" fill="#1f3637" filter="url(#f6)" opacity="0.9"/><circle cx="486.8" cy="66.6" r="1" fill="#1f3346" filter="url(#f6)" opacity="0.9"/><circle cx="467.2" cy="106.3" r="1" fill="#123237" filter="url(#f6)" opacity="0.9"/><circle cx="454.3" cy="99.7" r="1.2" fill="#15332c" filter="url(#f6)" opacity="0.9"/><circle cx="517.7" cy="102.1" r="1.8" fill="#57da38" filter="url(#f6)" opacity="0.5"/><circle cx="517.7" cy="102.1" r="1.4" fill="none" stroke="#57da38" stroke-width="0.9" filter="url(#f1)" opacity="0.9"/><circle cx="494.9" cy="74.7" r="1.3" fill="#48ca38" filter="url(#f6)" opacity="0.5"/><circle cx="494.9" cy="74.7" r="1.1" fill="none" stroke="#48ca38" stroke-width="0.9" filter="url(#f1)" opacity="0.9"/><circle cx="463.5" cy="108" r="1.2" fill="#10413e" filter="url(#f6)" opacity="0.9"/><circle cx="464" cy="103.3" r="1" fill="#173e3c" filter="url(#f6)" opacity="0.9"/><circle cx="493.9" cy="116.3" r="1.1" fill="#1d4946" filter="url(#f6)" opacity="0.9"/><circle cx="455.4" cy="92.7" r="1.5" fill="#4ebf5a" filter="url(#f6)" opacity="0.5"/><circle cx="455.4" cy="92.7" r="1.2" fill="none" stroke="#4ebf5a" stroke-width="0.9" filter="url(#f1)" opacity="0.9"/><circle cx="465.8" cy="76.6" r="1.2" fill="#113d40" filter="url(#f6)" opacity="0.9"/><circle cx="499.1" cy="70.3" r="1.3" fill="#105427" filter="url(#f6)" opacity="0.9"/><circle cx="514.4" cy="82.5" r="1.7" fill="#4bc74e" filter="url(#f6)" opacity="0.5"/><circle cx="514.4" cy="82.5" r="1.3" fill="none" stroke="#4bc74e" stroke-width="0.9" filter="url(#f1)" opacity="0.9"/><circle cx="503.9" cy="82.8" r="1.3" fill="#16532e" filter="url(#f6)" opacity="0.9"/><circle cx="437.5" cy="126" r="1.1" fill="#0d2f30" filter="url(#f6)" opacity="0.9"/><circle cx="465.5" cy="99.3" r="1.2" fill="#24372e" filter="url(#f6)" opacity="0.9"/><circle cx="446.6" cy="108.9" r="1.2" fill="#21352b" filter="url(#f6)" opacity="0.9"/><circle cx="470.1" cy="86.6" r="1.3" fill="#215433" filter="url(#f6)" opacity="0.9"/><circle cx="470" cy="61.5" r="1" fill="#223246" filter="url(#f6)" opacity="0.9"/><circle cx="461.4" cy="57.7" r="1" fill="#133426" filter="url(#f6)" opacity="0.9"/><circle cx="454.4" cy="78.8" r="1.3" fill="#24463f" filter="url(#f6)" opacity="0.9"/><circle cx="431.4" cy="111.4" r="0.9" fill="#1c4c2b" filter="url(#f6)" opacity="0.9"/><circle cx="427.1" cy="123" r="1.3" fill="#7d372a" filter="url(#f6)" opacity="0.9"/><circle cx="440.4" cy="118.5" r="1.2" fill="#203348" filter="url(#f6)" opacity="0.9"/><circle cx="510" cy="107.7" r="1.1" fill="#1f3440" filter="url(#f6)" opacity="0.9"/><circle cx="509" cy="85.9" r="1.1" fill="#0e362b" filter="url(#f6)" opacity="0.9"/><circle cx="439.6" cy="79.9" r="1.4" fill="#a44247" filter="url(#f6)" opacity="0.9"/><circle cx="488.5" cy="112.6" r="1.2" fill="#973d4a" filter="url(#f6)" opacity="0.9"/><circle cx="483.3" cy="97.8" r="1.4" fill="#193a4b" filter="url(#f6)" opacity="0.9"/><circle cx="429.2" cy="101.2" r="1.2" fill="#183a47" filter="url(#f6)" opacity="0.9"/><circle cx="498.4" cy="53.7" r="1.3" fill="#143e3b" filter="url(#f6)" opacity="0.9"/><circle cx="464" cy="81.1" r="1" fill="#20414b" filter="url(#f6)" opacity="0.9"/><circle cx="455.8" cy="62" r="1.4" fill="#9c4644" filter="url(#f6)" opacity="0.9"/><circle cx="430.7" cy="62.1" r="1.8" fill="#4fb461" filter="url(#f6)" opacity="0.5"/><circle cx="430.7" cy="62.1" r="1.4" fill="none" stroke="#4fb461" stroke-width="0.9" filter="url(#f1)" opacity="0.9"/><circle cx="511.5" cy="91.2" r="1" fill="#1e4640" filter="url(#f6)" opacity="0.9"/><circle cx="488.7" cy="76.8" r="1.4" fill="#9f312d" filter="url(#f6)" opacity="0.9"/><circle cx="460.7" cy="110.9" r="1" fill="#174330" filter="url(#f6)" opacity="0.9"/><circle cx="466.5" cy="94" r="1.4" fill="#762f3b" filter="url(#f6)" opacity="0.9"/><circle cx="512.4" cy="75.7" r="1.6" fill="#57be51" filter="url(#f6)" opacity="0.5"/><circle cx="512.4" cy="75.7" r="1.3" fill="none" stroke="#57be51" stroke-width="0.9" filter="url(#f1)" opacity="0.9"/><circle cx="464.8" cy="43.5" r="1.2" fill="#6e352c" filter="url(#f6)" opacity="0.9"/><circle cx="516.8" cy="42.2" r="1.3" fill="#123226" filter="url(#f6)" opacity="0.9"/><circle cx="443.6" cy="38.7" r="1.2" fill="#0e4946" filter="url(#f6)" opacity="0.9"/><circle cx="492.7" cy="77.1" r="0.9" fill="#0d374b" filter="url(#f6)" opacity="0.9"/><circle cx="487.2" cy="110.4" r="1.6" fill="#d7ba58" filter="url(#f6)" opacity="0.5"/><circle cx="487.2" cy="110.4" r="1.3" fill="none" stroke="#d7ba58" stroke-width="0.9" filter="url(#f1)" opacity="0.9"/><circle cx="460.6" cy="87.8" r="1.2" fill="#16482b" filter="url(#f6)" opacity="0.9"/><circle cx="485.2" cy="73.1" r="1" fill="#1b4c4a" filter="url(#f6)" opacity="0.9"/><circle cx="431.7" cy="125.1" r="1.3" fill="#254e32" filter="url(#f6)" opacity="0.9"/><circle cx="482.5" cy="62.9" r="1.4" fill="#1c5034" filter="url(#f6)" opacity="0.9"/><circle cx="501.9" cy="60.5" r="1.8" fill="#53b848" filter="url(#f6)" opacity="0.5"/><circle cx="501.9" cy="60.5" r="1.5" fill="none" stroke="#53b848" stroke-width="0.9" filter="url(#f1)" opacity="0.9"/><circle cx="430" cy="111.9" r="1.3" fill="#22503c" filter="url(#f6)" opacity="0.9"/><circle cx="490.4" cy="119.4" r="1.3" fill="#11303b" filter="url(#f6)" opacity="0.9"/><circle cx="513.6" cy="55.9" r="1.3" fill="#134838" filter="url(#f6)" opacity="0.9"/><circle cx="500.4" cy="77" r="1.8" fill="#4dd25a" filter="url(#f6)" opacity="0.5"/><circle cx="500.4" cy="77" r="1.5" fill="none" stroke="#4dd25a" stroke-width="0.9" filter="url(#f1)" opacity="0.9"/><circle cx="509.2" cy="82.8" r="1.3" fill="#11442d" filter="url(#f6)" opacity="0.9"/><circle cx="460.1" cy="86.8" r="1.1" fill="#ae412b" filter="url(#f6)" opacity="0.9"/><circle cx="485.5" cy="107.6" r="1.3" fill="#3fc844" filter="url(#f6)" opacity="0.5"/><circle cx="485.5" cy="107.6" r="1.1" fill="none" stroke="#3fc844" stroke-width="0.9" filter="url(#f1)" opacity="0.9"/><circle cx="519.1" cy="115" r="1.4" fill="#174330" filter="url(#f6)" opacity="0.9"/><circle cx="498.1" cy="110.6" r="0.9" fill="#113727" filter="url(#f6)" opacity="0.9"/><circle cx="430.8" cy="86.1" r="1.2" fill="#0e3f4a" filter="url(#f6)" opacity="0.9"/><circle cx="463.4" cy="45.2" r="1.2" fill="#25373b" filter="url(#f6)" opacity="0.9"/><circle cx="463" cy="75.9" r="1.5" fill="#3fda65" filter="url(#f6)" opacity="0.5"/><circle cx="463" cy="75.9" r="1.2" fill="none" stroke="#3fda65" stroke-width="0.9" filter="url(#f1)" opacity="0.9"/><circle cx="459.1" cy="118.4" r="1.2" fill="#1e4e28" filter="url(#f6)" opacity="0.9"/><circle cx="518.6" cy="39.2" r="1.7" fill="#46d062" filter="url(#f6)" opacity="0.5"/><circle cx="518.6" cy="39.2" r="1.3" fill="none" stroke="#46d062" stroke-width="0.9" filter="url(#f1)" opacity="0.9"/><circle cx="497.2" cy="43.9" r="1" fill="#11372a" filter="url(#f6)" opacity="0.9"/><circle cx="439.5" cy="97.4" r="1.7" fill="#dbce3c" filter="url(#f6)" opacity="0.5"/><circle cx="439.5" cy="97.4" r="1.3" fill="none" stroke="#dbce3c" stroke-width="0.9" filter="url(#f1)" opacity="0.9"/><circle cx="507.5" cy="117.1" r="1.7" fill="#54c137" filter="url(#f6)" opacity="0.5"/><circle cx="507.5" cy="117.1" r="1.3" fill="none" stroke="#54c137" stroke-width="0.9" filter="url(#f1)" opacity="0.9"/><circle cx="468.5" cy="65.8" r="1.5" fill="#7c403e" filter="url(#f6)" opacity="0.9"/><circle cx="478" cy="47.5" r="1.3" fill="#7f3736" filter="url(#f6)" opacity="0.9"/><circle cx="510.9" cy="44.7" r="1.1" fill="#122f48" filter="url(#f6)" opacity="0.9"/><circle cx="452.9" cy="58.1" r="0.9" fill="#243b4c" filter="url(#f6)" opacity="0.9"/><circle cx="453.2" cy="117.8" r="1.8" fill="#3fce41" filter="url(#f6)" opacity="0.5"/><circle cx="453.2" cy="117.8" r="1.4" fill="none" stroke="#3fce41" stroke-width="0.9" filter="url(#f1)" opacity="0.9"/><circle cx="458" cy="47.1" r="1.8" fill="#49d44d" filter="url(#f6)" opacity="0.5"/><circle cx="458" cy="47.1" r="1.5" fill="none" stroke="#49d44d" stroke-width="0.9" filter="url(#f1)" opacity="0.9"/><circle cx="446.5" cy="87.4" r="1.3" fill="#43b35a" filter="url(#f6)" opacity="0.5"/><circle cx="446.5" cy="87.4" r="1.1" fill="none" stroke="#43b35a" stroke-width="0.9" filter="url(#f1)" opacity="0.9"/><circle cx="434.2" cy="90.9" r="1.3" fill="#1e382e" filter="url(#f6)" opacity="0.9"/><circle cx="480.8" cy="52.9" r="1.8" fill="#40cf47" filter="url(#f6)" opacity="0.5"/><circle cx="480.8" cy="52.9" r="1.4" fill="none" stroke="#40cf47" stroke-width="0.9" filter="url(#f1)" opacity="0.9"/><circle cx="457.5" cy="112.7" r="1.4" fill="#184026" filter="url(#f6)" opacity="0.9"/><circle cx="451" cy="51.4" r="0.9" fill="#1b3b2c" filter="url(#f6)" opacity="0.9"/><circle cx="474.9" cy="75.7" r="1" fill="#223141" filter="url(#f6)" opacity="0.9"/><circle cx="492.9" cy="69.7" r="1.1" fill="#192f47" filter="url(#f6)" opacity="0.9"/><circle cx="475.9" cy="84.2" r="1.5" fill="#41da3e" filter="url(#f6)" opacity="0.5"/><circle cx="475.9" cy="84.2" r="1.2" fill="none" stroke="#41da3e" stroke-width="0.9" filter="url(#f1)" opacity="0.9"/><circle cx="502.8" cy="36.8" r="1.6" fill="#c6cd3c" filter="url(#f6)" opacity="0.5"/><circle cx="502.8" cy="36.8" r="1.3" fill="none" stroke="#c6cd3c" stroke-width="0.9" filter="url(#f1)" opacity="0.9"/><circle cx="492" cy="43.6" r="1.2" fill="#8d4a27" filter="url(#f6)" opacity="0.9"/><circle cx="437.5" cy="71.9" r="1.7" fill="#c5c85e" filter="url(#f6)" opacity="0.5"/><circle cx="437.5" cy="71.9" r="1.4" fill="none" stroke="#c5c85e" stroke-width="0.9" filter="url(#f1)" opacity="0.9"/><circle cx="503.6" cy="121.7" r="1.4" fill="#163e46" filter="url(#f6)" opacity="0.9"/><circle cx="499" cy="65.7" r="1.4" fill="#213a36" filter="url(#f6)" opacity="0.9"/><circle cx="502.6" cy="113.3" r="1.6" fill="#45c463" filter="url(#f6)" opacity="0.5"/><circle cx="502.6" cy="113.3" r="1.2" fill="none" stroke="#45c463" stroke-width="0.9" filter="url(#f1)" opacity="0.9"/><circle cx="485.5" cy="68.1" r="0.9" fill="#0d2f36" filter="url(#f6)" opacity="0.9"/><circle cx="517.2" cy="106.6" r="0.9" fill="#234645" filter="url(#f6)" opacity="0.9"/><circle cx="486.3" cy="58.8" r="1" fill="#1c383a" filter="url(#f6)" opacity="0.9"/><circle cx="474.9" cy="74.6" r="1.2" fill="#0f3831" filter="url(#f6)" opacity="0.9"/><circle cx="515.9" cy="82" r="1.2" fill="#763f3a" filter="url(#f6)" opacity="0.9"/><circle cx="464.2" cy="61" r="1.2" fill="#1c303b" filter="url(#f6)" opacity="0.9"/><circle cx="487.1" cy="52.8" r="1" fill="#183f3b" filter="url(#f6)" opacity="0.9"/><circle cx="462" cy="88.8" r="1.6" fill="#4cbc5e" filter="url(#f6)" opacity="0.5"/><circle cx="462" cy="88.8" r="1.3" fill="none" stroke="#4cbc5e" stroke-width="0.9" filter="url(#f1)" opacity="0.9"/><circle cx="452.8" cy="126.3" r="1.1" fill="#a64c2c" filter="url(#f6)" opacity="0.9"/><circle cx="462.5" cy="75.1" r="0.9" fill="#1f312e" filter="url(#f6)" opacity="0.9"/><circle cx="457.7" cy="67" r="1.3" fill="#194546" filter="url(#f6)" opacity="0.9"/><circle cx="495.9" cy="105" r="1.4" fill="#0f4c41" filter="url(#f6)" opacity="0.9"/><circle cx="426.4" cy="105.6" r="1.3" fill="#17414b" filter="url(#f6)" opacity="0.9"/><circle cx="508" cy="90.8" r="1.1" fill="#143f37" filter="url(#f6)" opacity="0.9"/><circle cx="478.2" cy="70" r="1" fill="#184c46" filter="url(#f6)" opacity="0.9"/><circle cx="454.6" cy="47.6" r="1.3" fill="#154429" filter="url(#f6)" opacity="0.9"/><circle cx="504.8" cy="123.6" r="1.3" fill="#713e49" filter="url(#f6)" opacity="0.9"/><circle cx="512.5" cy="106.3" r="1.1" fill="#1e553a" filter="url(#f6)" opacity="0.9"/><circle cx="459.6" cy="89.6" r="1.1" fill="#0f5340" filter="url(#f6)" opacity="0.9"/><circle cx="463.7" cy="86.5" r="1.2" fill="#17504b" filter="url(#f6)" opacity="0.9"/><circle cx="519.6" cy="66.1" r="1.3" fill="#254e2c" filter="url(#f6)" opacity="0.9"/><circle cx="474.2" cy="44.3" r="1.1" fill="#234845" filter="url(#f6)" opacity="0.9"/><circle cx="473.5" cy="51.6" r="1.7" fill="#58ca51" filter="url(#f6)" opacity="0.5"/><circle cx="473.5" cy="51.6" r="1.3" fill="none" stroke="#58ca51" stroke-width="0.9" filter="url(#f1)" opacity="0.9"/><circle cx="430" cy="72.5" r="1.4" fill="#813940" filter="url(#f6)" opacity="0.9"/><circle cx="488.8" cy="52.4" r="1.4" fill="#1a4330" filter="url(#f6)" opacity="0.9"/><circle cx="480" cy="72.4" r="1.4" fill="#a6b259" filter="url(#f6)" opacity="0.5"/><circle cx="480" cy="72.4" r="1.1" fill="none" stroke="#a6b259" stroke-width="0.9" filter="url(#f1)" opacity="0.9"/><circle cx="503.4" cy="91.3" r="1.3" fill="#142f26" filter="url(#f6)" opacity="0.9"/><circle cx="459.3" cy="49.8" r="1.1" fill="#153148" filter="url(#f6)" opacity="0.9"/><circle cx="462.3" cy="39.1" r="1" fill="#1c444a" filter="url(#f6)" opacity="0.9"/><circle cx="430.1" cy="121" r="1.2" fill="#143948" filter="url(#f6)" opacity="0.9"/><circle cx="516.2" cy="80.3" r="1" fill="#123635" filter="url(#f6)" opacity="0.9"/><circle cx="508.3" cy="79.3" r="1.4" fill="#11362c" filter="url(#f6)" opacity="0.9"/><circle cx="453.3" cy="86.5" r="1.4" fill="#40c546" filter="url(#f6)" opacity="0.5"/><circle cx="453.3" cy="86.5" r="1.1" fill="none" stroke="#40c546" stroke-width="0.9" filter="url(#f1)" opacity="0.9"/><circle cx="503.6" cy="66.8" r="1.2" fill="#0d3431" filter="url(#f6)" opacity="0.9"/><circle cx="458.1" cy="48.6" r="1.1" fill="#103030" filter="url(#f6)" opacity="0.9"/><circle cx="504.6" cy="109.3" r="1.4" fill="#57bc57" filter="url(#f6)" opacity="0.5"/><circle cx="504.6" cy="109.3" r="1.1" fill="none" stroke="#57bc57" stroke-width="0.9" filter="url(#f1)" opacity="0.9"/><circle cx="515.4" cy="81.2" r="1.4" fill="#133f2b" filter="url(#f6)" opacity="0.9"/><circle cx="481.2" cy="68.4" r="1.1" fill="#0f452e" filter="url(#f6)" opacity="0.9"/><circle cx="477" cy="59.3" r="1.1" fill="#143c3f" filter="url(#f6)" opacity="0.9"/><circle cx="434.1" cy="50.6" r="1.3" fill="#923a3f" filter="url(#f6)" opacity="0.9"/><circle cx="453.9" cy="40.2" r="1.1" fill="#13362b" filter="url(#f6)" opacity="0.9"/><circle cx="511.4" cy="106.5" r="1.2" fill="#0d4f2b" filter="url(#f6)" opacity="0.9"/><circle cx="488.4" cy="66.9" r="1.1" fill="#224740" filter="url(#f6)" opacity="0.9"/><circle cx="485.1" cy="51" r="1.3" fill="#3fd858" filter="url(#f6)" opacity="0.5"/><circle cx="485.1" cy="51" r="1.1" fill="none" stroke="#3fd858" stroke-width="0.9" filter="url(#f1)" opacity="0.9"/><circle cx="441.2" cy="52.5" r="1" fill="#1d3c27" filter="url(#f6)" opacity="0.9"/><circle cx="504.9" cy="87.3" r="0.9" fill="#153736" filter="url(#f6)" opacity="0.9"/><circle cx="504.4" cy="106.6" r="1" fill="#0d2e46" filter="url(#f6)" opacity="0.9"/><circle cx="436.5" cy="108" r="1.5" fill="#9a5242" filter="url(#f6)" opacity="0.9"/><circle cx="503.9" cy="60.3" r="1.7" fill="#50d948" filter="url(#f6)" opacity="0.5"/><circle cx="503.9" cy="60.3" r="1.4" fill="none" stroke="#50d948" stroke-width="0.9" filter="url(#f1)" opacity="0.9"/><circle cx="504" cy="92.7" r="1.4" fill="#192f40" filter="url(#f6)" opacity="0.9"/><circle cx="438" cy="105.2" r="1.9" fill="#4ccd5c" filter="url(#f6)" opacity="0.5"/><circle cx="438" cy="105.2" r="1.5" fill="none" stroke="#4ccd5c" stroke-width="0.9" filter="url(#f1)" opacity="0.9"/><circle cx="485.9" cy="84.9" r="1" fill="#112f33" filter="url(#f6)" opacity="0.9"/><circle cx="438.8" cy="100.1" r="1.4" fill="#18362f" filter="url(#f6)" opacity="0.9"/><circle cx="459" cy="62" r="1.2" fill="#21323b" filter="url(#f6)" opacity="0.9"/><circle cx="497.5" cy="49.8" r="0.9" fill="#214537" filter="url(#f6)" opacity="0.9"/><circle cx="453.2" cy="67.7" r="1.1" fill="#1e2f30" filter="url(#f6)" opacity="0.9"/><circle cx="436.6" cy="64.3" r="1.5" fill="#6f3b2c" filter="url(#f6)" opacity="0.9"/><circle cx="433.9" cy="101.1" r="1" fill="#17432a" filter="url(#f6)" opacity="0.9"/><circle cx="477" cy="34.8" r="1" fill="#1d473e" filter="url(#f6)" opacity="0.9"/><circle cx="449.1" cy="47" r="1.7" fill="#43d15d" filter="url(#f6)" opacity="0.5"/><circle cx="449.1" cy="47" r="1.3" fill="none" stroke="#43d15d" stroke-width="0.9" filter="url(#f1)" opacity="0.9"/><circle cx="505.5" cy="120.6" r="1.4" fill="#47d15d" filter="url(#f6)" opacity="0.5"/><circle cx="505.5" cy="120.6" r="1.1" fill="none" stroke="#47d15d" stroke-width="0.9" filter="url(#f1)" opacity="0.9"/><circle cx="503.6" cy="63.9" r="0.9" fill="#124334" filter="url(#f6)" opacity="0.9"/><circle cx="479.3" cy="92.7" r="1.1" fill="#194948" filter="url(#f6)" opacity="0.9"/><circle cx="433.5" cy="98.3" r="1.6" fill="#a3c064" filter="url(#f6)" opacity="0.5"/><circle cx="433.5" cy="98.3" r="1.3" fill="none" stroke="#a3c064" stroke-width="0.9" filter="url(#f1)" opacity="0.9"/><circle cx="494" cy="34.3" r="1.2" fill="#134f44" filter="url(#f6)" opacity="0.9"/><circle cx="474.4" cy="73.4" r="0.9" fill="#233e3f" filter="url(#f6)" opacity="0.9"/><circle cx="453.8" cy="75.4" r="1.6" fill="#833b2d" filter="url(#f6)" opacity="0.9"/><circle cx="511.4" cy="114.9" r="1.2" fill="#0e533d" filter="url(#f6)" opacity="0.9"/><circle cx="483.3" cy="61.8" r="1.1" fill="#145338" filter="url(#f6)" opacity="0.9"/><circle cx="509.2" cy="36.6" r="1.5" fill="#cacc49" filter="url(#f6)" opacity="0.5"/><circle cx="509.2" cy="36.6" r="1.2" fill="none" stroke="#cacc49" stroke-width="0.9" filter="url(#f1)" opacity="0.9"/><circle cx="465.1" cy="83.6" r="1.2" fill="#233d2a" filter="url(#f6)" opacity="0.9"/><circle cx="436.6" cy="114.6" r="1.2" fill="#19303a" filter="url(#f6)" opacity="0.9"/><circle cx="447.3" cy="87.5" r="1.4" fill="#bac451" filter="url(#f6)" opacity="0.5"/><circle cx="447.3" cy="87.5" r="1.1" fill="none" stroke="#bac451" stroke-width="0.9" filter="url(#f1)" opacity="0.9"/><circle cx="507.2" cy="85.5" r="0.9" fill="#1f4b2a" filter="url(#f6)" opacity="0.9"/><circle cx="504" cy="70.6" r="1.8" fill="#42da4f" filter="url(#f6)" opacity="0.5"/><circle cx="504" cy="70.6" r="1.4" fill="none" stroke="#42da4f" stroke-width="0.9" filter="url(#f1)" opacity="0.9"/><circle cx="431.4" cy="56.2" r="1.3" fill="#142d3c" filter="url(#f6)" opacity="0.9"/><circle cx="466" cy="117.1" r="1" fill="#22503b" filter="url(#f6)" opacity="0.9"/><circle cx="496.1" cy="65.9" r="1.6" fill="#864845" filter="url(#f6)" opacity="0.9"/><circle cx="493.8" cy="38.1" r="1.4" fill="#0f313b" filter="url(#f6)" opacity="0.9"/><circle cx="489.5" cy="57.8" r="1.3" fill="#41c15d" filter="url(#f6)" opacity="0.5"/><circle cx="489.5" cy="57.8" r="1.1" fill="none" stroke="#41c15d" stroke-width="0.9" filter="url(#f1)" opacity="0.9"/><circle cx="436.4" cy="108.9" r="1.4" fill="#48c641" filter="url(#f6)" opacity="0.5"/><circle cx="436.4" cy="108.9" r="1.1" fill="none" stroke="#48c641" stroke-width="0.9" filter="url(#f1)" opacity="0.9"/><circle cx="508.3" cy="84.3" r="1.3" fill="#844d4a" filter="url(#f6)" opacity="0.9"/><circle cx="508.1" cy="108.8" r="1.6" fill="#48b45c" filter="url(#f6)" opacity="0.5"/><circle cx="508.1" cy="108.8" r="1.3" fill="none" stroke="#48b45c" stroke-width="0.9" filter="url(#f1)" opacity="0.9"/><circle cx="440.9" cy="113" r="1.6" fill="#83503d" filter="url(#f6)" opacity="0.9"/><circle cx="481.4" cy="38.1" r="1.5" fill="#48bc4a" filter="url(#f6)" opacity="0.5"/><circle cx="481.4" cy="38.1" r="1.2" fill="none" stroke="#48bc4a" stroke-width="0.9" filter="url(#f1)" opacity="0.9"/><circle cx="426.6" cy="88.2" r="0.9" fill="#0d2d37" filter="url(#f6)" opacity="0.9"/><circle cx="489.1" cy="59.5" r="1.4" fill="#1a4130" filter="url(#f6)" opacity="0.9"/><circle cx="519.3" cy="37.2" r="1.2" fill="#1c4c47" filter="url(#f6)" opacity="0.9"/><circle cx="460.1" cy="60.3" r="1.3" fill="#14504a" filter="url(#f6)" opacity="0.9"/><circle cx="495.5" cy="81.6" r="1" fill="#0e3b3b" filter="url(#f6)" opacity="0.9"/><circle cx="456.4" cy="126.4" r="0.9" fill="#153b2f" filter="url(#f6)" opacity="0.9"/><circle cx="426.7" cy="115.4" r="0.9" fill="#113f3c" filter="url(#f6)" opacity="0.9"/><circle cx="454.3" cy="62.8" r="1.2" fill="#24434a" filter="url(#f6)" opacity="0.9"/><circle cx="433.5" cy="50.7" r="1.3" fill="#175433" filter="url(#f6)" opacity="0.9"/><circle cx="432.4" cy="79.3" r="1.4" fill="#783830" filter="url(#f6)" opacity="0.9"/><circle cx="482.7" cy="114.8" r="0.9" fill="#1c3442" filter="url(#f6)" opacity="0.9"/><circle cx="502.1" cy="115.9" r="1.2" fill="#23322d" filter="url(#f6)" opacity="0.9"/><circle cx="512.8" cy="53.8" r="1" fill="#1e4b3f" filter="url(#f6)" opacity="0.9"/><circle cx="431.4" cy="72.7" r="1.5" fill="#4dca44" filter="url(#f6)" opacity="0.5"/><circle cx="431.4" cy="72.7" r="1.2" fill="none" stroke="#4dca44" stroke-width="0.9" filter="url(#f1)" opacity="0.9"/><circle cx="469.6" cy="35.3" r="1.3" fill="#95434c" filter="url(#f6)" opacity="0.9"/><circle cx="434.8" cy="48.6" r="1.6" fill="#49d037" filter="url(#f6)" opacity="0.5"/><circle cx="434.8" cy="48.6" r="1.3" fill="none" stroke="#49d037" stroke-width="0.9" filter="url(#f1)" opacity="0.9"/><circle cx="481.3" cy="85.9" r="1.3" fill="#134532" filter="url(#f6)" opacity="0.9"/><circle cx="497.8" cy="106.6" r="1.2" fill="#134c4b" filter="url(#f6)" opacity="0.9"/><circle cx="514.4" cy="46.3" r="1.9" fill="#47c254" filter="url(#f6)" opacity="0.5"/><circle cx="514.4" cy="46.3" r="1.5" fill="none" stroke="#47c254" stroke-width="0.9" filter="url(#f1)" opacity="0.9"/><circle cx="447.4" cy="104.7" r="1.6" fill="#c0ac39" filter="url(#f6)" opacity="0.5"/><circle cx="447.4" cy="104.7" r="1.3" fill="none" stroke="#c0ac39" stroke-width="0.9" filter="url(#f1)" opacity="0.9"/><circle cx="514.3" cy="68.2" r="1.3" fill="#42b358" filter="url(#f6)" opacity="0.5"/><circle cx="514.3" cy="68.2" r="1.1" fill="none" stroke="#42b358" stroke-width="0.9" filter="url(#f1)" opacity="0.9"/><circle cx="499.1" cy="56.7" r="1.1" fill="#21413e" filter="url(#f6)" opacity="0.9"/><circle cx="456.4" cy="118.5" r="1.8" fill="#48cf36" filter="url(#f6)" opacity="0.5"/><circle cx="456.4" cy="118.5" r="1.5" fill="none" stroke="#48cf36" stroke-width="0.9" filter="url(#f1)" opacity="0.9"/><circle cx="431.6" cy="86.8" r="1" fill="#12524a" filter="url(#f6)" opacity="0.9"/><circle cx="445.1" cy="105" r="0.9" fill="#1b394c" filter="url(#f6)" opacity="0.9"/><circle cx="507.1" cy="115.3" r="1.1" fill="#154b45" filter="url(#f6)" opacity="0.9"/><circle cx="509.8" cy="49.1" r="1" fill="#234537" filter="url(#f6)" opacity="0.9"/><circle cx="509.1" cy="67.7" r="1" fill="#264f2d" filter="url(#f6)" opacity="0.9"/><circle cx="428.3" cy="44.4" r="1.1" fill="#9d2d49" filter="url(#f6)" opacity="0.9"/><circle cx="490.2" cy="42.4" r="0.9" fill="#255241" filter="url(#f6)" opacity="0.9"/><circle cx="448.1" cy="108.1" r="0.9" fill="#172e39" filter="url(#f6)" opacity="0.9"/><circle cx="427.9" cy="126.6" r="1.1" fill="#10502a" filter="url(#f6)" opacity="0.9"/><circle cx="442.8" cy="98.1" r="1.7" fill="#b7cf4c" filter="url(#f6)" opacity="0.5"/><circle cx="442.8" cy="98.1" r="1.3" fill="none" stroke="#b7cf4c" stroke-width="0.9" filter="url(#f1)" opacity="0.9"/><circle cx="458.8" cy="54.1" r="1" fill="#115042" filter="url(#f6)" opacity="0.9"/><circle cx="432.5" cy="38" r="1.2" fill="#0d3d3b" filter="url(#f6)" opacity="0.9"/><circle cx="487.4" cy="84.9" r="1.1" fill="#1f484b" filter="url(#f6)" opacity="0.9"/><circle cx="455.9" cy="73.2" r="1.4" fill="#103c34" filter="url(#f6)" opacity="0.9"/><circle cx="426.5" cy="90.8" r="1" fill="#12373d" filter="url(#f6)" opacity="0.9"/><circle cx="436.9" cy="112.8" r="1.2" fill="#155128" filter="url(#f6)" opacity="0.9"/><circle cx="477.6" cy="63.5" r="1.2" fill="#192d42" filter="url(#f6)" opacity="0.9"/><circle cx="519.5" cy="55.9" r="1.2" fill="#164b34" filter="url(#f6)" opacity="0.9"/><circle cx="483.6" cy="97.3" r="1" fill="#1c463b" filter="url(#f6)" opacity="0.9"/><circle cx="511.4" cy="78.3" r="1.4" fill="#104238" filter="url(#f6)" opacity="0.9"/><circle cx="475.7" cy="83" r="1.4" fill="#a24d2f" filter="url(#f6)" opacity="0.9"/><circle cx="503.8" cy="117.6" r="0.9" fill="#212e34" filter="url(#f6)" opacity="0.9"/><circle cx="459.5" cy="109.1" r="1.3" fill="#263f29" filter="url(#f6)" opacity="0.9"/><circle cx="468.2" cy="78.7" r="1.2" fill="#164b2b" filter="url(#f6)" opacity="0.9"/><circle cx="461.8" cy="35.7" r="1.2" fill="#9c4428" filter="url(#f6)" opacity="0.9"/><circle cx="448.7" cy="112" r="1.8" fill="#49ca5e" filter="url(#f6)" opacity="0.5"/><circle cx="448.7" cy="112" r="1.4" fill="none" stroke="#49ca5e" stroke-width="0.9" filter="url(#f1)" opacity="0.9"/><circle cx="484.1" cy="68.7" r="1.5" fill="#46c045" filter="url(#f6)" opacity="0.5"/><circle cx="484.1" cy="68.7" r="1.2" fill="none" stroke="#46c045" stroke-width="0.9" filter="url(#f1)" opacity="0.9"/><circle cx="486.9" cy="109.8" r="1.4" fill="#113c3c" filter="url(#f6)" opacity="0.9"/><circle cx="492.9" cy="68.8" r="1.2" fill="#163a28" filter="url(#f6)" opacity="0.9"/><circle cx="472.7" cy="118.3" r="1.3" fill="#182e3c" filter="url(#f6)" opacity="0.9"/><circle cx="465" cy="78.3" r="1.2" fill="#213e39" filter="url(#f6)" opacity="0.9"/><circle cx="495.6" cy="71.6" r="1.4" fill="#52cc4f" filter="url(#f6)" opacity="0.5"/><circle cx="495.6" cy="71.6" r="1.1" fill="none" stroke="#52cc4f" stroke-width="0.9" filter="url(#f1)" opacity="0.9"/><circle cx="446.7" cy="41.2" r="0.9" fill="#1b3129" filter="url(#f6)" opacity="0.9"/><circle cx="490" cy="100.5" r="1.4" fill="#1b2f40" filter="url(#f6)" opacity="0.9"/><circle cx="502.8" cy="115.5" r="1.5" fill="#dfbb4d" filter="url(#f6)" opacity="0.5"/><circle cx="502.8" cy="115.5" r="1.2" fill="none" stroke="#dfbb4d" stroke-width="0.9" filter="url(#f1)" opacity="0.9"/><circle cx="455.4" cy="57.8" r="1" fill="#0e4339" filter="url(#f6)" opacity="0.9"/><circle cx="507.5" cy="109" r="1.3" fill="#90372d" filter="url(#f6)" opacity="0.9"/><circle cx="472" cy="88.6" r="0.9" fill="#1a4d2d" filter="url(#f6)" opacity="0.9"/><circle cx="455.5" cy="83.8" r="1" fill="#214332" filter="url(#f6)" opacity="0.9"/><circle cx="492.8" cy="109" r="0.9" fill="#233f4a" filter="url(#f6)" opacity="0.9"/><circle cx="466.8" cy="93.8" r="1.9" fill="#43d536" filter="url(#f6)" opacity="0.5"/><circle cx="466.8" cy="93.8" r="1.5" fill="none" stroke="#43d536" stroke-width="0.9" filter="url(#f1)" opacity="0.9"/><circle cx="478.7" cy="108.9" r="1.3" fill="#124840" filter="url(#f6)" opacity="0.9"/><circle cx="439.7" cy="119.8" r="1.1" fill="#243129" filter="url(#f6)" opacity="0.9"/><circle cx="487.9" cy="58.1" r="1.5" fill="#9a482c" filter="url(#f6)" opacity="0.9"/><circle cx="453.6" cy="55.8" r="1.5" fill="#a8393b" filter="url(#f6)" opacity="0.9"/><circle cx="440.3" cy="108.7" r="1" fill="#1d3c27" filter="url(#f6)" opacity="0.9"/><circle cx="477.3" cy="42.8" r="1.3" fill="#0f4a36" filter="url(#f6)" opacity="0.9"/><circle cx="437.5" cy="120.3" r="1.3" fill="#15533a" filter="url(#f6)" opacity="0.9"/><circle cx="472.7" cy="120.9" r="1.4" fill="#4cc25f" filter="url(#f6)" opacity="0.5"/><circle cx="472.7" cy="120.9" r="1.1" fill="none" stroke="#4cc25f" stroke-width="0.9" filter="url(#f1)" opacity="0.9"/><circle cx="439.1" cy="59.4" r="1.4" fill="#943649" filter="url(#f6)" opacity="0.9"/><circle cx="514.8" cy="95.4" r="1.4" fill="#51bb49" filter="url(#f6)" opacity="0.5"/><circle cx="514.8" cy="95.4" r="1.1" fill="none" stroke="#51bb49" stroke-width="0.9" filter="url(#f1)" opacity="0.9"/><circle cx="500" cy="61.9" r="1.7" fill="#52c637" filter="url(#f6)" opacity="0.5"/><circle cx="500" cy="61.9" r="1.3" fill="none" stroke="#52c637" stroke-width="0.9" filter="url(#f1)" opacity="0.9"/><circle cx="469.4" cy="37.2" r="1.3" fill="#93303e" filter="url(#f6)" opacity="0.9"/></g><g clip-path="url(#c4)"><rect x="232" y="163" width="69" height="131.5" fill="#000"/><ellipse cx="240" cy="172" rx="9" ry="4.5" fill="#137214" filter="url(#f3)" opacity="0.9"/><ellipse cx="261" cy="207" rx="9.5" ry="16" fill="#0c4a0e" filter="url(#f3)" opacity="0.8"/><ellipse cx="261" cy="196" rx="8" ry="5" fill="#106a12" filter="url(#f3)" opacity="0.7"/><ellipse cx="263" cy="246" rx="32" ry="11.5" fill="#198a1b" filter="url(#f3)" opacity="0.9" transform="rotate(30 263 246)"/><ellipse cx="279" cy="256" rx="16" ry="15" fill="#198a1b" filter="url(#f3)" opacity="0.9"/><ellipse cx="250" cy="235" rx="14" ry="8" fill="#1f9a21" filter="url(#f3)" opacity="0.8" transform="rotate(30 250 235)"/><ellipse cx="242" cy="255" rx="8" ry="9" fill="#0c3e0e" filter="url(#f3)" opacity="0.8"/><ellipse cx="269" cy="286" rx="14" ry="7" fill="#157a17" filter="url(#f3)" opacity="0.8" transform="rotate(10 269 286)"/><ellipse cx="290" cy="265" rx="8" ry="6" fill="#22a826" filter="url(#f3)" opacity="0.9" transform="rotate(30 290 265)"/><ellipse cx="271" cy="250.5" rx="2" ry="1.9" fill="#30c030" filter="url(#f5)" opacity="0.6"/><ellipse cx="245.4" cy="229.7" rx="2.1" ry="1.1" fill="#30c030" filter="url(#f5)" opacity="0.6"/><ellipse cx="262.9" cy="246.2" rx="1" ry="1.3" fill="#148014" filter="url(#f5)" opacity="0.6"/><ellipse cx="256.1" cy="246.5" rx="1.2" ry="2" fill="#0e600e" filter="url(#f5)" opacity="0.6"/><ellipse cx="243.5" cy="233.4" rx="2.2" ry="1" fill="#30c030" filter="url(#f5)" opacity="0.6"/><ellipse cx="278.5" cy="253.9" rx="2" ry="1.3" fill="#148014" filter="url(#f5)" opacity="0.6"/><ellipse cx="285.5" cy="254.1" rx="1.2" ry="2.2" fill="#148014" filter="url(#f5)" opacity="0.6"/><ellipse cx="246.7" cy="235.4" rx="1.4" ry="1.4" fill="#0e600e" filter="url(#f5)" opacity="0.6"/><ellipse cx="246.8" cy="237.5" rx="2" ry="1.7" fill="#2ab82a" filter="url(#f5)" opacity="0.6"/><ellipse cx="270.7" cy="251.6" rx="1.1" ry="1.4" fill="#2ab82a" filter="url(#f5)" opacity="0.6"/><ellipse cx="253.2" cy="239.7" rx="1.8" ry="1.1" fill="#0e600e" filter="url(#f5)" opacity="0.6"/><ellipse cx="288.8" cy="259.1" rx="2.1" ry="1.4" fill="#30c030" filter="url(#f5)" opacity="0.6"/><ellipse cx="256.3" cy="238.8" rx="1.7" ry="1" fill="#0e600e" filter="url(#f5)" opacity="0.6"/><ellipse cx="238.6" cy="230.8" rx="1.7" ry="2.1" fill="#148014" filter="url(#f5)" opacity="0.6"/><ellipse cx="243.7" cy="235" rx="1.4" ry="1.4" fill="#0e600e" filter="url(#f5)" opacity="0.6"/><ellipse cx="271.4" cy="257.4" rx="1.1" ry="1.9" fill="#0e600e" filter="url(#f5)" opacity="0.6"/><ellipse cx="281.4" cy="257.4" rx="1.3" ry="1.6" fill="#30c030" filter="url(#f5)" opacity="0.6"/><ellipse cx="256.3" cy="241.5" rx="1.4" ry="2.1" fill="#148014" filter="url(#f5)" opacity="0.6"/><ellipse cx="266" cy="246.7" rx="2" ry="1.8" fill="#148014" filter="url(#f5)" opacity="0.6"/><ellipse cx="279.1" cy="258.3" rx="2.2" ry="1.2" fill="#2ab82a" filter="url(#f5)" opacity="0.6"/><ellipse cx="243.4" cy="239" rx="1" ry="1.9" fill="#0e600e" filter="url(#f5)" opacity="0.6"/><ellipse cx="255.6" cy="241.5" rx="1.5" ry="1.5" fill="#2ab82a" filter="url(#f5)" opacity="0.6"/><ellipse cx="240.7" cy="233.9" rx="1.4" ry="1.2" fill="#0e600e" filter="url(#f5)" opacity="0.6"/><ellipse cx="290.6" cy="261.7" rx="1.8" ry="1.9" fill="#148014" filter="url(#f5)" opacity="0.6"/><ellipse cx="241.3" cy="231.7" rx="1.4" ry="1.5" fill="#0e600e" filter="url(#f5)" opacity="0.6"/><ellipse cx="292.6" cy="264.2" rx="2.2" ry="1.5" fill="#148014" filter="url(#f5)" opacity="0.6"/><ellipse cx="263.4" cy="245.9" rx="1.6" ry="2.1" fill="#2ab82a" filter="url(#f5)" opacity="0.6"/><ellipse cx="239.8" cy="228.7" rx="1.8" ry="1.6" fill="#148014" filter="url(#f5)" opacity="0.6"/><ellipse cx="257.6" cy="245.4" rx="1.1" ry="2" fill="#2ab82a" filter="url(#f5)" opacity="0.6"/><ellipse cx="257.8" cy="244.6" rx="1.9" ry="1.4" fill="#30c030" filter="url(#f5)" opacity="0.6"/><ellipse cx="275.1" cy="252.4" rx="2.1" ry="1.4" fill="#2ab82a" filter="url(#f5)" opacity="0.6"/><ellipse cx="250.2" cy="242.6" rx="1.6" ry="1.9" fill="#30c030" filter="url(#f5)" opacity="0.6"/><ellipse cx="254.6" cy="240.8" rx="1.4" ry="1.8" fill="#2ab82a" filter="url(#f5)" opacity="0.6"/><ellipse cx="280" cy="258.9" rx="1.4" ry="2" fill="#0e600e" filter="url(#f5)" opacity="0.6"/><ellipse cx="281.7" cy="253.4" rx="1.6" ry="1.6" fill="#2ab82a" filter="url(#f5)" opacity="0.6"/><ellipse cx="238.5" cy="223.1" rx="2.1" ry="1.6" fill="#2ab82a" filter="url(#f5)" opacity="0.6"/><ellipse cx="274.1" cy="251.5" rx="1.7" ry="2.1" fill="#148014" filter="url(#f5)" opacity="0.6"/><ellipse cx="260.6" cy="239.2" rx="1.4" ry="1.7" fill="#0e600e" filter="url(#f5)" opacity="0.6"/><ellipse cx="283.4" cy="256.5" rx="1.2" ry="1.5" fill="#148014" filter="url(#f5)" opacity="0.6"/><ellipse cx="282.6" cy="269" rx="1.9" ry="1.2" fill="#148014" filter="url(#f5)" opacity="0.6"/><ellipse cx="284.9" cy="268.5" rx="1.1" ry="1.2" fill="#148014" filter="url(#f5)" opacity="0.6"/><ellipse cx="253.7" cy="239.9" rx="1.6" ry="1.7" fill="#148014" filter="url(#f5)" opacity="0.6"/><ellipse cx="257.2" cy="239.7" rx="1.7" ry="1.3" fill="#30c030" filter="url(#f5)" opacity="0.6"/><ellipse cx="290.2" cy="266.1" rx="1.4" ry="2.1" fill="#30c030" filter="url(#f5)" opacity="0.6"/><ellipse cx="287.1" cy="263.7" rx="2.2" ry="1.7" fill="#2ab82a" filter="url(#f5)" opacity="0.6"/><ellipse cx="250.2" cy="234.7" rx="1.7" ry="1.4" fill="#2ab82a" filter="url(#f5)" opacity="0.6"/><ellipse cx="274.3" cy="258.9" rx="1.5" ry="1.7" fill="#0e600e" filter="url(#f5)" opacity="0.6"/><ellipse cx="265.2" cy="245.7" rx="1.2" ry="1.7" fill="#0e600e" filter="url(#f5)" opacity="0.6"/><ellipse cx="275.6" cy="262.2" rx="1.4" ry="2.1" fill="#30c030" filter="url(#f5)" opacity="0.6"/><ellipse cx="235" cy="227.4" rx="1.4" ry="2.1" fill="#30c030" filter="url(#f5)" opacity="0.6"/><ellipse cx="263.9" cy="243.4" rx="1.5" ry="2.2" fill="#0e600e" filter="url(#f5)" opacity="0.6"/><ellipse cx="269.6" cy="256.3" rx="2.2" ry="1.5" fill="#0e600e" filter="url(#f5)" opacity="0.6"/><ellipse cx="293.3" cy="267.8" rx="1.9" ry="1.4" fill="#2ab82a" filter="url(#f5)" opacity="0.6"/><ellipse cx="248.7" cy="235.4" rx="1.4" ry="2.2" fill="#30c030" filter="url(#f5)" opacity="0.6"/><ellipse cx="263.3" cy="245.4" rx="1.8" ry="2.2" fill="#30c030" filter="url(#f5)" opacity="0.6"/><ellipse cx="253.8" cy="244.6" rx="1.9" ry="2" fill="#30c030" filter="url(#f5)" opacity="0.6"/><ellipse cx="235.4" cy="227.3" rx="1.9" ry="1.3" fill="#0e600e" filter="url(#f5)" opacity="0.6"/><ellipse cx="251.2" cy="238.7" rx="1.9" ry="1.3" fill="#148014" filter="url(#f5)" opacity="0.6"/><ellipse cx="267.7" cy="253.1" rx="1" ry="1.2" fill="#30c030" filter="url(#f5)" opacity="0.6"/><ellipse cx="252.4" cy="239.7" rx="1.7" ry="1.9" fill="#2ab82a" filter="url(#f5)" opacity="0.6"/><ellipse cx="266.5" cy="183" rx="13.5" ry="14" fill="#1a24b8" filter="url(#f4)"/><circle cx="266.5" cy="184" r="8.5" fill="#1e32dc" filter="url(#f3)" opacity="0.7"/><ellipse cx="277" cy="255" rx="12.6" ry="12" fill="#1a22b0" filter="url(#f4)"/><ellipse cx="240" cy="163" rx="10" ry="6" fill="#1a24b0" filter="url(#f4)"/><ellipse cx="295" cy="165" rx="11" ry="13" fill="#1a22a8" filter="url(#f4)"/><ellipse cx="243" cy="290" rx="13" ry="4.5" fill="#1420a8" filter="url(#f4)" opacity="0.9"/><line x1="234.3" y1="291.4" x2="259.3" y2="291.4" stroke="#fff" stroke-width="1.7"/></g><g clip-path="url(#c5)"><rect x="306" y="163" width="69" height="131.5" fill="#000"/><ellipse cx="338" cy="210" rx="11.5" ry="15" fill="#e01608" filter="url(#f4)"/><ellipse cx="337" cy="199" rx="13" ry="5.5" fill="#e01608" filter="url(#f4)" opacity="0.9"/><ellipse cx="337" cy="221" rx="9" ry="6" fill="#c01006" filter="url(#f4)" opacity="0.9"/><ellipse cx="328" cy="236" rx="12" ry="6" fill="#700a04" filter="url(#f3)" opacity="0.8" transform="rotate(-35 328 236)"/><ellipse cx="320" cy="249" rx="5" ry="10" fill="#800c06" filter="url(#f3)" opacity="0.8" transform="rotate(-15 320 249)"/><ellipse cx="348" cy="233" rx="5" ry="4" fill="#600804" filter="url(#f3)" opacity="0.8"/><ellipse cx="334.2" cy="244.2" rx="1.3" ry="0.8" fill="#ff3010" filter="url(#f1)" opacity="0.7"/><ellipse cx="329.3" cy="241.4" rx="0.9" ry="0.8" fill="#d01008" filter="url(#f1)" opacity="0.7"/><ellipse cx="338.9" cy="254.3" rx="1.2" ry="1.1" fill="#d01008" filter="url(#f1)" opacity="0.7"/><ellipse cx="345.9" cy="196" rx="1.3" ry="1.1" fill="#ff2a10" filter="url(#f1)" opacity="0.8"/><ellipse cx="336.8" cy="235.2" rx="1.1" ry="1" fill="#ff2414" filter="url(#f1)" opacity="0.7"/><ellipse cx="330.5" cy="239.9" rx="1.2" ry="0.9" fill="#ff2414" filter="url(#f1)" opacity="0.7"/><ellipse cx="360.3" cy="203.5" rx="1.1" ry="0.8" fill="#ff4020" filter="url(#f1)" opacity="0.8"/><ellipse cx="337.4" cy="194.6" rx="0.8" ry="1.3" fill="#ff4020" filter="url(#f1)" opacity="0.8"/><ellipse cx="340.3" cy="206.4" rx="1" ry="1.1" fill="#700402" filter="url(#f1)" opacity="0.8"/><ellipse cx="335.3" cy="204.3" rx="1.4" ry="1.2" fill="#ff4020" filter="url(#f1)" opacity="0.8"/><ellipse cx="332.8" cy="202.1" rx="0.7" ry="1" fill="#ff4020" filter="url(#f1)" opacity="0.8"/><ellipse cx="327.8" cy="255.3" rx="1.2" ry="1" fill="#ff3010" filter="url(#f1)" opacity="0.7"/><ellipse cx="322.4" cy="194" rx="1.4" ry="0.7" fill="#ff3818" filter="url(#f1)" opacity="0.8"/><ellipse cx="350.1" cy="226.9" rx="0.7" ry="0.8" fill="#ff4020" filter="url(#f1)" opacity="0.8"/><ellipse cx="346.9" cy="221.4" rx="0.8" ry="0.8" fill="#700402" filter="url(#f1)" opacity="0.8"/><ellipse cx="339.1" cy="231.1" rx="0.8" ry="1.1" fill="#d01008" filter="url(#f1)" opacity="0.7"/><ellipse cx="339.1" cy="225.9" rx="1.3" ry="1.3" fill="#d01008" filter="url(#f1)" opacity="0.7"/><ellipse cx="344" cy="200.3" rx="1.2" ry="1" fill="#ff2a10" filter="url(#f1)" opacity="0.8"/><ellipse cx="345.9" cy="228.5" rx="1.4" ry="0.9" fill="#ff3010" filter="url(#f1)" opacity="0.7"/><ellipse cx="341.3" cy="229.9" rx="1.1" ry="1.4" fill="#d01008" filter="url(#f1)" opacity="0.7"/><ellipse cx="335" cy="230.6" rx="1.1" ry="0.9" fill="#ff3010" filter="url(#f1)" opacity="0.7"/><ellipse cx="343.8" cy="233.1" rx="0.9" ry="0.7" fill="#d01008" filter="url(#f1)" opacity="0.7"/><ellipse cx="320.9" cy="197" rx="1.3" ry="1.4" fill="#ff2a10" filter="url(#f1)" opacity="0.8"/><ellipse cx="322.7" cy="249.4" rx="1.3" ry="1" fill="#ff2414" filter="url(#f1)" opacity="0.7"/><ellipse cx="336.2" cy="204.3" rx="0.7" ry="1.1" fill="#ff4020" filter="url(#f1)" opacity="0.8"/><ellipse cx="316" cy="266.7" rx="1" ry="1" fill="#ff2414" filter="url(#f1)" opacity="0.7"/><ellipse cx="347.8" cy="198.3" rx="0.9" ry="1.2" fill="#ff3818" filter="url(#f1)" opacity="0.8"/><ellipse cx="316.7" cy="252" rx="1.1" ry="1.1" fill="#d01008" filter="url(#f1)" opacity="0.7"/><ellipse cx="343.7" cy="213.2" rx="0.8" ry="1.1" fill="#ff4020" filter="url(#f1)" opacity="0.8"/><ellipse cx="318.9" cy="254.5" rx="1.2" ry="1" fill="#ff3010" filter="url(#f1)" opacity="0.7"/><ellipse cx="323.8" cy="245" rx="1.1" ry="1" fill="#d01008" filter="url(#f1)" opacity="0.7"/><ellipse cx="335.6" cy="214.3" rx="0.9" ry="0.7" fill="#700402" filter="url(#f1)" opacity="0.8"/><ellipse cx="330.8" cy="216.4" rx="1.1" ry="1.2" fill="#ff2a10" filter="url(#f1)" opacity="0.8"/><ellipse cx="344.9" cy="202" rx="1.2" ry="0.8" fill="#700402" filter="url(#f1)" opacity="0.8"/><ellipse cx="334.8" cy="220.6" rx="1.3" ry="1" fill="#ff2a10" filter="url(#f1)" opacity="0.8"/><ellipse cx="340.3" cy="240.6" rx="1.2" ry="1.4" fill="#ff2414" filter="url(#f1)" opacity="0.7"/><ellipse cx="341.5" cy="203.1" rx="1.3" ry="1" fill="#ff2a10" filter="url(#f1)" opacity="0.8"/><ellipse cx="330.6" cy="248.9" rx="1" ry="0.8" fill="#ff3010" filter="url(#f1)" opacity="0.7"/><ellipse cx="325.8" cy="222.8" rx="1.2" ry="0.9" fill="#ff4020" filter="url(#f1)" opacity="0.8"/><ellipse cx="333" cy="215.2" rx="1" ry="0.7" fill="#700402" filter="url(#f1)" opacity="0.8"/><ellipse cx="333.7" cy="234.8" rx="0.8" ry="0.8" fill="#ff3010" filter="url(#f1)" opacity="0.7"/><ellipse cx="328" cy="248.2" rx="0.8" ry="1" fill="#ff2414" filter="url(#f1)" opacity="0.7"/><ellipse cx="339.9" cy="194.4" rx="1.1" ry="0.7" fill="#700402" filter="url(#f1)" opacity="0.8"/><ellipse cx="339.4" cy="225.2" rx="1" ry="1.3" fill="#ff2a10" filter="url(#f1)" opacity="0.8"/><ellipse cx="337.3" cy="234.2" rx="1" ry="0.8" fill="#ff2414" filter="url(#f1)" opacity="0.7"/><ellipse cx="342.5" cy="219.7" rx="1.3" ry="1.4" fill="#ff3010" filter="url(#f1)" opacity="0.7"/><ellipse cx="324.2" cy="251.5" rx="1.3" ry="0.8" fill="#ff3010" filter="url(#f1)" opacity="0.7"/><ellipse cx="348" cy="206.9" rx="1.4" ry="1.1" fill="#ff4020" filter="url(#f1)" opacity="0.8"/><ellipse cx="344.7" cy="233" rx="1.1" ry="0.7" fill="#d01008" filter="url(#f1)" opacity="0.7"/><ellipse cx="333.4" cy="224.4" rx="1.3" ry="0.7" fill="#ff2a10" filter="url(#f1)" opacity="0.8"/><ellipse cx="342.7" cy="228" rx="1" ry="1.4" fill="#ff2414" filter="url(#f1)" opacity="0.7"/><ellipse cx="338" cy="242.8" rx="1.1" ry="1.2" fill="#d01008" filter="url(#f1)" opacity="0.7"/><ellipse cx="328" cy="234.7" rx="1.1" ry="1.1" fill="#ff3010" filter="url(#f1)" opacity="0.7"/><ellipse cx="325.8" cy="244.8" rx="0.8" ry="1.3" fill="#ff3010" filter="url(#f1)" opacity="0.7"/><ellipse cx="334.8" cy="242.5" rx="0.8" ry="0.7" fill="#ff3010" filter="url(#f1)" opacity="0.7"/><ellipse cx="336.1" cy="211.8" rx="1.1" ry="1" fill="#ff4020" filter="url(#f1)" opacity="0.8"/><ellipse cx="321.5" cy="246.7" rx="1.4" ry="1" fill="#ff2414" filter="url(#f1)" opacity="0.7"/><ellipse cx="318.9" cy="257.1" rx="0.8" ry="1" fill="#d01008" filter="url(#f1)" opacity="0.7"/><ellipse cx="314.7" cy="259.7" rx="1" ry="0.7" fill="#ff2414" filter="url(#f1)" opacity="0.7"/><ellipse cx="332.7" cy="195.2" rx="0.9" ry="1.2" fill="#ff2a10" filter="url(#f1)" opacity="0.8"/><ellipse cx="320.9" cy="205.7" rx="0.8" ry="1.2" fill="#700402" filter="url(#f1)" opacity="0.8"/><ellipse cx="333.1" cy="200.5" rx="0.7" ry="1.1" fill="#700402" filter="url(#f1)" opacity="0.8"/><ellipse cx="327.3" cy="240.6" rx="1.1" ry="1.1" fill="#ff3010" filter="url(#f1)" opacity="0.7"/><ellipse cx="325.3" cy="250.1" rx="1.1" ry="0.9" fill="#ff3010" filter="url(#f1)" opacity="0.7"/><ellipse cx="334.3" cy="213.9" rx="0.9" ry="1.4" fill="#ff2a10" filter="url(#f1)" opacity="0.8"/><ellipse cx="342.5" cy="236.5" rx="1" ry="1" fill="#d01008" filter="url(#f1)" opacity="0.7"/><ellipse cx="328.8" cy="243.1" rx="1.2" ry="0.7" fill="#ff3010" filter="url(#f1)" opacity="0.7"/><ellipse cx="332.1" cy="226" rx="1.2" ry="1.1" fill="#ff4020" filter="url(#f1)" opacity="0.8"/><ellipse cx="325" cy="227" rx="1.3" ry="1" fill="#ff2a10" filter="url(#f1)" opacity="0.8"/><ellipse cx="338.7" cy="223.9" rx="0.8" ry="0.8" fill="#700402" filter="url(#f1)" opacity="0.8"/><ellipse cx="329.1" cy="221.7" rx="1.3" ry="0.8" fill="#ff3818" filter="url(#f1)" opacity="0.8"/><ellipse cx="344.9" cy="219.2" rx="1" ry="1" fill="#ff3818" filter="url(#f1)" opacity="0.8"/><ellipse cx="335.8" cy="200.9" rx="0.7" ry="1.2" fill="#ff3818" filter="url(#f1)" opacity="0.8"/><ellipse cx="332.7" cy="233.8" rx="1.3" ry="1.1" fill="#d01008" filter="url(#f1)" opacity="0.7"/><ellipse cx="339.5" cy="196.8" rx="1.1" ry="0.8" fill="#700402" filter="url(#f1)" opacity="0.8"/><ellipse cx="331.5" cy="238.2" rx="1.2" ry="1.2" fill="#ff2414" filter="url(#f1)" opacity="0.7"/><ellipse cx="329.8" cy="247" rx="1" ry="1" fill="#ff3010" filter="url(#f1)" opacity="0.7"/><ellipse cx="329.9" cy="200.8" rx="0.7" ry="0.9" fill="#ff2a10" filter="url(#f1)" opacity="0.8"/><ellipse cx="341.3" cy="229.9" rx="0.7" ry="0.9" fill="#ff3010" filter="url(#f1)" opacity="0.7"/><ellipse cx="338.1" cy="240.3" rx="1.1" ry="1" fill="#ff2414" filter="url(#f1)" opacity="0.7"/><ellipse cx="324.2" cy="242.9" rx="0.7" ry="1.1" fill="#ff3010" filter="url(#f1)" opacity="0.7"/><ellipse cx="337" cy="235.5" rx="1.2" ry="0.7" fill="#ff2414" filter="url(#f1)" opacity="0.7"/><ellipse cx="337" cy="211.8" rx="1.4" ry="1.1" fill="#700402" filter="url(#f1)" opacity="0.8"/><ellipse cx="331.4" cy="249.8" rx="1.2" ry="1.4" fill="#ff3010" filter="url(#f1)" opacity="0.7"/><ellipse cx="335.6" cy="225" rx="1" ry="0.8" fill="#700402" filter="url(#f1)" opacity="0.8"/><ellipse cx="338.9" cy="251.7" rx="0.9" ry="1" fill="#d01008" filter="url(#f1)" opacity="0.7"/><ellipse cx="330.7" cy="202.9" rx="1.2" ry="1.2" fill="#ff3818" filter="url(#f1)" opacity="0.8"/><ellipse cx="336.6" cy="219.5" rx="1.1" ry="1" fill="#ff4020" filter="url(#f1)" opacity="0.8"/><ellipse cx="342.4" cy="230.7" rx="1.4" ry="1.4" fill="#ff3010" filter="url(#f1)" opacity="0.7"/><ellipse cx="343.7" cy="209.8" rx="0.7" ry="0.8" fill="#ff2a10" filter="url(#f1)" opacity="0.8"/><ellipse cx="315.8" cy="265.8" rx="1.1" ry="0.8" fill="#ff2414" filter="url(#f1)" opacity="0.7"/><ellipse cx="342.3" cy="242.7" rx="0.8" ry="1" fill="#ff3010" filter="url(#f1)" opacity="0.7"/><ellipse cx="340" cy="207.8" rx="1.1" ry="1.2" fill="#ff3818" filter="url(#f1)" opacity="0.8"/><ellipse cx="337.5" cy="198.5" rx="1.2" ry="0.9" fill="#ff3818" filter="url(#f1)" opacity="0.8"/><ellipse cx="326.1" cy="223.5" rx="0.9" ry="1.1" fill="#ff3818" filter="url(#f1)" opacity="0.8"/><ellipse cx="326.5" cy="254.6" rx="0.8" ry="0.9" fill="#ff2414" filter="url(#f1)" opacity="0.7"/><ellipse cx="319.6" cy="259" rx="0.7" ry="0.9" fill="#ff2414" filter="url(#f1)" opacity="0.7"/><ellipse cx="342.5" cy="203.2" rx="1.3" ry="0.8" fill="#ff4020" filter="url(#f1)" opacity="0.8"/><ellipse cx="339.1" cy="226.4" rx="1" ry="0.8" fill="#700402" filter="url(#f1)" opacity="0.8"/><ellipse cx="337.6" cy="196.5" rx="1" ry="1.3" fill="#ff4020" filter="url(#f1)" opacity="0.8"/><ellipse cx="313.4" cy="248" rx="1.3" ry="1" fill="#d01008" filter="url(#f1)" opacity="0.7"/><ellipse cx="319.2" cy="260.3" rx="1.3" ry="0.8" fill="#ff3010" filter="url(#f1)" opacity="0.7"/><ellipse cx="334.2" cy="243.6" rx="0.8" ry="1.1" fill="#ff3010" filter="url(#f1)" opacity="0.7"/><ellipse cx="326.5" cy="249" rx="0.9" ry="1.3" fill="#ff2414" filter="url(#f1)" opacity="0.7"/><ellipse cx="333.4" cy="244.6" rx="0.9" ry="0.8" fill="#d01008" filter="url(#f1)" opacity="0.7"/><ellipse cx="338.4" cy="218" rx="1.3" ry="0.9" fill="#ff3818" filter="url(#f1)" opacity="0.8"/><ellipse cx="326.4" cy="216.7" rx="1" ry="1.3" fill="#ff3818" filter="url(#f1)" opacity="0.8"/><ellipse cx="330.1" cy="204.5" rx="1.4" ry="1.2" fill="#700402" filter="url(#f1)" opacity="0.8"/><ellipse cx="344" cy="227.4" rx="1" ry="1" fill="#ff3010" filter="url(#f1)" opacity="0.7"/><ellipse cx="327.3" cy="211.8" rx="0.8" ry="1.2" fill="#ff2a10" filter="url(#f1)" opacity="0.8"/><ellipse cx="334.1" cy="240.5" rx="0.8" ry="0.9" fill="#ff3010" filter="url(#f1)" opacity="0.7"/><ellipse cx="339.1" cy="221.8" rx="0.7" ry="1.1" fill="#700402" filter="url(#f1)" opacity="0.8"/><ellipse cx="350.6" cy="231.4" rx="0.8" ry="1.1" fill="#d01008" filter="url(#f1)" opacity="0.7"/><ellipse cx="337.8" cy="202.1" rx="1" ry="1.3" fill="#ff2a10" filter="url(#f1)" opacity="0.8"/><ellipse cx="328.6" cy="209.1" rx="0.9" ry="1.4" fill="#ff3818" filter="url(#f1)" opacity="0.8"/><ellipse cx="323.4" cy="242.3" rx="1.1" ry="0.7" fill="#ff3010" filter="url(#f1)" opacity="0.7"/><ellipse cx="316.2" cy="262.7" rx="1.3" ry="1.3" fill="#d01008" filter="url(#f1)" opacity="0.7"/><ellipse cx="319" cy="248.4" rx="1" ry="1" fill="#ff2414" filter="url(#f1)" opacity="0.7"/><ellipse cx="336.9" cy="206.4" rx="0.9" ry="1" fill="#ff2a10" filter="url(#f1)" opacity="0.8"/><ellipse cx="322.5" cy="238.8" rx="0.8" ry="1.2" fill="#ff3010" filter="url(#f1)" opacity="0.7"/><ellipse cx="336.9" cy="235.9" rx="1" ry="1.3" fill="#ff3010" filter="url(#f1)" opacity="0.7"/><ellipse cx="340.7" cy="200.5" rx="0.9" ry="0.9" fill="#ff3818" filter="url(#f1)" opacity="0.8"/><ellipse cx="328.7" cy="250.1" rx="1" ry="1.3" fill="#d01008" filter="url(#f1)" opacity="0.7"/><ellipse cx="333.1" cy="247" rx="1" ry="1" fill="#d01008" filter="url(#f1)" opacity="0.7"/><ellipse cx="326.5" cy="248.3" rx="1" ry="0.9" fill="#ff2414" filter="url(#f1)" opacity="0.7"/><ellipse cx="343.3" cy="220.2" rx="1.3" ry="0.7" fill="#ff3818" filter="url(#f1)" opacity="0.8"/><ellipse cx="306.2" cy="265" rx="1.3" ry="1.2" fill="#d01008" filter="url(#f1)" opacity="0.7"/><ellipse cx="333.6" cy="232.9" rx="1.3" ry="1.3" fill="#d01008" filter="url(#f1)" opacity="0.7"/><ellipse cx="342.8" cy="218.5" rx="1.1" ry="0.7" fill="#ff3818" filter="url(#f1)" opacity="0.8"/><ellipse cx="343.8" cy="240.3" rx="1.3" ry="0.8" fill="#ff2414" filter="url(#f1)" opacity="0.7"/><ellipse cx="337.4" cy="209.8" rx="0.8" ry="1.2" fill="#700402" filter="url(#f1)" opacity="0.8"/><ellipse cx="328.6" cy="246.8" rx="1.3" ry="0.8" fill="#ff2414" filter="url(#f1)" opacity="0.7"/><ellipse cx="340.1" cy="228.2" rx="1.4" ry="1.4" fill="#ff2414" filter="url(#f1)" opacity="0.7"/><ellipse cx="335.9" cy="207.4" rx="1.4" ry="1.2" fill="#ff3818" filter="url(#f1)" opacity="0.8"/><ellipse cx="341.2" cy="216" rx="1.2" ry="1.2" fill="#700402" filter="url(#f1)" opacity="0.8"/><ellipse cx="339.6" cy="208.7" rx="1.2" ry="1" fill="#700402" filter="url(#f1)" opacity="0.8"/><ellipse cx="346.5" cy="222.3" rx="1.3" ry="0.8" fill="#ff2a10" filter="url(#f1)" opacity="0.8"/><ellipse cx="323.5" cy="260.6" rx="1.1" ry="0.8" fill="#d01008" filter="url(#f1)" opacity="0.7"/><ellipse cx="321.9" cy="206.4" rx="0.9" ry="1.4" fill="#ff4020" filter="url(#f1)" opacity="0.8"/><ellipse cx="319.7" cy="259" rx="0.8" ry="1.1" fill="#ff2414" filter="url(#f1)" opacity="0.7"/><ellipse cx="335.2" cy="200.4" rx="1.3" ry="1.1" fill="#ff4020" filter="url(#f1)" opacity="0.8"/><ellipse cx="335" cy="201.5" rx="1.4" ry="1" fill="#ff2a10" filter="url(#f1)" opacity="0.8"/><ellipse cx="340.8" cy="229.8" rx="1.2" ry="1.2" fill="#ff2414" filter="url(#f1)" opacity="0.7"/><ellipse cx="331.9" cy="243.3" rx="1.2" ry="1.1" fill="#ff2414" filter="url(#f1)" opacity="0.7"/><ellipse cx="339.2" cy="226.5" rx="0.9" ry="0.8" fill="#ff4020" filter="url(#f1)" opacity="0.8"/><ellipse cx="333.3" cy="208.6" rx="0.8" ry="0.9" fill="#700402" filter="url(#f1)" opacity="0.8"/><ellipse cx="346.2" cy="202.4" rx="1.1" ry="0.9" fill="#ff3818" filter="url(#f1)" opacity="0.8"/><ellipse cx="346.5" cy="227.7" rx="1.4" ry="1.2" fill="#ff3010" filter="url(#f1)" opacity="0.7"/><ellipse cx="314.7" cy="252.3" rx="0.8" ry="1" fill="#ff2414" filter="url(#f1)" opacity="0.7"/><ellipse cx="339.6" cy="205" rx="1.4" ry="1" fill="#ff4020" filter="url(#f1)" opacity="0.8"/><ellipse cx="344.9" cy="229.4" rx="1.1" ry="1.1" fill="#ff3010" filter="url(#f1)" opacity="0.7"/><ellipse cx="351.2" cy="228.3" rx="1.1" ry="0.8" fill="#d01008" filter="url(#f1)" opacity="0.7"/><ellipse cx="340.3" cy="234.2" rx="1" ry="0.8" fill="#ff3010" filter="url(#f1)" opacity="0.7"/><ellipse cx="316.8" cy="257" rx="0.8" ry="1.2" fill="#ff3010" filter="url(#f1)" opacity="0.7"/><ellipse cx="313.4" cy="255.7" rx="0.8" ry="1" fill="#ff2414" filter="url(#f1)" opacity="0.7"/><ellipse cx="334.8" cy="207.4" rx="1.1" ry="0.9" fill="#ff3818" filter="url(#f1)" opacity="0.8"/><ellipse cx="335.6" cy="236.9" rx="1.3" ry="1" fill="#ff3010" filter="url(#f1)" opacity="0.7"/><ellipse cx="341.8" cy="224.1" rx="1.1" ry="1" fill="#ff3010" filter="url(#f1)" opacity="0.7"/><ellipse cx="349.4" cy="223.3" rx="1.3" ry="1.3" fill="#700402" filter="url(#f1)" opacity="0.8"/><ellipse cx="330.3" cy="223.9" rx="1.1" ry="1" fill="#ff3818" filter="url(#f1)" opacity="0.8"/><ellipse cx="339" cy="243.2" rx="1.2" ry="1.1" fill="#d01008" filter="url(#f1)" opacity="0.7"/><ellipse cx="339.6" cy="235.3" rx="1.3" ry="0.9" fill="#ff2414" filter="url(#f1)" opacity="0.7"/><ellipse cx="315.8" cy="260.1" rx="1.1" ry="1.2" fill="#ff2414" filter="url(#f1)" opacity="0.7"/><ellipse cx="320" cy="264.9" rx="1" ry="1.1" fill="#ff3010" filter="url(#f1)" opacity="0.7"/><ellipse cx="341" cy="228.8" rx="1.3" ry="0.8" fill="#ff2414" filter="url(#f1)" opacity="0.7"/><ellipse cx="338.1" cy="220.2" rx="0.9" ry="1.2" fill="#ff2414" filter="url(#f1)" opacity="0.7"/><ellipse cx="334.3" cy="199.7" rx="1.3" ry="1.3" fill="#700402" filter="url(#f1)" opacity="0.8"/><ellipse cx="332.6" cy="195.5" rx="1" ry="0.9" fill="#ff4020" filter="url(#f1)" opacity="0.8"/><ellipse cx="344.8" cy="198.7" rx="1.3" ry="0.8" fill="#700402" filter="url(#f1)" opacity="0.8"/><ellipse cx="329.3" cy="252.6" rx="1.3" ry="0.7" fill="#d01008" filter="url(#f1)" opacity="0.7"/><ellipse cx="340.5" cy="183" rx="13.5" ry="14" fill="#1a24b8" filter="url(#f4)"/><circle cx="340.5" cy="184" r="8.5" fill="#1e32dc" filter="url(#f3)" opacity="0.7"/><ellipse cx="351" cy="255" rx="12.6" ry="12" fill="#1a22b0" filter="url(#f4)"/><ellipse cx="314" cy="163" rx="10" ry="6" fill="#1a24b0" filter="url(#f4)"/><ellipse cx="369" cy="165" rx="11" ry="13" fill="#1a22a8" filter="url(#f4)"/><ellipse cx="317" cy="290" rx="13" ry="4.5" fill="#1420a8" filter="url(#f4)" opacity="0.9"/><line x1="308.3" y1="291.4" x2="333.3" y2="291.4" stroke="#fff" stroke-width="1.7"/></g><g clip-path="url(#c6)"><rect x="378" y="163" width="69" height="131.5" fill="#000"/><ellipse cx="386" cy="172" rx="9" ry="4.5" fill="#137214" filter="url(#f3)" opacity="0.9"/><ellipse cx="407" cy="207" rx="9.5" ry="16" fill="#0c4a0e" filter="url(#f3)" opacity="0.8"/><ellipse cx="407" cy="196" rx="8" ry="5" fill="#106a12" filter="url(#f3)" opacity="0.7"/><ellipse cx="409" cy="246" rx="32" ry="11.5" fill="#198a1b" filter="url(#f3)" opacity="0.9" transform="rotate(30 409 246)"/><ellipse cx="425" cy="256" rx="16" ry="15" fill="#198a1b" filter="url(#f3)" opacity="0.9"/><ellipse cx="396" cy="235" rx="14" ry="8" fill="#1f9a21" filter="url(#f3)" opacity="0.8" transform="rotate(30 396 235)"/><ellipse cx="388" cy="255" rx="8" ry="9" fill="#0c3e0e" filter="url(#f3)" opacity="0.8"/><ellipse cx="415" cy="286" rx="14" ry="7" fill="#157a17" filter="url(#f3)" opacity="0.8" transform="rotate(10 415 286)"/><ellipse cx="436" cy="265" rx="8" ry="6" fill="#22a826" filter="url(#f3)" opacity="0.9" transform="rotate(30 436 265)"/><ellipse cx="417" cy="250.5" rx="2" ry="1.9" fill="#30c030" filter="url(#f5)" opacity="0.6"/><ellipse cx="391.4" cy="229.7" rx="2.1" ry="1.1" fill="#30c030" filter="url(#f5)" opacity="0.6"/><ellipse cx="408.9" cy="246.2" rx="1" ry="1.3" fill="#148014" filter="url(#f5)" opacity="0.6"/><ellipse cx="402.1" cy="246.5" rx="1.2" ry="2" fill="#0e600e" filter="url(#f5)" opacity="0.6"/><ellipse cx="389.5" cy="233.4" rx="2.2" ry="1" fill="#30c030" filter="url(#f5)" opacity="0.6"/><ellipse cx="424.5" cy="253.9" rx="2" ry="1.3" fill="#148014" filter="url(#f5)" opacity="0.6"/><ellipse cx="431.5" cy="254.1" rx="1.2" ry="2.2" fill="#148014" filter="url(#f5)" opacity="0.6"/><ellipse cx="392.7" cy="235.4" rx="1.4" ry="1.4" fill="#0e600e" filter="url(#f5)" opacity="0.6"/><ellipse cx="392.8" cy="237.5" rx="2" ry="1.7" fill="#2ab82a" filter="url(#f5)" opacity="0.6"/><ellipse cx="416.7" cy="251.6" rx="1.1" ry="1.4" fill="#2ab82a" filter="url(#f5)" opacity="0.6"/><ellipse cx="399.2" cy="239.7" rx="1.8" ry="1.1" fill="#0e600e" filter="url(#f5)" opacity="0.6"/><ellipse cx="434.8" cy="259.1" rx="2.1" ry="1.4" fill="#30c030" filter="url(#f5)" opacity="0.6"/><ellipse cx="402.3" cy="238.8" rx="1.7" ry="1" fill="#0e600e" filter="url(#f5)" opacity="0.6"/><ellipse cx="384.6" cy="230.8" rx="1.7" ry="2.1" fill="#148014" filter="url(#f5)" opacity="0.6"/><ellipse cx="389.7" cy="235" rx="1.4" ry="1.4" fill="#0e600e" filter="url(#f5)" opacity="0.6"/><ellipse cx="417.4" cy="257.4" rx="1.1" ry="1.9" fill="#0e600e" filter="url(#f5)" opacity="0.6"/><ellipse cx="427.4" cy="257.4" rx="1.3" ry="1.6" fill="#30c030" filter="url(#f5)" opacity="0.6"/><ellipse cx="402.3" cy="241.5" rx="1.4" ry="2.1" fill="#148014" filter="url(#f5)" opacity="0.6"/><ellipse cx="412" cy="246.7" rx="2" ry="1.8" fill="#148014" filter="url(#f5)" opacity="0.6"/><ellipse cx="425.1" cy="258.3" rx="2.2" ry="1.2" fill="#2ab82a" filter="url(#f5)" opacity="0.6"/><ellipse cx="389.4" cy="239" rx="1" ry="1.9" fill="#0e600e" filter="url(#f5)" opacity="0.6"/><ellipse cx="401.6" cy="241.5" rx="1.5" ry="1.5" fill="#2ab82a" filter="url(#f5)" opacity="0.6"/><ellipse cx="386.7" cy="233.9" rx="1.4" ry="1.2" fill="#0e600e" filter="url(#f5)" opacity="0.6"/><ellipse cx="436.6" cy="261.7" rx="1.8" ry="1.9" fill="#148014" filter="url(#f5)" opacity="0.6"/><ellipse cx="387.3" cy="231.7" rx="1.4" ry="1.5" fill="#0e600e" filter="url(#f5)" opacity="0.6"/><ellipse cx="438.6" cy="264.2" rx="2.2" ry="1.5" fill="#148014" filter="url(#f5)" opacity="0.6"/><ellipse cx="409.4" cy="245.9" rx="1.6" ry="2.1" fill="#2ab82a" filter="url(#f5)" opacity="0.6"/><ellipse cx="385.8" cy="228.7" rx="1.8" ry="1.6" fill="#148014" filter="url(#f5)" opacity="0.6"/><ellipse cx="403.6" cy="245.4" rx="1.1" ry="2" fill="#2ab82a" filter="url(#f5)" opacity="0.6"/><ellipse cx="403.8" cy="244.6" rx="1.9" ry="1.4" fill="#30c030" filter="url(#f5)" opacity="0.6"/><ellipse cx="421.1" cy="252.4" rx="2.1" ry="1.4" fill="#2ab82a" filter="url(#f5)" opacity="0.6"/><ellipse cx="396.2" cy="242.6" rx="1.6" ry="1.9" fill="#30c030" filter="url(#f5)" opacity="0.6"/><ellipse cx="400.6" cy="240.8" rx="1.4" ry="1.8" fill="#2ab82a" filter="url(#f5)" opacity="0.6"/><ellipse cx="426" cy="258.9" rx="1.4" ry="2" fill="#0e600e" filter="url(#f5)" opacity="0.6"/><ellipse cx="427.7" cy="253.4" rx="1.6" ry="1.6" fill="#2ab82a" filter="url(#f5)" opacity="0.6"/><ellipse cx="384.5" cy="223.1" rx="2.1" ry="1.6" fill="#2ab82a" filter="url(#f5)" opacity="0.6"/><ellipse cx="420.1" cy="251.5" rx="1.7" ry="2.1" fill="#148014" filter="url(#f5)" opacity="0.6"/><ellipse cx="406.6" cy="239.2" rx="1.4" ry="1.7" fill="#0e600e" filter="url(#f5)" opacity="0.6"/><ellipse cx="429.4" cy="256.5" rx="1.2" ry="1.5" fill="#148014" filter="url(#f5)" opacity="0.6"/><ellipse cx="428.6" cy="269" rx="1.9" ry="1.2" fill="#148014" filter="url(#f5)" opacity="0.6"/><ellipse cx="430.9" cy="268.5" rx="1.1" ry="1.2" fill="#148014" filter="url(#f5)" opacity="0.6"/><ellipse cx="399.7" cy="239.9" rx="1.6" ry="1.7" fill="#148014" filter="url(#f5)" opacity="0.6"/><ellipse cx="403.2" cy="239.7" rx="1.7" ry="1.3" fill="#30c030" filter="url(#f5)" opacity="0.6"/><ellipse cx="436.2" cy="266.1" rx="1.4" ry="2.1" fill="#30c030" filter="url(#f5)" opacity="0.6"/><ellipse cx="433.1" cy="263.7" rx="2.2" ry="1.7" fill="#2ab82a" filter="url(#f5)" opacity="0.6"/><ellipse cx="396.2" cy="234.7" rx="1.7" ry="1.4" fill="#2ab82a" filter="url(#f5)" opacity="0.6"/><ellipse cx="420.3" cy="258.9" rx="1.5" ry="1.7" fill="#0e600e" filter="url(#f5)" opacity="0.6"/><ellipse cx="411.2" cy="245.7" rx="1.2" ry="1.7" fill="#0e600e" filter="url(#f5)" opacity="0.6"/><ellipse cx="421.6" cy="262.2" rx="1.4" ry="2.1" fill="#30c030" filter="url(#f5)" opacity="0.6"/><ellipse cx="381" cy="227.4" rx="1.4" ry="2.1" fill="#30c030" filter="url(#f5)" opacity="0.6"/><ellipse cx="409.9" cy="243.4" rx="1.5" ry="2.2" fill="#0e600e" filter="url(#f5)" opacity="0.6"/><ellipse cx="415.6" cy="256.3" rx="2.2" ry="1.5" fill="#0e600e" filter="url(#f5)" opacity="0.6"/><ellipse cx="439.3" cy="267.8" rx="1.9" ry="1.4" fill="#2ab82a" filter="url(#f5)" opacity="0.6"/><ellipse cx="394.7" cy="235.4" rx="1.4" ry="2.2" fill="#30c030" filter="url(#f5)" opacity="0.6"/><ellipse cx="409.3" cy="245.4" rx="1.8" ry="2.2" fill="#30c030" filter="url(#f5)" opacity="0.6"/><ellipse cx="399.8" cy="244.6" rx="1.9" ry="2" fill="#30c030" filter="url(#f5)" opacity="0.6"/><ellipse cx="381.4" cy="227.3" rx="1.9" ry="1.3" fill="#0e600e" filter="url(#f5)" opacity="0.6"/><ellipse cx="397.2" cy="238.7" rx="1.9" ry="1.3" fill="#148014" filter="url(#f5)" opacity="0.6"/><ellipse cx="413.7" cy="253.1" rx="1" ry="1.2" fill="#30c030" filter="url(#f5)" opacity="0.6"/><ellipse cx="398.4" cy="239.7" rx="1.7" ry="1.9" fill="#2ab82a" filter="url(#f5)" opacity="0.6"/><ellipse cx="410" cy="210" rx="11.5" ry="15" fill="#e01608" filter="url(#f4)"/><ellipse cx="409" cy="199" rx="13" ry="5.5" fill="#e01608" filter="url(#f4)" opacity="0.9"/><ellipse cx="409" cy="221" rx="9" ry="6" fill="#c01006" filter="url(#f4)" opacity="0.9"/><ellipse cx="400" cy="236" rx="12" ry="6" fill="#700a04" filter="url(#f3)" opacity="0.8" transform="rotate(-35 400 236)"/><ellipse cx="392" cy="249" rx="5" ry="10" fill="#800c06" filter="url(#f3)" opacity="0.8" transform="rotate(-15 392 249)"/><ellipse cx="420" cy="233" rx="5" ry="4" fill="#600804" filter="url(#f3)" opacity="0.8"/><ellipse cx="406.2" cy="244.2" rx="1.3" ry="0.8" fill="#ff3010" filter="url(#f1)" opacity="0.7"/><ellipse cx="401.3" cy="241.4" rx="0.9" ry="0.8" fill="#d01008" filter="url(#f1)" opacity="0.7"/><ellipse cx="410.9" cy="254.3" rx="1.2" ry="1.1" fill="#d01008" filter="url(#f1)" opacity="0.7"/><ellipse cx="417.9" cy="196" rx="1.3" ry="1.1" fill="#ff2a10" filter="url(#f1)" opacity="0.8"/><ellipse cx="408.8" cy="235.2" rx="1.1" ry="1" fill="#ff2414" filter="url(#f1)" opacity="0.7"/><ellipse cx="402.5" cy="239.9" rx="1.2" ry="0.9" fill="#ff2414" filter="url(#f1)" opacity="0.7"/><ellipse cx="432.3" cy="203.5" rx="1.1" ry="0.8" fill="#ff4020" filter="url(#f1)" opacity="0.8"/><ellipse cx="409.4" cy="194.6" rx="0.8" ry="1.3" fill="#ff4020" filter="url(#f1)" opacity="0.8"/><ellipse cx="412.3" cy="206.4" rx="1" ry="1.1" fill="#700402" filter="url(#f1)" opacity="0.8"/><ellipse cx="407.3" cy="204.3" rx="1.4" ry="1.2" fill="#ff4020" filter="url(#f1)" opacity="0.8"/><ellipse cx="404.8" cy="202.1" rx="0.7" ry="1" fill="#ff4020" filter="url(#f1)" opacity="0.8"/><ellipse cx="399.8" cy="255.3" rx="1.2" ry="1" fill="#ff3010" filter="url(#f1)" opacity="0.7"/><ellipse cx="394.4" cy="194" rx="1.4" ry="0.7" fill="#ff3818" filter="url(#f1)" opacity="0.8"/><ellipse cx="422.1" cy="226.9" rx="0.7" ry="0.8" fill="#ff4020" filter="url(#f1)" opacity="0.8"/><ellipse cx="418.9" cy="221.4" rx="0.8" ry="0.8" fill="#700402" filter="url(#f1)" opacity="0.8"/><ellipse cx="411.1" cy="231.1" rx="0.8" ry="1.1" fill="#d01008" filter="url(#f1)" opacity="0.7"/><ellipse cx="411.1" cy="225.9" rx="1.3" ry="1.3" fill="#d01008" filter="url(#f1)" opacity="0.7"/><ellipse cx="416" cy="200.3" rx="1.2" ry="1" fill="#ff2a10" filter="url(#f1)" opacity="0.8"/><ellipse cx="417.9" cy="228.5" rx="1.4" ry="0.9" fill="#ff3010" filter="url(#f1)" opacity="0.7"/><ellipse cx="413.3" cy="229.9" rx="1.1" ry="1.4" fill="#d01008" filter="url(#f1)" opacity="0.7"/><ellipse cx="407" cy="230.6" rx="1.1" ry="0.9" fill="#ff3010" filter="url(#f1)" opacity="0.7"/><ellipse cx="415.8" cy="233.1" rx="0.9" ry="0.7" fill="#d01008" filter="url(#f1)" opacity="0.7"/><ellipse cx="392.9" cy="197" rx="1.3" ry="1.4" fill="#ff2a10" filter="url(#f1)" opacity="0.8"/><ellipse cx="394.7" cy="249.4" rx="1.3" ry="1" fill="#ff2414" filter="url(#f1)" opacity="0.7"/><ellipse cx="408.2" cy="204.3" rx="0.7" ry="1.1" fill="#ff4020" filter="url(#f1)" opacity="0.8"/><ellipse cx="388" cy="266.7" rx="1" ry="1" fill="#ff2414" filter="url(#f1)" opacity="0.7"/><ellipse cx="419.8" cy="198.3" rx="0.9" ry="1.2" fill="#ff3818" filter="url(#f1)" opacity="0.8"/><ellipse cx="388.7" cy="252" rx="1.1" ry="1.1" fill="#d01008" filter="url(#f1)" opacity="0.7"/><ellipse cx="415.7" cy="213.2" rx="0.8" ry="1.1" fill="#ff4020" filter="url(#f1)" opacity="0.8"/><ellipse cx="390.9" cy="254.5" rx="1.2" ry="1" fill="#ff3010" filter="url(#f1)" opacity="0.7"/><ellipse cx="395.8" cy="245" rx="1.1" ry="1" fill="#d01008" filter="url(#f1)" opacity="0.7"/><ellipse cx="407.6" cy="214.3" rx="0.9" ry="0.7" fill="#700402" filter="url(#f1)" opacity="0.8"/><ellipse cx="402.8" cy="216.4" rx="1.1" ry="1.2" fill="#ff2a10" filter="url(#f1)" opacity="0.8"/><ellipse cx="416.9" cy="202" rx="1.2" ry="0.8" fill="#700402" filter="url(#f1)" opacity="0.8"/><ellipse cx="406.8" cy="220.6" rx="1.3" ry="1" fill="#ff2a10" filter="url(#f1)" opacity="0.8"/><ellipse cx="412.3" cy="240.6" rx="1.2" ry="1.4" fill="#ff2414" filter="url(#f1)" opacity="0.7"/><ellipse cx="413.5" cy="203.1" rx="1.3" ry="1" fill="#ff2a10" filter="url(#f1)" opacity="0.8"/><ellipse cx="402.6" cy="248.9" rx="1" ry="0.8" fill="#ff3010" filter="url(#f1)" opacity="0.7"/><ellipse cx="397.8" cy="222.8" rx="1.2" ry="0.9" fill="#ff4020" filter="url(#f1)" opacity="0.8"/><ellipse cx="405" cy="215.2" rx="1" ry="0.7" fill="#700402" filter="url(#f1)" opacity="0.8"/><ellipse cx="405.7" cy="234.8" rx="0.8" ry="0.8" fill="#ff3010" filter="url(#f1)" opacity="0.7"/><ellipse cx="400" cy="248.2" rx="0.8" ry="1" fill="#ff2414" filter="url(#f1)" opacity="0.7"/><ellipse cx="411.9" cy="194.4" rx="1.1" ry="0.7" fill="#700402" filter="url(#f1)" opacity="0.8"/><ellipse cx="411.4" cy="225.2" rx="1" ry="1.3" fill="#ff2a10" filter="url(#f1)" opacity="0.8"/><ellipse cx="409.3" cy="234.2" rx="1" ry="0.8" fill="#ff2414" filter="url(#f1)" opacity="0.7"/><ellipse cx="414.5" cy="219.7" rx="1.3" ry="1.4" fill="#ff3010" filter="url(#f1)" opacity="0.7"/><ellipse cx="396.2" cy="251.5" rx="1.3" ry="0.8" fill="#ff3010" filter="url(#f1)" opacity="0.7"/><ellipse cx="420" cy="206.9" rx="1.4" ry="1.1" fill="#ff4020" filter="url(#f1)" opacity="0.8"/><ellipse cx="416.7" cy="233" rx="1.1" ry="0.7" fill="#d01008" filter="url(#f1)" opacity="0.7"/><ellipse cx="405.4" cy="224.4" rx="1.3" ry="0.7" fill="#ff2a10" filter="url(#f1)" opacity="0.8"/><ellipse cx="414.7" cy="228" rx="1" ry="1.4" fill="#ff2414" filter="url(#f1)" opacity="0.7"/><ellipse cx="410" cy="242.8" rx="1.1" ry="1.2" fill="#d01008" filter="url(#f1)" opacity="0.7"/><ellipse cx="400" cy="234.7" rx="1.1" ry="1.1" fill="#ff3010" filter="url(#f1)" opacity="0.7"/><ellipse cx="397.8" cy="244.8" rx="0.8" ry="1.3" fill="#ff3010" filter="url(#f1)" opacity="0.7"/><ellipse cx="406.8" cy="242.5" rx="0.8" ry="0.7" fill="#ff3010" filter="url(#f1)" opacity="0.7"/><ellipse cx="408.1" cy="211.8" rx="1.1" ry="1" fill="#ff4020" filter="url(#f1)" opacity="0.8"/><ellipse cx="393.5" cy="246.7" rx="1.4" ry="1" fill="#ff2414" filter="url(#f1)" opacity="0.7"/><ellipse cx="390.9" cy="257.1" rx="0.8" ry="1" fill="#d01008" filter="url(#f1)" opacity="0.7"/><ellipse cx="386.7" cy="259.7" rx="1" ry="0.7" fill="#ff2414" filter="url(#f1)" opacity="0.7"/><ellipse cx="404.7" cy="195.2" rx="0.9" ry="1.2" fill="#ff2a10" filter="url(#f1)" opacity="0.8"/><ellipse cx="392.9" cy="205.7" rx="0.8" ry="1.2" fill="#700402" filter="url(#f1)" opacity="0.8"/><ellipse cx="405.1" cy="200.5" rx="0.7" ry="1.1" fill="#700402" filter="url(#f1)" opacity="0.8"/><ellipse cx="399.3" cy="240.6" rx="1.1" ry="1.1" fill="#ff3010" filter="url(#f1)" opacity="0.7"/><ellipse cx="397.3" cy="250.1" rx="1.1" ry="0.9" fill="#ff3010" filter="url(#f1)" opacity="0.7"/><ellipse cx="406.3" cy="213.9" rx="0.9" ry="1.4" fill="#ff2a10" filter="url(#f1)" opacity="0.8"/><ellipse cx="414.5" cy="236.5" rx="1" ry="1" fill="#d01008" filter="url(#f1)" opacity="0.7"/><ellipse cx="400.8" cy="243.1" rx="1.2" ry="0.7" fill="#ff3010" filter="url(#f1)" opacity="0.7"/><ellipse cx="404.1" cy="226" rx="1.2" ry="1.1" fill="#ff4020" filter="url(#f1)" opacity="0.8"/><ellipse cx="397" cy="227" rx="1.3" ry="1" fill="#ff2a10" filter="url(#f1)" opacity="0.8"/><ellipse cx="410.7" cy="223.9" rx="0.8" ry="0.8" fill="#700402" filter="url(#f1)" opacity="0.8"/><ellipse cx="401.1" cy="221.7" rx="1.3" ry="0.8" fill="#ff3818" filter="url(#f1)" opacity="0.8"/><ellipse cx="416.9" cy="219.2" rx="1" ry="1" fill="#ff3818" filter="url(#f1)" opacity="0.8"/><ellipse cx="407.8" cy="200.9" rx="0.7" ry="1.2" fill="#ff3818" filter="url(#f1)" opacity="0.8"/><ellipse cx="404.7" cy="233.8" rx="1.3" ry="1.1" fill="#d01008" filter="url(#f1)" opacity="0.7"/><ellipse cx="411.5" cy="196.8" rx="1.1" ry="0.8" fill="#700402" filter="url(#f1)" opacity="0.8"/><ellipse cx="403.5" cy="238.2" rx="1.2" ry="1.2" fill="#ff2414" filter="url(#f1)" opacity="0.7"/><ellipse cx="401.8" cy="247" rx="1" ry="1" fill="#ff3010" filter="url(#f1)" opacity="0.7"/><ellipse cx="401.9" cy="200.8" rx="0.7" ry="0.9" fill="#ff2a10" filter="url(#f1)" opacity="0.8"/><ellipse cx="413.3" cy="229.9" rx="0.7" ry="0.9" fill="#ff3010" filter="url(#f1)" opacity="0.7"/><ellipse cx="410.1" cy="240.3" rx="1.1" ry="1" fill="#ff2414" filter="url(#f1)" opacity="0.7"/><ellipse cx="396.2" cy="242.9" rx="0.7" ry="1.1" fill="#ff3010" filter="url(#f1)" opacity="0.7"/><ellipse cx="409" cy="235.5" rx="1.2" ry="0.7" fill="#ff2414" filter="url(#f1)" opacity="0.7"/><ellipse cx="409" cy="211.8" rx="1.4" ry="1.1" fill="#700402" filter="url(#f1)" opacity="0.8"/><ellipse cx="403.4" cy="249.8" rx="1.2" ry="1.4" fill="#ff3010" filter="url(#f1)" opacity="0.7"/><ellipse cx="407.6" cy="225" rx="1" ry="0.8" fill="#700402" filter="url(#f1)" opacity="0.8"/><ellipse cx="410.9" cy="251.7" rx="0.9" ry="1" fill="#d01008" filter="url(#f1)" opacity="0.7"/><ellipse cx="402.7" cy="202.9" rx="1.2" ry="1.2" fill="#ff3818" filter="url(#f1)" opacity="0.8"/><ellipse cx="408.6" cy="219.5" rx="1.1" ry="1" fill="#ff4020" filter="url(#f1)" opacity="0.8"/><ellipse cx="414.4" cy="230.7" rx="1.4" ry="1.4" fill="#ff3010" filter="url(#f1)" opacity="0.7"/><ellipse cx="415.7" cy="209.8" rx="0.7" ry="0.8" fill="#ff2a10" filter="url(#f1)" opacity="0.8"/><ellipse cx="387.8" cy="265.8" rx="1.1" ry="0.8" fill="#ff2414" filter="url(#f1)" opacity="0.7"/><ellipse cx="414.3" cy="242.7" rx="0.8" ry="1" fill="#ff3010" filter="url(#f1)" opacity="0.7"/><ellipse cx="412" cy="207.8" rx="1.1" ry="1.2" fill="#ff3818" filter="url(#f1)" opacity="0.8"/><ellipse cx="409.5" cy="198.5" rx="1.2" ry="0.9" fill="#ff3818" filter="url(#f1)" opacity="0.8"/><ellipse cx="398.1" cy="223.5" rx="0.9" ry="1.1" fill="#ff3818" filter="url(#f1)" opacity="0.8"/><ellipse cx="398.5" cy="254.6" rx="0.8" ry="0.9" fill="#ff2414" filter="url(#f1)" opacity="0.7"/><ellipse cx="391.6" cy="259" rx="0.7" ry="0.9" fill="#ff2414" filter="url(#f1)" opacity="0.7"/><ellipse cx="414.5" cy="203.2" rx="1.3" ry="0.8" fill="#ff4020" filter="url(#f1)" opacity="0.8"/><ellipse cx="411.1" cy="226.4" rx="1" ry="0.8" fill="#700402" filter="url(#f1)" opacity="0.8"/><ellipse cx="409.6" cy="196.5" rx="1" ry="1.3" fill="#ff4020" filter="url(#f1)" opacity="0.8"/><ellipse cx="385.4" cy="248" rx="1.3" ry="1" fill="#d01008" filter="url(#f1)" opacity="0.7"/><ellipse cx="391.2" cy="260.3" rx="1.3" ry="0.8" fill="#ff3010" filter="url(#f1)" opacity="0.7"/><ellipse cx="406.2" cy="243.6" rx="0.8" ry="1.1" fill="#ff3010" filter="url(#f1)" opacity="0.7"/><ellipse cx="398.5" cy="249" rx="0.9" ry="1.3" fill="#ff2414" filter="url(#f1)" opacity="0.7"/><ellipse cx="405.4" cy="244.6" rx="0.9" ry="0.8" fill="#d01008" filter="url(#f1)" opacity="0.7"/><ellipse cx="410.4" cy="218" rx="1.3" ry="0.9" fill="#ff3818" filter="url(#f1)" opacity="0.8"/><ellipse cx="398.4" cy="216.7" rx="1" ry="1.3" fill="#ff3818" filter="url(#f1)" opacity="0.8"/><ellipse cx="402.1" cy="204.5" rx="1.4" ry="1.2" fill="#700402" filter="url(#f1)" opacity="0.8"/><ellipse cx="416" cy="227.4" rx="1" ry="1" fill="#ff3010" filter="url(#f1)" opacity="0.7"/><ellipse cx="399.3" cy="211.8" rx="0.8" ry="1.2" fill="#ff2a10" filter="url(#f1)" opacity="0.8"/><ellipse cx="406.1" cy="240.5" rx="0.8" ry="0.9" fill="#ff3010" filter="url(#f1)" opacity="0.7"/><ellipse cx="411.1" cy="221.8" rx="0.7" ry="1.1" fill="#700402" filter="url(#f1)" opacity="0.8"/><ellipse cx="422.6" cy="231.4" rx="0.8" ry="1.1" fill="#d01008" filter="url(#f1)" opacity="0.7"/><ellipse cx="409.8" cy="202.1" rx="1" ry="1.3" fill="#ff2a10" filter="url(#f1)" opacity="0.8"/><ellipse cx="400.6" cy="209.1" rx="0.9" ry="1.4" fill="#ff3818" filter="url(#f1)" opacity="0.8"/><ellipse cx="395.4" cy="242.3" rx="1.1" ry="0.7" fill="#ff3010" filter="url(#f1)" opacity="0.7"/><ellipse cx="388.2" cy="262.7" rx="1.3" ry="1.3" fill="#d01008" filter="url(#f1)" opacity="0.7"/><ellipse cx="391" cy="248.4" rx="1" ry="1" fill="#ff2414" filter="url(#f1)" opacity="0.7"/><ellipse cx="408.9" cy="206.4" rx="0.9" ry="1" fill="#ff2a10" filter="url(#f1)" opacity="0.8"/><ellipse cx="394.5" cy="238.8" rx="0.8" ry="1.2" fill="#ff3010" filter="url(#f1)" opacity="0.7"/><ellipse cx="408.9" cy="235.9" rx="1" ry="1.3" fill="#ff3010" filter="url(#f1)" opacity="0.7"/><ellipse cx="412.7" cy="200.5" rx="0.9" ry="0.9" fill="#ff3818" filter="url(#f1)" opacity="0.8"/><ellipse cx="400.7" cy="250.1" rx="1" ry="1.3" fill="#d01008" filter="url(#f1)" opacity="0.7"/><ellipse cx="405.1" cy="247" rx="1" ry="1" fill="#d01008" filter="url(#f1)" opacity="0.7"/><ellipse cx="398.5" cy="248.3" rx="1" ry="0.9" fill="#ff2414" filter="url(#f1)" opacity="0.7"/><ellipse cx="415.3" cy="220.2" rx="1.3" ry="0.7" fill="#ff3818" filter="url(#f1)" opacity="0.8"/><ellipse cx="378.2" cy="265" rx="1.3" ry="1.2" fill="#d01008" filter="url(#f1)" opacity="0.7"/><ellipse cx="405.6" cy="232.9" rx="1.3" ry="1.3" fill="#d01008" filter="url(#f1)" opacity="0.7"/><ellipse cx="414.8" cy="218.5" rx="1.1" ry="0.7" fill="#ff3818" filter="url(#f1)" opacity="0.8"/><ellipse cx="415.8" cy="240.3" rx="1.3" ry="0.8" fill="#ff2414" filter="url(#f1)" opacity="0.7"/><ellipse cx="409.4" cy="209.8" rx="0.8" ry="1.2" fill="#700402" filter="url(#f1)" opacity="0.8"/><ellipse cx="400.6" cy="246.8" rx="1.3" ry="0.8" fill="#ff2414" filter="url(#f1)" opacity="0.7"/><ellipse cx="412.1" cy="228.2" rx="1.4" ry="1.4" fill="#ff2414" filter="url(#f1)" opacity="0.7"/><ellipse cx="407.9" cy="207.4" rx="1.4" ry="1.2" fill="#ff3818" filter="url(#f1)" opacity="0.8"/><ellipse cx="413.2" cy="216" rx="1.2" ry="1.2" fill="#700402" filter="url(#f1)" opacity="0.8"/><ellipse cx="411.6" cy="208.7" rx="1.2" ry="1" fill="#700402" filter="url(#f1)" opacity="0.8"/><ellipse cx="418.5" cy="222.3" rx="1.3" ry="0.8" fill="#ff2a10" filter="url(#f1)" opacity="0.8"/><ellipse cx="395.5" cy="260.6" rx="1.1" ry="0.8" fill="#d01008" filter="url(#f1)" opacity="0.7"/><ellipse cx="393.9" cy="206.4" rx="0.9" ry="1.4" fill="#ff4020" filter="url(#f1)" opacity="0.8"/><ellipse cx="391.7" cy="259" rx="0.8" ry="1.1" fill="#ff2414" filter="url(#f1)" opacity="0.7"/><ellipse cx="407.2" cy="200.4" rx="1.3" ry="1.1" fill="#ff4020" filter="url(#f1)" opacity="0.8"/><ellipse cx="407" cy="201.5" rx="1.4" ry="1" fill="#ff2a10" filter="url(#f1)" opacity="0.8"/><ellipse cx="412.8" cy="229.8" rx="1.2" ry="1.2" fill="#ff2414" filter="url(#f1)" opacity="0.7"/><ellipse cx="403.9" cy="243.3" rx="1.2" ry="1.1" fill="#ff2414" filter="url(#f1)" opacity="0.7"/><ellipse cx="411.2" cy="226.5" rx="0.9" ry="0.8" fill="#ff4020" filter="url(#f1)" opacity="0.8"/><ellipse cx="405.3" cy="208.6" rx="0.8" ry="0.9" fill="#700402" filter="url(#f1)" opacity="0.8"/><ellipse cx="418.2" cy="202.4" rx="1.1" ry="0.9" fill="#ff3818" filter="url(#f1)" opacity="0.8"/><ellipse cx="418.5" cy="227.7" rx="1.4" ry="1.2" fill="#ff3010" filter="url(#f1)" opacity="0.7"/><ellipse cx="386.7" cy="252.3" rx="0.8" ry="1" fill="#ff2414" filter="url(#f1)" opacity="0.7"/><ellipse cx="411.6" cy="205" rx="1.4" ry="1" fill="#ff4020" filter="url(#f1)" opacity="0.8"/><ellipse cx="416.9" cy="229.4" rx="1.1" ry="1.1" fill="#ff3010" filter="url(#f1)" opacity="0.7"/><ellipse cx="423.2" cy="228.3" rx="1.1" ry="0.8" fill="#d01008" filter="url(#f1)" opacity="0.7"/><ellipse cx="412.3" cy="234.2" rx="1" ry="0.8" fill="#ff3010" filter="url(#f1)" opacity="0.7"/><ellipse cx="388.8" cy="257" rx="0.8" ry="1.2" fill="#ff3010" filter="url(#f1)" opacity="0.7"/><ellipse cx="385.4" cy="255.7" rx="0.8" ry="1" fill="#ff2414" filter="url(#f1)" opacity="0.7"/><ellipse cx="406.8" cy="207.4" rx="1.1" ry="0.9" fill="#ff3818" filter="url(#f1)" opacity="0.8"/><ellipse cx="407.6" cy="236.9" rx="1.3" ry="1" fill="#ff3010" filter="url(#f1)" opacity="0.7"/><ellipse cx="413.8" cy="224.1" rx="1.1" ry="1" fill="#ff3010" filter="url(#f1)" opacity="0.7"/><ellipse cx="421.4" cy="223.3" rx="1.3" ry="1.3" fill="#700402" filter="url(#f1)" opacity="0.8"/><ellipse cx="402.3" cy="223.9" rx="1.1" ry="1" fill="#ff3818" filter="url(#f1)" opacity="0.8"/><ellipse cx="411" cy="243.2" rx="1.2" ry="1.1" fill="#d01008" filter="url(#f1)" opacity="0.7"/><ellipse cx="411.6" cy="235.3" rx="1.3" ry="0.9" fill="#ff2414" filter="url(#f1)" opacity="0.7"/><ellipse cx="387.8" cy="260.1" rx="1.1" ry="1.2" fill="#ff2414" filter="url(#f1)" opacity="0.7"/><ellipse cx="392" cy="264.9" rx="1" ry="1.1" fill="#ff3010" filter="url(#f1)" opacity="0.7"/><ellipse cx="413" cy="228.8" rx="1.3" ry="0.8" fill="#ff2414" filter="url(#f1)" opacity="0.7"/><ellipse cx="410.1" cy="220.2" rx="0.9" ry="1.2" fill="#ff2414" filter="url(#f1)" opacity="0.7"/><ellipse cx="406.3" cy="199.7" rx="1.3" ry="1.3" fill="#700402" filter="url(#f1)" opacity="0.8"/><ellipse cx="404.6" cy="195.5" rx="1" ry="0.9" fill="#ff4020" filter="url(#f1)" opacity="0.8"/><ellipse cx="416.8" cy="198.7" rx="1.3" ry="0.8" fill="#700402" filter="url(#f1)" opacity="0.8"/><ellipse cx="401.3" cy="252.6" rx="1.3" ry="0.7" fill="#d01008" filter="url(#f1)" opacity="0.7"/><ellipse cx="412.5" cy="183" rx="13.5" ry="14" fill="#1a24b8" filter="url(#f4)"/><circle cx="412.5" cy="184" r="8.5" fill="#1e32dc" filter="url(#f3)" opacity="0.7"/><ellipse cx="423" cy="255" rx="12.6" ry="12" fill="#1a22b0" filter="url(#f4)"/><ellipse cx="386" cy="163" rx="10" ry="6" fill="#1a24b0" filter="url(#f4)"/><ellipse cx="441" cy="165" rx="11" ry="13" fill="#1a22a8" filter="url(#f4)"/><ellipse cx="389" cy="290" rx="13" ry="4.5" fill="#1420a8" filter="url(#f4)" opacity="0.9"/><line x1="380.3" y1="291.4" x2="405.3" y2="291.4" stroke="#fff" stroke-width="1.7"/></g><g clip-path="url(#c7)"><rect x="450" y="163" width="69" height="131.5" fill="#5e5e5e"/><ellipse cx="456.2" cy="288" rx="4" ry="2.3" fill="#7a7a7a" filter="url(#f4)" opacity="0.7"/><ellipse cx="455.5" cy="187.2" rx="2.4" ry="3.3" fill="#4a4a4a" filter="url(#f4)" opacity="0.7"/><ellipse cx="516.6" cy="250.1" rx="2.5" ry="2.8" fill="#5e5252" filter="url(#f4)" opacity="0.7"/><ellipse cx="472" cy="288.2" rx="3.4" ry="1.6" fill="#5e5252" filter="url(#f4)" opacity="0.7"/><ellipse cx="467.8" cy="288.8" rx="3.3" ry="2.9" fill="#5e5252" filter="url(#f4)" opacity="0.7"/><ellipse cx="507.8" cy="169.9" rx="1.7" ry="3.1" fill="#7a7a7a" filter="url(#f4)" opacity="0.7"/><ellipse cx="479.5" cy="192.8" rx="2.5" ry="2.3" fill="#7a7a7a" filter="url(#f4)" opacity="0.7"/><ellipse cx="507.2" cy="177.1" rx="2.3" ry="2.4" fill="#808080" filter="url(#f4)" opacity="0.7"/><ellipse cx="464" cy="224.5" rx="2.1" ry="2.9" fill="#7a7a7a" filter="url(#f4)" opacity="0.7"/><ellipse cx="480.4" cy="202.7" rx="3.6" ry="3.3" fill="#7a7a7a" filter="url(#f4)" opacity="0.7"/><ellipse cx="507" cy="240" rx="1.8" ry="3.5" fill="#525e52" filter="url(#f4)" opacity="0.7"/><ellipse cx="511.5" cy="196.4" rx="3.2" ry="2.2" fill="#525e52" filter="url(#f4)" opacity="0.7"/><ellipse cx="468.6" cy="174" rx="3.5" ry="2.7" fill="#808080" filter="url(#f4)" opacity="0.7"/><ellipse cx="454.7" cy="197.5" rx="1.8" ry="2.1" fill="#545454" filter="url(#f4)" opacity="0.7"/><ellipse cx="488.6" cy="225.1" rx="3.1" ry="1.6" fill="#7a7a7a" filter="url(#f4)" opacity="0.7"/><ellipse cx="466.4" cy="246.8" rx="3.6" ry="2.3" fill="#545454" filter="url(#f4)" opacity="0.7"/><ellipse cx="474.4" cy="281.6" rx="1.6" ry="3.3" fill="#4a4a4a" filter="url(#f4)" opacity="0.7"/><ellipse cx="463.8" cy="206.1" rx="2.2" ry="2.8" fill="#5e5252" filter="url(#f4)" opacity="0.7"/><ellipse cx="468.5" cy="227.4" rx="3.8" ry="2.1" fill="#525e52" filter="url(#f4)" opacity="0.7"/><ellipse cx="487.3" cy="252.5" rx="2.4" ry="3" fill="#525e52" filter="url(#f4)" opacity="0.7"/><ellipse cx="483.7" cy="255.4" rx="2.9" ry="3" fill="#4a4a4a" filter="url(#f4)" opacity="0.7"/><ellipse cx="467.6" cy="226.1" rx="3.2" ry="3.9" fill="#525e52" filter="url(#f4)" opacity="0.7"/><ellipse cx="479.2" cy="200.1" rx="3.5" ry="1.6" fill="#7a7a7a" filter="url(#f4)" opacity="0.7"/><ellipse cx="493.1" cy="224.8" rx="2.7" ry="3.9" fill="#5e5252" filter="url(#f4)" opacity="0.7"/><ellipse cx="464.1" cy="218.9" rx="2.6" ry="1.7" fill="#545454" filter="url(#f4)" opacity="0.7"/><ellipse cx="474.5" cy="235.2" rx="1.7" ry="3.6" fill="#545454" filter="url(#f4)" opacity="0.7"/><ellipse cx="459.4" cy="182.4" rx="3.4" ry="3.3" fill="#4a4a4a" filter="url(#f4)" opacity="0.7"/><ellipse cx="495.2" cy="270.8" rx="3.4" ry="3.3" fill="#545454" filter="url(#f4)" opacity="0.7"/><ellipse cx="453.4" cy="247.9" rx="2.9" ry="2.6" fill="#525e52" filter="url(#f4)" opacity="0.7"/><ellipse cx="500.7" cy="257.6" rx="2.6" ry="1.6" fill="#5e5252" filter="url(#f4)" opacity="0.7"/><ellipse cx="479.6" cy="270.6" rx="2.8" ry="3.5" fill="#808080" filter="url(#f4)" opacity="0.7"/><ellipse cx="465.5" cy="182.7" rx="3.4" ry="3.3" fill="#5e5252" filter="url(#f4)" opacity="0.7"/><ellipse cx="487.2" cy="251.5" rx="3.1" ry="2.9" fill="#5e5252" filter="url(#f4)" opacity="0.7"/><ellipse cx="454.3" cy="225.4" rx="2.3" ry="1.8" fill="#4a4a4a" filter="url(#f4)" opacity="0.7"/><ellipse cx="518.2" cy="176.9" rx="1.6" ry="3.6" fill="#5e5252" filter="url(#f4)" opacity="0.7"/><ellipse cx="498.2" cy="172.5" rx="3.7" ry="4" fill="#7a7a7a" filter="url(#f4)" opacity="0.7"/><ellipse cx="456.4" cy="283.4" rx="2.1" ry="1.7" fill="#808080" filter="url(#f4)" opacity="0.7"/><ellipse cx="496.7" cy="171.2" rx="1.9" ry="2.7" fill="#5e5252" filter="url(#f4)" opacity="0.7"/><ellipse cx="452.3" cy="268.5" rx="1.8" ry="1.7" fill="#525e52" filter="url(#f4)" opacity="0.7"/><ellipse cx="488.9" cy="270.6" rx="1.8" ry="2.3" fill="#5e5252" filter="url(#f4)" opacity="0.7"/><ellipse cx="506.4" cy="201.4" rx="2.5" ry="1.6" fill="#5e5252" filter="url(#f4)" opacity="0.7"/><ellipse cx="462.9" cy="291.8" rx="3.3" ry="2.7" fill="#808080" filter="url(#f4)" opacity="0.7"/><ellipse cx="503.1" cy="291.2" rx="2.7" ry="2.8" fill="#525e52" filter="url(#f4)" opacity="0.7"/><ellipse cx="473" cy="251.4" rx="1.6" ry="3.5" fill="#525e52" filter="url(#f4)" opacity="0.7"/><ellipse cx="508.8" cy="249.6" rx="2.3" ry="3" fill="#808080" filter="url(#f4)" opacity="0.7"/><ellipse cx="468.2" cy="225.9" rx="3.2" ry="3.6" fill="#4a4a4a" filter="url(#f4)" opacity="0.7"/><ellipse cx="465.9" cy="257.9" rx="1.8" ry="1.5" fill="#4a4a4a" filter="url(#f4)" opacity="0.7"/><ellipse cx="476.4" cy="236" rx="3.1" ry="1.8" fill="#7a7a7a" filter="url(#f4)" opacity="0.7"/><ellipse cx="505" cy="262.9" rx="2.8" ry="3.2" fill="#4a4a4a" filter="url(#f4)" opacity="0.7"/><ellipse cx="453.8" cy="212.2" rx="3" ry="2.7" fill="#808080" filter="url(#f4)" opacity="0.7"/><ellipse cx="472.7" cy="194.6" rx="2" ry="2.7" fill="#5e5252" filter="url(#f4)" opacity="0.7"/><ellipse cx="518.6" cy="206.2" rx="2.9" ry="2.4" fill="#4a4a4a" filter="url(#f4)" opacity="0.7"/><ellipse cx="516.6" cy="230.1" rx="2.1" ry="3.9" fill="#5e5252" filter="url(#f4)" opacity="0.7"/><ellipse cx="471.6" cy="291.5" rx="2.5" ry="1.7" fill="#4a4a4a" filter="url(#f4)" opacity="0.7"/><ellipse cx="492.8" cy="240" rx="3.4" ry="2.2" fill="#525e52" filter="url(#f4)" opacity="0.7"/><ellipse cx="516.1" cy="201.7" rx="1.7" ry="1.6" fill="#7a7a7a" filter="url(#f4)" opacity="0.7"/><ellipse cx="481" cy="180.5" rx="3.6" ry="1.8" fill="#545454" filter="url(#f4)" opacity="0.7"/><ellipse cx="474.4" cy="202" rx="3.1" ry="2.5" fill="#808080" filter="url(#f4)" opacity="0.7"/><ellipse cx="517.9" cy="263.7" rx="2.2" ry="3.4" fill="#545454" filter="url(#f4)" opacity="0.7"/><ellipse cx="479.2" cy="196.4" rx="3.6" ry="3.8" fill="#4a4a4a" filter="url(#f4)" opacity="0.7"/><ellipse cx="470.6" cy="288.9" rx="3" ry="2.8" fill="#525e52" filter="url(#f4)" opacity="0.7"/><ellipse cx="499.8" cy="276.9" rx="3.2" ry="3.1" fill="#7a7a7a" filter="url(#f4)" opacity="0.7"/><ellipse cx="470.5" cy="208.1" rx="3.4" ry="2.4" fill="#7a7a7a" filter="url(#f4)" opacity="0.7"/><ellipse cx="486.1" cy="278.8" rx="3.4" ry="3.8" fill="#4a4a4a" filter="url(#f4)" opacity="0.7"/><ellipse cx="478.3" cy="196" rx="3.3" ry="2.3" fill="#5e5252" filter="url(#f4)" opacity="0.7"/><ellipse cx="490.8" cy="218.4" rx="2.4" ry="2.6" fill="#808080" filter="url(#f4)" opacity="0.7"/><ellipse cx="491.4" cy="212.5" rx="3.3" ry="2.3" fill="#5e5252" filter="url(#f4)" opacity="0.7"/><ellipse cx="497" cy="191.5" rx="1.6" ry="3.6" fill="#808080" filter="url(#f4)" opacity="0.7"/><ellipse cx="481.3" cy="226" rx="1.6" ry="2.1" fill="#5e5252" filter="url(#f4)" opacity="0.7"/><ellipse cx="475.4" cy="289.1" rx="3.1" ry="1.9" fill="#5e5252" filter="url(#f4)" opacity="0.7"/><ellipse cx="497.9" cy="267" rx="3.4" ry="2.3" fill="#525e52" filter="url(#f4)" opacity="0.7"/><ellipse cx="497.5" cy="180.4" rx="3.4" ry="3.6" fill="#5e5252" filter="url(#f4)" opacity="0.7"/><ellipse cx="495.5" cy="190.3" rx="2.4" ry="1.7" fill="#808080" filter="url(#f4)" opacity="0.7"/><ellipse cx="490.4" cy="195.6" rx="2.9" ry="2.3" fill="#545454" filter="url(#f4)" opacity="0.7"/><ellipse cx="466.7" cy="265.2" rx="3.3" ry="2.1" fill="#545454" filter="url(#f4)" opacity="0.7"/><ellipse cx="493.1" cy="235.3" rx="3.5" ry="2.4" fill="#7a7a7a" filter="url(#f4)" opacity="0.7"/><ellipse cx="506.5" cy="247" rx="2.2" ry="3.7" fill="#808080" filter="url(#f4)" opacity="0.7"/><ellipse cx="469.1" cy="279.6" rx="2.5" ry="3.9" fill="#525e52" filter="url(#f4)" opacity="0.7"/><ellipse cx="497.7" cy="177.3" rx="3" ry="2.7" fill="#545454" filter="url(#f4)" opacity="0.7"/><ellipse cx="452.2" cy="201.1" rx="2.5" ry="2.8" fill="#5e5252" filter="url(#f4)" opacity="0.7"/><ellipse cx="455.6" cy="212.6" rx="2.3" ry="3.7" fill="#525e52" filter="url(#f4)" opacity="0.7"/><ellipse cx="507.4" cy="196.9" rx="1.9" ry="2.9" fill="#4a4a4a" filter="url(#f4)" opacity="0.7"/><ellipse cx="460.7" cy="199.4" rx="1.8" ry="2.5" fill="#7a7a7a" filter="url(#f4)" opacity="0.7"/><ellipse cx="464.7" cy="254.1" rx="3" ry="2.1" fill="#808080" filter="url(#f4)" opacity="0.7"/><ellipse cx="503.4" cy="243.2" rx="1.6" ry="2.2" fill="#525e52" filter="url(#f4)" opacity="0.7"/><ellipse cx="490.1" cy="242.3" rx="2.7" ry="2.7" fill="#545454" filter="url(#f4)" opacity="0.7"/><ellipse cx="483.7" cy="177.4" rx="2.6" ry="3.5" fill="#7a7a7a" filter="url(#f4)" opacity="0.7"/><ellipse cx="484.3" cy="272" rx="3.9" ry="3.5" fill="#7a7a7a" filter="url(#f4)" opacity="0.7"/><ellipse cx="516.6" cy="166.3" rx="3" ry="2.9" fill="#525e52" filter="url(#f4)" opacity="0.7"/><ellipse cx="513.2" cy="199.1" rx="3.3" ry="2" fill="#7a7a7a" filter="url(#f4)" opacity="0.7"/><ellipse cx="508.1" cy="174.8" rx="3" ry="2" fill="#5e5252" filter="url(#f4)" opacity="0.7"/><ellipse cx="517.6" cy="208.9" rx="2.7" ry="2.3" fill="#4a4a4a" filter="url(#f4)" opacity="0.7"/><ellipse cx="505.6" cy="219.5" rx="1.9" ry="1.6" fill="#808080" filter="url(#f4)" opacity="0.7"/><ellipse cx="502" cy="291.8" rx="3.4" ry="2.9" fill="#4a4a4a" filter="url(#f4)" opacity="0.7"/><ellipse cx="470.1" cy="234.6" rx="3.5" ry="3.6" fill="#808080" filter="url(#f4)" opacity="0.7"/><ellipse cx="512.1" cy="220" rx="2.4" ry="3.2" fill="#525e52" filter="url(#f4)" opacity="0.7"/><ellipse cx="455.8" cy="227.9" rx="2.6" ry="1.8" fill="#808080" filter="url(#f4)" opacity="0.7"/><ellipse cx="504.1" cy="274.6" rx="3.3" ry="3.6" fill="#4a4a4a" filter="url(#f4)" opacity="0.7"/><ellipse cx="476.2" cy="255.8" rx="3.4" ry="3.3" fill="#545454" filter="url(#f4)" opacity="0.7"/><ellipse cx="459.6" cy="281.6" rx="2.4" ry="2.8" fill="#545454" filter="url(#f4)" opacity="0.7"/><ellipse cx="499.3" cy="189.2" rx="1.9" ry="2.6" fill="#545454" filter="url(#f4)" opacity="0.7"/><ellipse cx="472.4" cy="206.1" rx="3.7" ry="3.4" fill="#5e5252" filter="url(#f4)" opacity="0.7"/><ellipse cx="463.9" cy="163.5" rx="1.6" ry="2.9" fill="#808080" filter="url(#f4)" opacity="0.7"/><ellipse cx="473.9" cy="272.3" rx="2.8" ry="3.6" fill="#545454" filter="url(#f4)" opacity="0.7"/><ellipse cx="467.8" cy="195.1" rx="2.4" ry="1.5" fill="#4a4a4a" filter="url(#f4)" opacity="0.7"/><ellipse cx="502.7" cy="262.3" rx="3.8" ry="2.9" fill="#4a4a4a" filter="url(#f4)" opacity="0.7"/><ellipse cx="474.9" cy="276.3" rx="2.5" ry="3.3" fill="#7a7a7a" filter="url(#f4)" opacity="0.7"/><ellipse cx="481.7" cy="166.7" rx="3.5" ry="3.8" fill="#4a4a4a" filter="url(#f4)" opacity="0.7"/><ellipse cx="454.2" cy="286" rx="2" ry="2.3" fill="#5e5252" filter="url(#f4)" opacity="0.7"/><ellipse cx="479.7" cy="258.6" rx="1.8" ry="3.6" fill="#5e5252" filter="url(#f4)" opacity="0.7"/><ellipse cx="472.4" cy="265.8" rx="2.9" ry="3.4" fill="#5e5252" filter="url(#f4)" opacity="0.7"/><ellipse cx="497" cy="257.7" rx="1.9" ry="3.1" fill="#7a7a7a" filter="url(#f4)" opacity="0.7"/><ellipse cx="463.1" cy="225.4" rx="3.9" ry="3.9" fill="#808080" filter="url(#f4)" opacity="0.7"/><ellipse cx="496.5" cy="282.1" rx="3.3" ry="3.7" fill="#7a7a7a" filter="url(#f4)" opacity="0.7"/><ellipse cx="511.1" cy="283.9" rx="3.1" ry="2.8" fill="#525e52" filter="url(#f4)" opacity="0.7"/><ellipse cx="460.8" cy="249.2" rx="3.9" ry="2" fill="#5e5252" filter="url(#f4)" opacity="0.7"/><ellipse cx="468" cy="267.2" rx="3" ry="3.7" fill="#545454" filter="url(#f4)" opacity="0.7"/><ellipse cx="498.4" cy="253.7" rx="1.8" ry="2.5" fill="#7a7a7a" filter="url(#f4)" opacity="0.7"/><ellipse cx="457.4" cy="233.2" rx="2" ry="3.6" fill="#545454" filter="url(#f4)" opacity="0.7"/><ellipse cx="479.6" cy="282.1" rx="3.9" ry="2" fill="#4a4a4a" filter="url(#f4)" opacity="0.7"/><ellipse cx="465.6" cy="212.2" rx="2.1" ry="2.6" fill="#4a4a4a" filter="url(#f4)" opacity="0.7"/><ellipse cx="491.5" cy="174.1" rx="1.7" ry="2" fill="#525e52" filter="url(#f4)" opacity="0.7"/><ellipse cx="471.1" cy="190.1" rx="3.3" ry="2.7" fill="#545454" filter="url(#f4)" opacity="0.7"/><ellipse cx="485.1" cy="272.1" rx="2.9" ry="2" fill="#5e5252" filter="url(#f4)" opacity="0.7"/><ellipse cx="512.6" cy="287.9" rx="3.7" ry="3.7" fill="#5e5252" filter="url(#f4)" opacity="0.7"/><ellipse cx="453.2" cy="211.2" rx="1.7" ry="3" fill="#808080" filter="url(#f4)" opacity="0.7"/><ellipse cx="499.7" cy="213.5" rx="1.8" ry="1.6" fill="#5e5252" filter="url(#f4)" opacity="0.7"/><ellipse cx="473.3" cy="209" rx="3.3" ry="3.6" fill="#808080" filter="url(#f4)" opacity="0.7"/><ellipse cx="489.8" cy="227.7" rx="3.8" ry="3.6" fill="#545454" filter="url(#f4)" opacity="0.7"/><ellipse cx="493.6" cy="291.3" rx="2" ry="3.4" fill="#4a4a4a" filter="url(#f4)" opacity="0.7"/><ellipse cx="466.3" cy="194.7" rx="3.6" ry="1.9" fill="#545454" filter="url(#f4)" opacity="0.7"/><ellipse cx="478.4" cy="172" rx="2.4" ry="4" fill="#808080" filter="url(#f4)" opacity="0.7"/><ellipse cx="517.8" cy="235" rx="3.5" ry="3.7" fill="#7a7a7a" filter="url(#f4)" opacity="0.7"/><ellipse cx="491.7" cy="287.7" rx="1.8" ry="2.2" fill="#808080" filter="url(#f4)" opacity="0.7"/><ellipse cx="517" cy="170" rx="2.9" ry="2.6" fill="#7a7a7a" filter="url(#f4)" opacity="0.7"/><ellipse cx="490.8" cy="228" rx="3.1" ry="3.7" fill="#525e52" filter="url(#f4)" opacity="0.7"/><ellipse cx="467.8" cy="169.4" rx="1.8" ry="3.4" fill="#7a7a7a" filter="url(#f4)" opacity="0.7"/><ellipse cx="512.9" cy="217" rx="2.7" ry="1.8" fill="#525e52" filter="url(#f4)" opacity="0.7"/><ellipse cx="466" cy="219.3" rx="2.6" ry="2.7" fill="#7a7a7a" filter="url(#f4)" opacity="0.7"/><ellipse cx="456.5" cy="294" rx="3.4" ry="3.6" fill="#545454" filter="url(#f4)" opacity="0.7"/><ellipse cx="459.6" cy="170.7" rx="3.9" ry="2.6" fill="#7a7a7a" filter="url(#f4)" opacity="0.7"/><ellipse cx="486.2" cy="170.6" rx="3.7" ry="1.8" fill="#7a7a7a" filter="url(#f4)" opacity="0.7"/><ellipse cx="464.6" cy="268.2" rx="1.7" ry="3.9" fill="#808080" filter="url(#f4)" opacity="0.7"/><ellipse cx="504.7" cy="292.4" rx="2.7" ry="2.7" fill="#7a7a7a" filter="url(#f4)" opacity="0.7"/><ellipse cx="460" cy="193.4" rx="2.9" ry="2.2" fill="#808080" filter="url(#f4)" opacity="0.7"/><ellipse cx="497.7" cy="210.9" rx="3.5" ry="3" fill="#4a4a4a" filter="url(#f4)" opacity="0.7"/><ellipse cx="491" cy="284.8" rx="3.7" ry="2.7" fill="#525e52" filter="url(#f4)" opacity="0.7"/><ellipse cx="495" cy="238.3" rx="3.2" ry="3.9" fill="#545454" filter="url(#f4)" opacity="0.7"/><ellipse cx="485.8" cy="268.1" rx="3.8" ry="2.7" fill="#545454" filter="url(#f4)" opacity="0.7"/><ellipse cx="498" cy="164.3" rx="3.8" ry="2.2" fill="#5e5252" filter="url(#f4)" opacity="0.7"/><ellipse cx="495.4" cy="288.6" rx="2.4" ry="3.1" fill="#525e52" filter="url(#f4)" opacity="0.7"/><ellipse cx="494.9" cy="250.2" rx="1.6" ry="2.7" fill="#7a7a7a" filter="url(#f4)" opacity="0.7"/><ellipse cx="462.1" cy="229.7" rx="2.7" ry="3.6" fill="#808080" filter="url(#f4)" opacity="0.7"/><ellipse cx="503.8" cy="204.7" rx="3.6" ry="2.7" fill="#808080" filter="url(#f4)" opacity="0.7"/><ellipse cx="462.1" cy="228.9" rx="1.7" ry="3.2" fill="#525e52" filter="url(#f4)" opacity="0.7"/><ellipse cx="484.7" cy="167.3" rx="3.7" ry="3.3" fill="#7a7a7a" filter="url(#f4)" opacity="0.7"/><ellipse cx="494.7" cy="168.5" rx="2" ry="1.7" fill="#525e52" filter="url(#f4)" opacity="0.7"/><ellipse cx="461.5" cy="170.2" rx="3.7" ry="2.5" fill="#808080" filter="url(#f4)" opacity="0.7"/><ellipse cx="512.6" cy="256.6" rx="1.6" ry="3.2" fill="#545454" filter="url(#f4)" opacity="0.7"/><ellipse cx="456.8" cy="269" rx="3" ry="3.6" fill="#808080" filter="url(#f4)" opacity="0.7"/><line x1="505.1" y1="205.9" x2="512.8" y2="213.1" stroke="#3a3a3a" stroke-width="1.2" filter="url(#f5)" opacity="0.7"/><line x1="457.9" y1="225.6" x2="456.3" y2="234.4" stroke="#3a3a3a" stroke-width="1.2" filter="url(#f5)" opacity="0.7"/><line x1="460" y1="245.9" x2="460" y2="256.7" stroke="#3a3a3a" stroke-width="1.2" filter="url(#f5)" opacity="0.7"/><line x1="452" y1="288.9" x2="461" y2="294.3" stroke="#3a3a3a" stroke-width="1.2" filter="url(#f5)" opacity="0.7"/><line x1="485" y1="272.9" x2="490.5" y2="276.5" stroke="#3a3a3a" stroke-width="1.2" filter="url(#f5)" opacity="0.7"/><line x1="456" y1="265.4" x2="455.4" y2="271" stroke="#3a3a3a" stroke-width="1.2" filter="url(#f5)" opacity="0.7"/><line x1="463.2" y1="173.6" x2="470.1" y2="178.6" stroke="#3a3a3a" stroke-width="1.2" filter="url(#f5)" opacity="0.7"/><line x1="480.2" y1="255.6" x2="490.6" y2="258.2" stroke="#3a3a3a" stroke-width="1.2" filter="url(#f5)" opacity="0.7"/><line x1="517.8" y1="260.3" x2="510.3" y2="268.1" stroke="#3a3a3a" stroke-width="1.2" filter="url(#f5)" opacity="0.7"/><line x1="456.5" y1="223.7" x2="466.5" y2="226.2" stroke="#3a3a3a" stroke-width="1.2" filter="url(#f5)" opacity="0.7"/><line x1="487.1" y1="177" x2="488.9" y2="187.1" stroke="#3a3a3a" stroke-width="1.2" filter="url(#f5)" opacity="0.7"/><line x1="488.1" y1="179" x2="483.7" y2="179.9" stroke="#3a3a3a" stroke-width="1.2" filter="url(#f5)" opacity="0.7"/><line x1="508.2" y1="291.1" x2="500" y2="299.2" stroke="#3a3a3a" stroke-width="1.2" filter="url(#f5)" opacity="0.7"/><line x1="486.6" y1="191.8" x2="487.5" y2="201.7" stroke="#3a3a3a" stroke-width="1.2" filter="url(#f5)" opacity="0.7"/><line x1="503" y1="213.5" x2="498.8" y2="214.3" stroke="#3a3a3a" stroke-width="1.2" filter="url(#f5)" opacity="0.7"/><line x1="484.2" y1="168.2" x2="489.4" y2="178.9" stroke="#3a3a3a" stroke-width="1.2" filter="url(#f5)" opacity="0.7"/><line x1="458.1" y1="292.6" x2="449.1" y2="295.4" stroke="#3a3a3a" stroke-width="1.2" filter="url(#f5)" opacity="0.7"/><line x1="453.9" y1="225" x2="451.2" y2="228.9" stroke="#3a3a3a" stroke-width="1.2" filter="url(#f5)" opacity="0.7"/><line x1="470.6" y1="175.1" x2="460.6" y2="180.4" stroke="#3a3a3a" stroke-width="1.2" filter="url(#f5)" opacity="0.7"/><line x1="513.7" y1="261.7" x2="512.7" y2="266.1" stroke="#3a3a3a" stroke-width="1.2" filter="url(#f5)" opacity="0.7"/><line x1="483.2" y1="263" x2="480.2" y2="265.9" stroke="#3a3a3a" stroke-width="1.2" filter="url(#f5)" opacity="0.7"/><line x1="450.6" y1="174.6" x2="445.8" y2="175.8" stroke="#3a3a3a" stroke-width="1.2" filter="url(#f5)" opacity="0.7"/><line x1="476.9" y1="225.6" x2="472.2" y2="227.4" stroke="#3a3a3a" stroke-width="1.2" filter="url(#f5)" opacity="0.7"/><line x1="468" y1="264.5" x2="473.2" y2="265.9" stroke="#3a3a3a" stroke-width="1.2" filter="url(#f5)" opacity="0.7"/><line x1="451.7" y1="289" x2="457.7" y2="294.4" stroke="#3a3a3a" stroke-width="1.2" filter="url(#f5)" opacity="0.7"/><line x1="476.2" y1="292.1" x2="470.7" y2="299" stroke="#3a3a3a" stroke-width="1.2" filter="url(#f5)" opacity="0.7"/><line x1="483.8" y1="198.2" x2="479.6" y2="200.6" stroke="#3a3a3a" stroke-width="1.2" filter="url(#f5)" opacity="0.7"/><line x1="492.9" y1="201.8" x2="497.8" y2="207.6" stroke="#3a3a3a" stroke-width="1.2" filter="url(#f5)" opacity="0.7"/><line x1="463" y1="240.8" x2="467.1" y2="241.7" stroke="#3a3a3a" stroke-width="1.2" filter="url(#f5)" opacity="0.7"/><line x1="459.8" y1="174.8" x2="452.3" y2="177.9" stroke="#3a3a3a" stroke-width="1.2" filter="url(#f5)" opacity="0.7"/><line x1="496.8" y1="265.4" x2="506.9" y2="271.2" stroke="#3a3a3a" stroke-width="1.2" filter="url(#f5)" opacity="0.7"/><line x1="476.5" y1="223.5" x2="476.9" y2="233.1" stroke="#3a3a3a" stroke-width="1.2" filter="url(#f5)" opacity="0.7"/><line x1="503" y1="188.5" x2="496.7" y2="192.3" stroke="#3a3a3a" stroke-width="1.2" filter="url(#f5)" opacity="0.7"/><line x1="467.3" y1="276.7" x2="457.3" y2="280.9" stroke="#3a3a3a" stroke-width="1.2" filter="url(#f5)" opacity="0.7"/><line x1="472.3" y1="283.2" x2="463.4" y2="290.8" stroke="#3a3a3a" stroke-width="1.2" filter="url(#f5)" opacity="0.7"/><line x1="502.1" y1="294.5" x2="502.8" y2="304.4" stroke="#3a3a3a" stroke-width="1.2" filter="url(#f5)" opacity="0.7"/><line x1="503.9" y1="232" x2="503.8" y2="239.2" stroke="#3a3a3a" stroke-width="1.2" filter="url(#f5)" opacity="0.7"/><line x1="509.9" y1="212.8" x2="504" y2="218.9" stroke="#3a3a3a" stroke-width="1.2" filter="url(#f5)" opacity="0.7"/><line x1="498.8" y1="203.7" x2="507.9" y2="206" stroke="#3a3a3a" stroke-width="1.2" filter="url(#f5)" opacity="0.7"/><line x1="460" y1="210.3" x2="456.6" y2="213.1" stroke="#3a3a3a" stroke-width="1.2" filter="url(#f5)" opacity="0.7"/><ellipse cx="452" cy="215" rx="4" ry="9" fill="none"/><ellipse cx="451" cy="215" rx="4" ry="9" fill="none" stroke="#c8c8c8" stroke-width="1.2" filter="url(#f5)"/><ellipse cx="458" cy="172" rx="9" ry="4.5" fill="#40c040" filter="url(#f3)" opacity="0.9"/><ellipse cx="479" cy="207" rx="9.5" ry="16" fill="#4a9a40" filter="url(#f3)" opacity="0.8"/><ellipse cx="479" cy="196" rx="8" ry="5" fill="#50b050" filter="url(#f3)" opacity="0.7"/><ellipse cx="481" cy="246" rx="32" ry="11.5" fill="#36d036" filter="url(#f3)" opacity="0.9" transform="rotate(30 481 246)"/><ellipse cx="497" cy="256" rx="16" ry="15" fill="#36d036" filter="url(#f3)" opacity="0.9"/><ellipse cx="468" cy="235" rx="14" ry="8" fill="#48f048" filter="url(#f3)" opacity="0.8" transform="rotate(30 468 235)"/><ellipse cx="460" cy="255" rx="8" ry="9" fill="#6a8a50" filter="url(#f3)" opacity="0.8"/><ellipse cx="487" cy="286" rx="14" ry="7" fill="#38c838" filter="url(#f3)" opacity="0.8" transform="rotate(10 487 286)"/><ellipse cx="508" cy="265" rx="8" ry="6" fill="#40e040" filter="url(#f3)" opacity="0.9" transform="rotate(30 508 265)"/><ellipse cx="489" cy="250.5" rx="1.8" ry="1.6" fill="#50e050" filter="url(#f5)" opacity="0.6"/><ellipse cx="495.9" cy="248.6" rx="1.8" ry="2.1" fill="#60f060" filter="url(#f5)" opacity="0.6"/><ellipse cx="459" cy="230.8" rx="1.1" ry="1.3" fill="#50e050" filter="url(#f5)" opacity="0.6"/><ellipse cx="495.7" cy="255.2" rx="1.3" ry="2.1" fill="#30b030" filter="url(#f5)" opacity="0.6"/><ellipse cx="500" cy="260.5" rx="1.7" ry="1.5" fill="#60f060" filter="url(#f5)" opacity="0.6"/><ellipse cx="466.8" cy="243.1" rx="1.3" ry="1.3" fill="#60f060" filter="url(#f5)" opacity="0.6"/><ellipse cx="510.8" cy="265.4" rx="1.6" ry="1.8" fill="#60f060" filter="url(#f5)" opacity="0.6"/><ellipse cx="464.5" cy="234.5" rx="1.2" ry="2.2" fill="#50e050" filter="url(#f5)" opacity="0.6"/><ellipse cx="479.2" cy="248.6" rx="1.3" ry="1.4" fill="#60f060" filter="url(#f5)" opacity="0.6"/><ellipse cx="500.4" cy="257.9" rx="1" ry="1.8" fill="#50e050" filter="url(#f5)" opacity="0.6"/><ellipse cx="471.5" cy="238.3" rx="1.8" ry="1.2" fill="#30b030" filter="url(#f5)" opacity="0.6"/><ellipse cx="486.1" cy="255.1" rx="1.1" ry="2.2" fill="#60f060" filter="url(#f5)" opacity="0.6"/><ellipse cx="456.3" cy="231.7" rx="1.7" ry="1.5" fill="#60f060" filter="url(#f5)" opacity="0.6"/><ellipse cx="469.9" cy="233" rx="1.5" ry="1.8" fill="#60f060" filter="url(#f5)" opacity="0.6"/><ellipse cx="490.8" cy="253.5" rx="2.1" ry="2.1" fill="#60f060" filter="url(#f5)" opacity="0.6"/><ellipse cx="473.5" cy="241.3" rx="2.1" ry="1.3" fill="#30b030" filter="url(#f5)" opacity="0.6"/><ellipse cx="476" cy="238.1" rx="2" ry="1" fill="#30b030" filter="url(#f5)" opacity="0.6"/><ellipse cx="504.2" cy="256.4" rx="1.3" ry="1.6" fill="#60f060" filter="url(#f5)" opacity="0.6"/><ellipse cx="476.4" cy="245.1" rx="1.7" ry="1.4" fill="#50e050" filter="url(#f5)" opacity="0.6"/><ellipse cx="474.4" cy="244.5" rx="2" ry="1.8" fill="#60f060" filter="url(#f5)" opacity="0.6"/><ellipse cx="493.4" cy="251.9" rx="1.1" ry="2.2" fill="#50e050" filter="url(#f5)" opacity="0.6"/><ellipse cx="487.6" cy="253.7" rx="1" ry="1.9" fill="#30b030" filter="url(#f5)" opacity="0.6"/><ellipse cx="473.9" cy="242" rx="1.1" ry="2.1" fill="#60f060" filter="url(#f5)" opacity="0.6"/><ellipse cx="461.2" cy="239.6" rx="1.4" ry="1.2" fill="#30b030" filter="url(#f5)" opacity="0.6"/><ellipse cx="507.5" cy="259.8" rx="1.1" ry="1.5" fill="#30b030" filter="url(#f5)" opacity="0.6"/><ellipse cx="462.6" cy="234.7" rx="1.4" ry="1.5" fill="#30b030" filter="url(#f5)" opacity="0.6"/><ellipse cx="514.9" cy="271.5" rx="2.2" ry="1.8" fill="#30b030" filter="url(#f5)" opacity="0.6"/><ellipse cx="465.9" cy="229.8" rx="1.3" ry="1.5" fill="#30b030" filter="url(#f5)" opacity="0.6"/><ellipse cx="456.6" cy="224.5" rx="1.8" ry="1.6" fill="#60f060" filter="url(#f5)" opacity="0.6"/><ellipse cx="479.9" cy="252.7" rx="1.6" ry="1.6" fill="#60f060" filter="url(#f5)" opacity="0.6"/><ellipse cx="484.1" cy="246.7" rx="1.8" ry="1.8" fill="#30b030" filter="url(#f5)" opacity="0.6"/><ellipse cx="496.8" cy="255.3" rx="1.7" ry="1.8" fill="#30b030" filter="url(#f5)" opacity="0.6"/><ellipse cx="500.2" cy="256.4" rx="1.4" ry="2.1" fill="#50e050" filter="url(#f5)" opacity="0.6"/><ellipse cx="499.1" cy="266.4" rx="2" ry="1.6" fill="#50e050" filter="url(#f5)" opacity="0.6"/><ellipse cx="496.5" cy="253.8" rx="2" ry="1.8" fill="#30b030" filter="url(#f5)" opacity="0.6"/><ellipse cx="501" cy="260.2" rx="1.3" ry="1.4" fill="#30b030" filter="url(#f5)" opacity="0.6"/><ellipse cx="500.9" cy="251.1" rx="2" ry="1.8" fill="#60f060" filter="url(#f5)" opacity="0.6"/><ellipse cx="512.4" cy="268.7" rx="1.6" ry="1.6" fill="#30b030" filter="url(#f5)" opacity="0.6"/><ellipse cx="467.8" cy="242.7" rx="1.3" ry="1.1" fill="#30b030" filter="url(#f5)" opacity="0.6"/><ellipse cx="485.9" cy="242" rx="1.2" ry="1.9" fill="#30b030" filter="url(#f5)" opacity="0.6"/><ellipse cx="485.4" cy="246.8" rx="1.7" ry="2" fill="#50e050" filter="url(#f5)" opacity="0.6"/><ellipse cx="467.2" cy="235" rx="1.2" ry="1.7" fill="#60f060" filter="url(#f5)" opacity="0.6"/><ellipse cx="491.5" cy="254.7" rx="1.8" ry="1.1" fill="#60f060" filter="url(#f5)" opacity="0.6"/><ellipse cx="485.5" cy="254.1" rx="1.2" ry="2.1" fill="#60f060" filter="url(#f5)" opacity="0.6"/><ellipse cx="464.5" cy="240.4" rx="1" ry="1.6" fill="#50e050" filter="url(#f5)" opacity="0.6"/><ellipse cx="475.2" cy="242" rx="1.1" ry="1.2" fill="#50e050" filter="url(#f5)" opacity="0.6"/><ellipse cx="492.5" cy="250.6" rx="2" ry="2" fill="#30b030" filter="url(#f5)" opacity="0.6"/><ellipse cx="494.9" cy="256.5" rx="1.4" ry="1" fill="#50e050" filter="url(#f5)" opacity="0.6"/><ellipse cx="491.9" cy="256.1" rx="2.1" ry="1.4" fill="#30b030" filter="url(#f5)" opacity="0.6"/><ellipse cx="476.5" cy="245.9" rx="1.5" ry="2" fill="#60f060" filter="url(#f5)" opacity="0.6"/><ellipse cx="489.2" cy="249.6" rx="1.5" ry="1.6" fill="#50e050" filter="url(#f5)" opacity="0.6"/><ellipse cx="467.2" cy="239.5" rx="1.7" ry="1.4" fill="#60f060" filter="url(#f5)" opacity="0.6"/><ellipse cx="505.6" cy="262.1" rx="2.1" ry="1.6" fill="#50e050" filter="url(#f5)" opacity="0.6"/><ellipse cx="472.9" cy="241.4" rx="1.5" ry="1.5" fill="#50e050" filter="url(#f5)" opacity="0.6"/><ellipse cx="465.4" cy="234.6" rx="1.5" ry="2" fill="#30b030" filter="url(#f5)" opacity="0.6"/><ellipse cx="471.5" cy="249.6" rx="1.3" ry="2.2" fill="#50e050" filter="url(#f5)" opacity="0.6"/><ellipse cx="480" cy="242.9" rx="1.6" ry="1.3" fill="#30b030" filter="url(#f5)" opacity="0.6"/><ellipse cx="482.6" cy="248.6" rx="1.8" ry="2.2" fill="#60f060" filter="url(#f5)" opacity="0.6"/><ellipse cx="470.1" cy="241.6" rx="1" ry="1.6" fill="#30b030" filter="url(#f5)" opacity="0.6"/><ellipse cx="470.5" cy="240.5" rx="1.9" ry="1.3" fill="#30b030" filter="url(#f5)" opacity="0.6"/><ellipse cx="481" cy="211" rx="12" ry="17" fill="#ee6642" filter="url(#f4)"/><ellipse cx="480" cy="199" rx="12" ry="5" fill="#f07048" filter="url(#f4)" opacity="0.9"/><ellipse cx="502" cy="227" rx="6" ry="3" fill="#d07060" filter="url(#f4)" opacity="0.7" transform="rotate(30 502 227)"/><ellipse cx="464" cy="252" rx="8" ry="3.5" fill="#d08040" filter="url(#f4)" opacity="0.9" transform="rotate(55 464 252)"/><circle cx="471.3" cy="219.7" r="1.1" fill="#801008" filter="url(#f5)" opacity="0.8"/><circle cx="481.4" cy="205" r="1.1" fill="#801008" filter="url(#f5)" opacity="0.8"/><circle cx="485.8" cy="208.7" r="1.1" fill="#801008" filter="url(#f5)" opacity="0.8"/><circle cx="480.4" cy="223.7" r="1.1" fill="#801008" filter="url(#f5)" opacity="0.8"/><circle cx="477" cy="216.6" r="1.1" fill="#801008" filter="url(#f5)" opacity="0.8"/><circle cx="472.4" cy="219.5" r="1.1" fill="#801008" filter="url(#f5)" opacity="0.8"/><circle cx="484" cy="205.5" r="1.1" fill="#801008" filter="url(#f5)" opacity="0.8"/><circle cx="485.1" cy="226.4" r="1.1" fill="#801008" filter="url(#f5)" opacity="0.8"/><circle cx="490.3" cy="203.1" r="1.1" fill="#801008" filter="url(#f5)" opacity="0.8"/><circle cx="484" cy="220.2" r="1.1" fill="#801008" filter="url(#f5)" opacity="0.8"/><circle cx="476.8" cy="224.6" r="1.1" fill="#801008" filter="url(#f5)" opacity="0.8"/><circle cx="485.2" cy="201.5" r="1.1" fill="#801008" filter="url(#f5)" opacity="0.8"/><circle cx="492.4" cy="215.2" r="1.1" fill="#801008" filter="url(#f5)" opacity="0.8"/><circle cx="485" cy="203.5" r="1.1" fill="#801008" filter="url(#f5)" opacity="0.8"/><circle cx="494.5" cy="204.2" r="1.1" fill="#801008" filter="url(#f5)" opacity="0.8"/><circle cx="478.8" cy="212.8" r="1.1" fill="#801008" filter="url(#f5)" opacity="0.8"/><circle cx="483.4" cy="218.4" r="1.1" fill="#801008" filter="url(#f5)" opacity="0.8"/><circle cx="483.9" cy="205.6" r="1.1" fill="#801008" filter="url(#f5)" opacity="0.8"/><circle cx="479.4" cy="205.8" r="1.1" fill="#801008" filter="url(#f5)" opacity="0.8"/><circle cx="478.2" cy="223.8" r="1.1" fill="#801008" filter="url(#f5)" opacity="0.8"/><circle cx="474.9" cy="217.7" r="1.1" fill="#801008" filter="url(#f5)" opacity="0.8"/><circle cx="483.7" cy="214.3" r="1.1" fill="#801008" filter="url(#f5)" opacity="0.8"/><ellipse cx="484.5" cy="183.5" rx="17" ry="15" fill="#e8f0ff" filter="url(#f1)" opacity="0.6"/><ellipse cx="484.5" cy="183.5" rx="16" ry="14" fill="#6496ea" filter="url(#f5)"/><ellipse cx="486" cy="181" rx="9" ry="8" fill="#78aaf4" filter="url(#f3)" opacity="0.6"/><circle cx="501" cy="184.6" r="0.9" fill="#f4f8ff" filter="url(#f1)" opacity="0.8"/><circle cx="497.1" cy="192.9" r="0.9" fill="#f4f8ff" filter="url(#f1)" opacity="0.8"/><circle cx="471.6" cy="192.6" r="0.9" fill="#f4f8ff" filter="url(#f1)" opacity="0.8"/><circle cx="477.8" cy="170.2" r="0.9" fill="#f4f8ff" filter="url(#f1)" opacity="0.8"/><circle cx="495.1" cy="194.6" r="0.9" fill="#f4f8ff" filter="url(#f1)" opacity="0.8"/><circle cx="497.1" cy="192.9" r="0.9" fill="#f4f8ff" filter="url(#f1)" opacity="0.8"/><circle cx="486.4" cy="197.9" r="0.9" fill="#f4f8ff" filter="url(#f1)" opacity="0.8"/><circle cx="485.2" cy="169" r="0.9" fill="#f4f8ff" filter="url(#f1)" opacity="0.8"/><circle cx="494.4" cy="195.1" r="0.9" fill="#f4f8ff" filter="url(#f1)" opacity="0.8"/><circle cx="483.5" cy="169" r="0.9" fill="#f4f8ff" filter="url(#f1)" opacity="0.8"/><circle cx="475.8" cy="171.2" r="0.9" fill="#f4f8ff" filter="url(#f1)" opacity="0.8"/><circle cx="495.3" cy="194.5" r="0.9" fill="#f4f8ff" filter="url(#f1)" opacity="0.8"/><circle cx="468.4" cy="180.3" r="0.9" fill="#f4f8ff" filter="url(#f1)" opacity="0.8"/><circle cx="468.9" cy="188.2" r="0.9" fill="#f4f8ff" filter="url(#f1)" opacity="0.8"/><circle cx="470.4" cy="191.1" r="0.9" fill="#f4f8ff" filter="url(#f1)" opacity="0.8"/><circle cx="501" cy="183.1" r="0.9" fill="#f4f8ff" filter="url(#f1)" opacity="0.8"/><circle cx="490.8" cy="193.1" r="1.5" fill="#1a2040" filter="url(#f5)" opacity="0.8"/><circle cx="477.7" cy="176.5" r="1.5" fill="#1a2040" filter="url(#f5)" opacity="0.8"/><circle cx="487.3" cy="195.4" r="1.5" fill="#1a2040" filter="url(#f5)" opacity="0.8"/><circle cx="488.2" cy="174.5" r="1.5" fill="#1a2040" filter="url(#f5)" opacity="0.8"/><circle cx="476.7" cy="183.3" r="1.5" fill="#1a2040" filter="url(#f5)" opacity="0.8"/><circle cx="493.7" cy="183.7" r="1.5" fill="#1a2040" filter="url(#f5)" opacity="0.8"/><circle cx="479.2" cy="180.6" r="1.5" fill="#1a2040" filter="url(#f5)" opacity="0.8"/><circle cx="486.6" cy="176.7" r="1.5" fill="#1a2040" filter="url(#f5)" opacity="0.8"/><circle cx="485.1" cy="188.8" r="1.5" fill="#1a2040" filter="url(#f5)" opacity="0.8"/><circle cx="497.3" cy="183.3" r="1.5" fill="#1a2040" filter="url(#f5)" opacity="0.8"/><circle cx="492.7" cy="176" r="1.5" fill="#1a2040" filter="url(#f5)" opacity="0.8"/><circle cx="493.1" cy="185.2" r="1.5" fill="#1a2040" filter="url(#f5)" opacity="0.8"/><circle cx="477.9" cy="183.6" r="1.5" fill="#1a2040" filter="url(#f5)" opacity="0.8"/><circle cx="493.2" cy="181" r="1.5" fill="#1a2040" filter="url(#f5)" opacity="0.8"/><circle cx="469.5" cy="175.5" r="2.4" fill="#1a2a1a" filter="url(#f5)" opacity="0.8"/><circle cx="469.5" cy="175.5" r="2.6" fill="none" stroke="#d0d8d0" stroke-width="0.7" filter="url(#f1)" opacity="0.7"/><circle cx="470.5" cy="190" r="2.4" fill="#1a2a1a" filter="url(#f5)" opacity="0.8"/><circle cx="470.5" cy="190" r="2.6" fill="none" stroke="#d0d8d0" stroke-width="0.7" filter="url(#f1)" opacity="0.7"/><circle cx="488" cy="195.5" r="2.4" fill="#1a2a1a" filter="url(#f5)" opacity="0.8"/><circle cx="488" cy="195.5" r="2.6" fill="none" stroke="#d0d8d0" stroke-width="0.7" filter="url(#f1)" opacity="0.7"/><circle cx="495.5" cy="194" r="2.4" fill="#1a2a1a" filter="url(#f5)" opacity="0.8"/><circle cx="495.5" cy="194" r="2.6" fill="none" stroke="#d0d8d0" stroke-width="0.7" filter="url(#f1)" opacity="0.7"/><ellipse cx="494.5" cy="254.5" rx="12.6" ry="11.5" fill="#4a62e0" filter="url(#f4)"/><ellipse cx="458" cy="164" rx="10" ry="6" fill="#3050d0" filter="url(#f4)"/><ellipse cx="512" cy="166" rx="13" ry="15" fill="#5060d0" filter="url(#f4)"/><rect x="450" y="287" width="25" height="7" fill="#5050d0"/><line x1="452.3" y1="291.4" x2="477.3" y2="291.4" stroke="#fff" stroke-width="1.7"/></g><g clip-path="url(#c8)"><rect x="232" y="298" width="69" height="48" fill="#000"/><ellipse cx="254" cy="313" rx="11" ry="7.5" fill="#1a4aa0" filter="url(#f3)" opacity="0.8"/><ellipse cx="256" cy="316" rx="7" ry="4" fill="#0a5030" filter="url(#f3)" opacity="0.7"/><ellipse cx="240" cy="328.5" rx="6.5" ry="9" fill="#1a2ae0" filter="url(#f4)"/><ellipse cx="290.4" cy="332.5" rx="8.5" ry="9.5" fill="#1a2ae0" filter="url(#f4)"/><ellipse cx="278.4" cy="300" rx="6.6" ry="4.5" fill="#1a2ae0" filter="url(#f4)"/><ellipse cx="235.3" cy="342" rx="5" ry="4" fill="#1a2ad0" filter="url(#f4)" opacity="0.8"/><ellipse cx="263.7" cy="331.5" rx="10.5" ry="11.5" fill="#18a818" filter="url(#f4)" opacity="0.9"/><ellipse cx="263.7" cy="331.5" rx="8.8" ry="9.8" fill="none" stroke="#30d830" stroke-width="3" filter="url(#f4)" opacity="0.8"/><ellipse cx="256.5" cy="325" rx="5" ry="7" fill="#40f040" filter="url(#f3)" opacity="0.9"/><ellipse cx="265.5" cy="331.4" rx="4.8" ry="7.4" fill="#2454d0" filter="url(#f4)"/><line x1="288.4" y1="300.9" x2="299.7" y2="300.9" stroke="#fff" stroke-width="1.6"/></g><g clip-path="url(#c9)"><rect x="306" y="298" width="69" height="48" fill="#000"/><ellipse cx="328" cy="313" rx="11" ry="7.5" fill="#2036b8" filter="url(#f3)" opacity="0.8"/><ellipse cx="332" cy="319" rx="8.5" ry="5.5" fill="#d01018" filter="url(#f3)" opacity="0.9"/><circle cx="326" cy="325" r="4" fill="#901010" filter="url(#f3)" opacity="0.7"/><ellipse cx="314" cy="328.5" rx="6.5" ry="9" fill="#1a2ae0" filter="url(#f4)"/><ellipse cx="318" cy="334" rx="3" ry="4" fill="#901018" filter="url(#f3)" opacity="0.7"/><ellipse cx="364.4" cy="332.5" rx="8.5" ry="9.5" fill="#1a2ae0" filter="url(#f4)"/><circle cx="364.4" cy="332.5" r="8.5" fill="none" stroke="#b01020" stroke-width="2.6" filter="url(#f4)" opacity="0.9"/><ellipse cx="352.4" cy="300" rx="6.6" ry="4.5" fill="#1a2ae0" filter="url(#f4)"/><ellipse cx="309.3" cy="342" rx="5" ry="4" fill="#1a2ad0" filter="url(#f4)" opacity="0.8"/><ellipse cx="338.5" cy="332.5" rx="5.5" ry="8" fill="#1a2ae0" filter="url(#f4)"/><line x1="362.4" y1="300.9" x2="373.7" y2="300.9" stroke="#fff" stroke-width="1.6"/></g><g clip-path="url(#c10)"><rect x="378" y="298" width="69" height="48" fill="#000"/><ellipse cx="400" cy="313" rx="11" ry="7.5" fill="#1a4aa0" filter="url(#f3)" opacity="0.8"/><ellipse cx="402" cy="316" rx="7" ry="4" fill="#0a5030" filter="url(#f3)" opacity="0.7"/><ellipse cx="404" cy="319" rx="8.5" ry="5.5" fill="#d01018" filter="url(#f3)" opacity="0.9"/><circle cx="398" cy="325" r="4" fill="#901010" filter="url(#f3)" opacity="0.7"/><ellipse cx="386" cy="328.5" rx="6.5" ry="9" fill="#1a2ae0" filter="url(#f4)"/><ellipse cx="390" cy="334" rx="3" ry="4" fill="#901018" filter="url(#f3)" opacity="0.7"/><ellipse cx="436.4" cy="332.5" rx="8.5" ry="9.5" fill="#1a2ae0" filter="url(#f4)"/><circle cx="436.4" cy="332.5" r="8.5" fill="none" stroke="#c04020" stroke-width="2.6" filter="url(#f4)" opacity="0.9"/><ellipse cx="424.4" cy="300" rx="6.6" ry="4.5" fill="#1a2ae0" filter="url(#f4)"/><ellipse cx="381.3" cy="342" rx="5" ry="4" fill="#1a2ad0" filter="url(#f4)" opacity="0.8"/><ellipse cx="409.7" cy="331.5" rx="10.5" ry="11.5" fill="#18a818" filter="url(#f4)" opacity="0.9"/><ellipse cx="409.7" cy="331.5" rx="8.8" ry="9.8" fill="none" stroke="#30d830" stroke-width="3" filter="url(#f4)" opacity="0.8"/><ellipse cx="402.5" cy="325" rx="5" ry="7" fill="#40f040" filter="url(#f3)" opacity="0.9"/><ellipse cx="411.5" cy="331.4" rx="4.8" ry="7.4" fill="#2454d0" filter="url(#f4)"/><ellipse cx="404" cy="320" rx="6" ry="3" fill="#c06020" filter="url(#f3)" opacity="0.6"/><line x1="434.4" y1="300.9" x2="445.7" y2="300.9" stroke="#fff" stroke-width="1.6"/></g><g clip-path="url(#c11)"><rect x="232" y="350" width="69" height="53" fill="#000"/><circle cx="270.5" cy="356.6" r="4.8" fill="#00540c" filter="url(#f4)" opacity="0.8"/><circle cx="279" cy="352.7" r="4.8" fill="#006008" filter="url(#f4)" opacity="0.8"/><circle cx="273" cy="364.6" r="5.7" fill="#00780c" filter="url(#f4)" opacity="0.8"/><circle cx="281" cy="366" r="4.8" fill="#006014" filter="url(#f4)" opacity="0.8"/><circle cx="282.4" cy="374" r="5.7" fill="#007818" filter="url(#f4)" opacity="0.8"/><circle cx="249" cy="374" r="5.7" fill="#006014" filter="url(#f4)" opacity="0.8"/><circle cx="246.6" cy="384.5" r="5.7" fill="#00600c" filter="url(#f4)" opacity="0.8"/><circle cx="254.5" cy="383" r="5.7" fill="#006c0c" filter="url(#f4)" opacity="0.8"/><circle cx="260" cy="382" r="4.8" fill="#005410" filter="url(#f4)" opacity="0.8"/><circle cx="249" cy="390" r="4.8" fill="#004810" filter="url(#f4)" opacity="0.8"/><circle cx="287.7" cy="387" r="4.8" fill="#006c18" filter="url(#f4)" opacity="0.8"/><circle cx="293" cy="391" r="4.8" fill="#00241c" filter="url(#f4)" opacity="0.8"/><circle cx="266" cy="366" r="4.3" fill="#003020" filter="url(#f4)" opacity="0.8"/><circle cx="268" cy="379" r="4.8" fill="#002418" filter="url(#f4)" opacity="0.8"/><circle cx="240" cy="383" r="6.6" fill="#001814" filter="url(#f4)" opacity="0.8"/><circle cx="285" cy="357.3" r="4.8" fill="#000c24" filter="url(#f4)" opacity="0.8"/><circle cx="257" cy="376" r="3.8" fill="#002420" filter="url(#f4)" opacity="0.8"/><circle cx="270.5" cy="356.6" r="3" fill="#142a53" filter="url(#f4)" opacity="0.8"/><circle cx="279" cy="352.7" r="3" fill="#14303e" filter="url(#f4)" opacity="0.8"/><circle cx="273" cy="364.6" r="3.6" fill="#143c53" filter="url(#f4)" opacity="0.8"/><circle cx="281" cy="366" r="3" fill="#14307d" filter="url(#f4)" opacity="0.8"/><circle cx="282.4" cy="374" r="3.6" fill="#143c92" filter="url(#f4)" opacity="0.8"/><circle cx="249" cy="374" r="3.6" fill="#14307d" filter="url(#f4)" opacity="0.8"/><circle cx="246.6" cy="384.5" r="3.6" fill="#143053" filter="url(#f4)" opacity="0.8"/><circle cx="254.5" cy="383" r="3.6" fill="#143653" filter="url(#f4)" opacity="0.8"/><circle cx="260" cy="382" r="3" fill="#142a68" filter="url(#f4)" opacity="0.8"/><circle cx="249" cy="390" r="3" fill="#142468" filter="url(#f4)" opacity="0.8"/><circle cx="287.7" cy="387" r="3" fill="#143692" filter="url(#f4)" opacity="0.8"/><circle cx="293" cy="391" r="3" fill="#1412a7" filter="url(#f4)" opacity="0.8"/><circle cx="266" cy="366" r="2.7" fill="#1418bc" filter="url(#f4)" opacity="0.8"/><circle cx="268" cy="379" r="3" fill="#141292" filter="url(#f4)" opacity="0.8"/><circle cx="240" cy="383" r="4.2" fill="#140c7d" filter="url(#f4)" opacity="0.8"/><circle cx="275.8" cy="392.5" r="3.6" fill="#1400e6" filter="url(#f4)" opacity="0.8"/><circle cx="285" cy="357.3" r="3" fill="#1406d1" filter="url(#f4)" opacity="0.8"/><circle cx="234.7" cy="379" r="2.4" fill="#1400d1" filter="url(#f4)" opacity="0.8"/><circle cx="257" cy="376" r="2.4" fill="#1412bc" filter="url(#f4)" opacity="0.8"/><ellipse cx="270.8" cy="357.2" rx="3.9" ry="4.2" fill="none" stroke="#00a40f" stroke-width="1.4" filter="url(#f5)" opacity="0.8"/><ellipse cx="270.9" cy="356.3" rx="4.4" ry="3.8" fill="none" stroke="#00a40f" stroke-width="1.4" filter="url(#f5)" opacity="0.8"/><ellipse cx="279.8" cy="352" rx="4.1" ry="4" fill="none" stroke="#00bc0a" stroke-width="1.4" filter="url(#f5)" opacity="0.8"/><ellipse cx="279.2" cy="352.3" rx="3.5" ry="3.9" fill="none" stroke="#00bc0a" stroke-width="1.4" filter="url(#f5)" opacity="0.8"/><ellipse cx="272.2" cy="364.9" rx="4.3" ry="4.3" fill="none" stroke="#00eb0f" stroke-width="1.4" filter="url(#f5)" opacity="0.8"/><ellipse cx="273" cy="364.7" rx="5.2" ry="4.8" fill="none" stroke="#00eb0f" stroke-width="1.4" filter="url(#f5)" opacity="0.8"/><ellipse cx="281.5" cy="365.2" rx="3.7" ry="3.9" fill="none" stroke="#00bc19" stroke-width="1.4" filter="url(#f5)" opacity="0.8"/><ellipse cx="281.1" cy="366.7" rx="4.2" ry="4.1" fill="none" stroke="#00bc19" stroke-width="1.4" filter="url(#f5)" opacity="0.8"/><ellipse cx="283.1" cy="373.4" rx="4.6" ry="5.3" fill="none" stroke="#00eb1e" stroke-width="1.4" filter="url(#f5)" opacity="0.8"/><ellipse cx="282.7" cy="373.6" rx="4.5" ry="5" fill="none" stroke="#00eb1e" stroke-width="1.4" filter="url(#f5)" opacity="0.8"/><ellipse cx="248.3" cy="374" rx="4.2" ry="5.2" fill="none" stroke="#00bc19" stroke-width="1.4" filter="url(#f5)" opacity="0.8"/><ellipse cx="248.6" cy="374.7" rx="4.6" ry="4.8" fill="none" stroke="#00bc19" stroke-width="1.4" filter="url(#f5)" opacity="0.8"/><ellipse cx="246.1" cy="384.2" rx="4.9" ry="5.2" fill="none" stroke="#00bc0f" stroke-width="1.4" filter="url(#f5)" opacity="0.8"/><ellipse cx="245.9" cy="384.3" rx="4.6" ry="4.8" fill="none" stroke="#00bc0f" stroke-width="1.4" filter="url(#f5)" opacity="0.8"/><ellipse cx="253.8" cy="383.5" rx="4.3" ry="4.5" fill="none" stroke="#00d30f" stroke-width="1.4" filter="url(#f5)" opacity="0.8"/><ellipse cx="255.1" cy="383.2" rx="4.9" ry="4.3" fill="none" stroke="#00d30f" stroke-width="1.4" filter="url(#f5)" opacity="0.8"/><ellipse cx="260.5" cy="381.3" rx="4.5" ry="4.4" fill="none" stroke="#00a414" stroke-width="1.4" filter="url(#f5)" opacity="0.8"/><ellipse cx="259.6" cy="382.1" rx="4" ry="4.3" fill="none" stroke="#00a414" stroke-width="1.4" filter="url(#f5)" opacity="0.8"/><ellipse cx="249.4" cy="390.2" rx="4.5" ry="3.7" fill="none" stroke="#008d14" stroke-width="1.4" filter="url(#f5)" opacity="0.8"/><ellipse cx="248.3" cy="390.3" rx="4" ry="3.8" fill="none" stroke="#008d14" stroke-width="1.4" filter="url(#f5)" opacity="0.8"/><ellipse cx="288" cy="386.8" rx="3.9" ry="4.4" fill="none" stroke="#00d31e" stroke-width="1.4" filter="url(#f5)" opacity="0.8"/><ellipse cx="287.3" cy="386.9" rx="3.9" ry="3.8" fill="none" stroke="#00d31e" stroke-width="1.4" filter="url(#f5)" opacity="0.8"/><ellipse cx="293.6" cy="390.2" rx="4.2" ry="3.8" fill="none" stroke="#004623" stroke-width="1.4" filter="url(#f5)" opacity="0.8"/><ellipse cx="293.3" cy="390.4" rx="4.2" ry="4.4" fill="none" stroke="#004623" stroke-width="1.4" filter="url(#f5)" opacity="0.8"/><ellipse cx="266.2" cy="366.6" rx="3.7" ry="3.8" fill="none" stroke="#005e28" stroke-width="1.4" filter="url(#f5)" opacity="0.8"/><ellipse cx="266" cy="365.9" rx="3.3" ry="4" fill="none" stroke="#005e28" stroke-width="1.4" filter="url(#f5)" opacity="0.8"/><ellipse cx="267.6" cy="379" rx="3.9" ry="3.6" fill="none" stroke="#00461e" stroke-width="1.4" filter="url(#f5)" opacity="0.8"/><ellipse cx="267.9" cy="379.2" rx="3.6" ry="4.3" fill="none" stroke="#00461e" stroke-width="1.4" filter="url(#f5)" opacity="0.8"/><ellipse cx="240.1" cy="382.7" rx="5.7" ry="5.1" fill="none" stroke="#002f19" stroke-width="1.4" filter="url(#f5)" opacity="0.8"/><ellipse cx="240.7" cy="383" rx="6.2" ry="5.1" fill="none" stroke="#002f19" stroke-width="1.4" filter="url(#f5)" opacity="0.8"/><ellipse cx="285.3" cy="356.9" rx="3.7" ry="4.2" fill="none" stroke="#00172d" stroke-width="1.4" filter="url(#f5)" opacity="0.8"/><ellipse cx="285" cy="356.7" rx="4.2" ry="4.3" fill="none" stroke="#00172d" stroke-width="1.4" filter="url(#f5)" opacity="0.8"/><ellipse cx="257.7" cy="375.8" rx="3.5" ry="3" fill="none" stroke="#004628" stroke-width="1.4" filter="url(#f5)" opacity="0.8"/><ellipse cx="257" cy="375.8" rx="3.2" ry="3" fill="none" stroke="#004628" stroke-width="1.4" filter="url(#f5)" opacity="0.8"/><line x1="234" y1="400.4" x2="239.3" y2="400.4" stroke="#fff" stroke-width="1.6"/></g><g clip-path="url(#c12)"><rect x="306" y="350" width="69" height="53" fill="#000"/><circle cx="344.5" cy="356.6" r="4.8" fill="#3c000c" filter="url(#f4)" opacity="0.8"/><circle cx="353" cy="352.7" r="4.8" fill="#0c0008" filter="url(#f4)" opacity="0.8"/><circle cx="355" cy="366" r="4.8" fill="#300014" filter="url(#f4)" opacity="0.8"/><circle cx="356.4" cy="374" r="5.7" fill="#0c0018" filter="url(#f4)" opacity="0.8"/><circle cx="323" cy="374" r="5.7" fill="#0c0014" filter="url(#f4)" opacity="0.8"/><circle cx="320.6" cy="384.5" r="5.7" fill="#18000c" filter="url(#f4)" opacity="0.8"/><circle cx="328.5" cy="383" r="5.7" fill="#24000c" filter="url(#f4)" opacity="0.8"/><circle cx="334" cy="382" r="4.8" fill="#0c0010" filter="url(#f4)" opacity="0.8"/><circle cx="323" cy="390" r="4.8" fill="#180010" filter="url(#f4)" opacity="0.8"/><circle cx="361.7" cy="387" r="4.8" fill="#180018" filter="url(#f4)" opacity="0.8"/><circle cx="367" cy="391" r="4.8" fill="#48001c" filter="url(#f4)" opacity="0.8"/><circle cx="340" cy="366" r="4.3" fill="#600020" filter="url(#f4)" opacity="0.8"/><circle cx="342" cy="379" r="4.8" fill="#780018" filter="url(#f4)" opacity="0.8"/><circle cx="314" cy="383" r="6.6" fill="#780014" filter="url(#f4)" opacity="0.8"/><circle cx="349.8" cy="392.5" r="5.7" fill="#600028" filter="url(#f4)" opacity="0.8"/><circle cx="359" cy="357.3" r="4.8" fill="#180024" filter="url(#f4)" opacity="0.8"/><circle cx="308.7" cy="379" r="3.8" fill="#0c0024" filter="url(#f4)" opacity="0.8"/><circle cx="331" cy="376" r="3.8" fill="#240020" filter="url(#f4)" opacity="0.8"/><circle cx="344.5" cy="356.6" r="3" fill="#140053" filter="url(#f4)" opacity="0.8"/><circle cx="353" cy="352.7" r="3" fill="#14003e" filter="url(#f4)" opacity="0.8"/><circle cx="347" cy="364.6" r="3.6" fill="#140053" filter="url(#f4)" opacity="0.8"/><circle cx="355" cy="366" r="3" fill="#14007d" filter="url(#f4)" opacity="0.8"/><circle cx="356.4" cy="374" r="3.6" fill="#140092" filter="url(#f4)" opacity="0.8"/><circle cx="323" cy="374" r="3.6" fill="#14007d" filter="url(#f4)" opacity="0.8"/><circle cx="320.6" cy="384.5" r="3.6" fill="#140053" filter="url(#f4)" opacity="0.8"/><circle cx="328.5" cy="383" r="3.6" fill="#140053" filter="url(#f4)" opacity="0.8"/><circle cx="334" cy="382" r="3" fill="#140068" filter="url(#f4)" opacity="0.8"/><circle cx="323" cy="390" r="3" fill="#140068" filter="url(#f4)" opacity="0.8"/><circle cx="361.7" cy="387" r="3" fill="#140092" filter="url(#f4)" opacity="0.8"/><circle cx="367" cy="391" r="3" fill="#1400a7" filter="url(#f4)" opacity="0.8"/><circle cx="340" cy="366" r="2.7" fill="#1400bc" filter="url(#f4)" opacity="0.8"/><circle cx="342" cy="379" r="3" fill="#140092" filter="url(#f4)" opacity="0.8"/><circle cx="314" cy="383" r="4.2" fill="#14007d" filter="url(#f4)" opacity="0.8"/><circle cx="349.8" cy="392.5" r="3.6" fill="#1400e6" filter="url(#f4)" opacity="0.8"/><circle cx="359" cy="357.3" r="3" fill="#1400d1" filter="url(#f4)" opacity="0.8"/><circle cx="308.7" cy="379" r="2.4" fill="#1400d1" filter="url(#f4)" opacity="0.8"/><circle cx="331" cy="376" r="2.4" fill="#1400bc" filter="url(#f4)" opacity="0.8"/><ellipse cx="344.8" cy="357.2" rx="3.9" ry="4.2" fill="none" stroke="#78000f" stroke-width="1.4" filter="url(#f5)" opacity="0.8"/><ellipse cx="344.9" cy="356.3" rx="4.4" ry="3.8" fill="none" stroke="#78000f" stroke-width="1.4" filter="url(#f5)" opacity="0.8"/><ellipse cx="353.8" cy="352" rx="4.1" ry="4" fill="none" stroke="#18000a" stroke-width="1.4" filter="url(#f5)" opacity="0.8"/><ellipse cx="353.2" cy="352.3" rx="3.5" ry="3.9" fill="none" stroke="#18000a" stroke-width="1.4" filter="url(#f5)" opacity="0.8"/><ellipse cx="355.5" cy="365.2" rx="3.7" ry="3.9" fill="none" stroke="#600019" stroke-width="1.4" filter="url(#f5)" opacity="0.8"/><ellipse cx="355.1" cy="366.7" rx="4.2" ry="4.1" fill="none" stroke="#600019" stroke-width="1.4" filter="url(#f5)" opacity="0.8"/><ellipse cx="357.1" cy="373.4" rx="4.6" ry="5.3" fill="none" stroke="#18001e" stroke-width="1.4" filter="url(#f5)" opacity="0.8"/><ellipse cx="356.7" cy="373.6" rx="4.5" ry="5" fill="none" stroke="#18001e" stroke-width="1.4" filter="url(#f5)" opacity="0.8"/><ellipse cx="322.3" cy="374" rx="4.2" ry="5.2" fill="none" stroke="#180019" stroke-width="1.4" filter="url(#f5)" opacity="0.8"/><ellipse cx="322.6" cy="374.7" rx="4.6" ry="4.8" fill="none" stroke="#180019" stroke-width="1.4" filter="url(#f5)" opacity="0.8"/><ellipse cx="320.1" cy="384.2" rx="4.9" ry="5.2" fill="none" stroke="#30000f" stroke-width="1.4" filter="url(#f5)" opacity="0.8"/><ellipse cx="319.9" cy="384.3" rx="4.6" ry="4.8" fill="none" stroke="#30000f" stroke-width="1.4" filter="url(#f5)" opacity="0.8"/><ellipse cx="327.8" cy="383.5" rx="4.3" ry="4.5" fill="none" stroke="#48000f" stroke-width="1.4" filter="url(#f5)" opacity="0.8"/><ellipse cx="329.1" cy="383.2" rx="4.9" ry="4.3" fill="none" stroke="#48000f" stroke-width="1.4" filter="url(#f5)" opacity="0.8"/><ellipse cx="334.5" cy="381.3" rx="4.5" ry="4.4" fill="none" stroke="#180014" stroke-width="1.4" filter="url(#f5)" opacity="0.8"/><ellipse cx="333.6" cy="382.1" rx="4" ry="4.3" fill="none" stroke="#180014" stroke-width="1.4" filter="url(#f5)" opacity="0.8"/><ellipse cx="323.4" cy="390.2" rx="4.5" ry="3.7" fill="none" stroke="#300014" stroke-width="1.4" filter="url(#f5)" opacity="0.8"/><ellipse cx="322.3" cy="390.3" rx="4" ry="3.8" fill="none" stroke="#300014" stroke-width="1.4" filter="url(#f5)" opacity="0.8"/><ellipse cx="362" cy="386.8" rx="3.9" ry="4.4" fill="none" stroke="#30001e" stroke-width="1.4" filter="url(#f5)" opacity="0.8"/><ellipse cx="361.3" cy="386.9" rx="3.9" ry="3.8" fill="none" stroke="#30001e" stroke-width="1.4" filter="url(#f5)" opacity="0.8"/><ellipse cx="367.6" cy="390.2" rx="4.2" ry="3.8" fill="none" stroke="#900023" stroke-width="1.4" filter="url(#f5)" opacity="0.8"/><ellipse cx="367.3" cy="390.4" rx="4.2" ry="4.4" fill="none" stroke="#900023" stroke-width="1.4" filter="url(#f5)" opacity="0.8"/><ellipse cx="340.2" cy="366.6" rx="3.7" ry="3.8" fill="none" stroke="#c00028" stroke-width="1.4" filter="url(#f5)" opacity="0.8"/><ellipse cx="340" cy="365.9" rx="3.3" ry="4" fill="none" stroke="#c00028" stroke-width="1.4" filter="url(#f5)" opacity="0.8"/><ellipse cx="341.6" cy="379" rx="3.9" ry="3.6" fill="none" stroke="#f0001e" stroke-width="1.4" filter="url(#f5)" opacity="0.8"/><ellipse cx="341.9" cy="379.2" rx="3.6" ry="4.3" fill="none" stroke="#f0001e" stroke-width="1.4" filter="url(#f5)" opacity="0.8"/><ellipse cx="314.1" cy="382.7" rx="5.7" ry="5.1" fill="none" stroke="#f00019" stroke-width="1.4" filter="url(#f5)" opacity="0.8"/><ellipse cx="314.7" cy="383" rx="6.2" ry="5.1" fill="none" stroke="#f00019" stroke-width="1.4" filter="url(#f5)" opacity="0.8"/><ellipse cx="350.3" cy="391.9" rx="5.1" ry="5" fill="none" stroke="#c00032" stroke-width="1.4" filter="url(#f5)" opacity="0.8"/><ellipse cx="349.2" cy="392.1" rx="5.1" ry="4.4" fill="none" stroke="#c00032" stroke-width="1.4" filter="url(#f5)" opacity="0.8"/><ellipse cx="359.3" cy="356.9" rx="3.7" ry="4.2" fill="none" stroke="#30002d" stroke-width="1.4" filter="url(#f5)" opacity="0.8"/><ellipse cx="359" cy="356.7" rx="4.2" ry="4.3" fill="none" stroke="#30002d" stroke-width="1.4" filter="url(#f5)" opacity="0.8"/><ellipse cx="308.5" cy="379.4" rx="2.8" ry="3.5" fill="none" stroke="#18002d" stroke-width="1.4" filter="url(#f5)" opacity="0.8"/><ellipse cx="309.1" cy="379.3" rx="3.3" ry="3.6" fill="none" stroke="#18002d" stroke-width="1.4" filter="url(#f5)" opacity="0.8"/><ellipse cx="331.7" cy="375.8" rx="3.5" ry="3" fill="none" stroke="#480028" stroke-width="1.4" filter="url(#f5)" opacity="0.8"/><ellipse cx="331" cy="375.8" rx="3.2" ry="3" fill="none" stroke="#480028" stroke-width="1.4" filter="url(#f5)" opacity="0.8"/><line x1="308" y1="400.4" x2="313.3" y2="400.4" stroke="#fff" stroke-width="1.6"/></g><g clip-path="url(#c13)"><rect x="378" y="350" width="69" height="53" fill="#000"/><circle cx="416.5" cy="356.6" r="4.8" fill="#3c540c" filter="url(#f4)" opacity="0.8"/><circle cx="425" cy="352.7" r="4.8" fill="#0c6008" filter="url(#f4)" opacity="0.8"/><circle cx="419" cy="364.6" r="5.7" fill="#00780c" filter="url(#f4)" opacity="0.8"/><circle cx="427" cy="366" r="4.8" fill="#306014" filter="url(#f4)" opacity="0.8"/><circle cx="428.4" cy="374" r="5.7" fill="#0c7818" filter="url(#f4)" opacity="0.8"/><circle cx="395" cy="374" r="5.7" fill="#0c6014" filter="url(#f4)" opacity="0.8"/><circle cx="392.6" cy="384.5" r="5.7" fill="#18600c" filter="url(#f4)" opacity="0.8"/><circle cx="400.5" cy="383" r="5.7" fill="#246c0c" filter="url(#f4)" opacity="0.8"/><circle cx="406" cy="382" r="4.8" fill="#0c5410" filter="url(#f4)" opacity="0.8"/><circle cx="395" cy="390" r="4.8" fill="#184810" filter="url(#f4)" opacity="0.8"/><circle cx="433.7" cy="387" r="4.8" fill="#186c18" filter="url(#f4)" opacity="0.8"/><circle cx="439" cy="391" r="4.8" fill="#48241c" filter="url(#f4)" opacity="0.8"/><circle cx="412" cy="366" r="4.3" fill="#603020" filter="url(#f4)" opacity="0.8"/><circle cx="414" cy="379" r="4.8" fill="#782418" filter="url(#f4)" opacity="0.8"/><circle cx="386" cy="383" r="6.6" fill="#781814" filter="url(#f4)" opacity="0.8"/><circle cx="421.8" cy="392.5" r="5.7" fill="#600028" filter="url(#f4)" opacity="0.8"/><circle cx="431" cy="357.3" r="4.8" fill="#180c24" filter="url(#f4)" opacity="0.8"/><circle cx="380.7" cy="379" r="3.8" fill="#0c0024" filter="url(#f4)" opacity="0.8"/><circle cx="403" cy="376" r="3.8" fill="#242420" filter="url(#f4)" opacity="0.8"/><circle cx="416.5" cy="356.6" r="3" fill="#142a53" filter="url(#f4)" opacity="0.8"/><circle cx="425" cy="352.7" r="3" fill="#14303e" filter="url(#f4)" opacity="0.8"/><circle cx="419" cy="364.6" r="3.6" fill="#143c53" filter="url(#f4)" opacity="0.8"/><circle cx="427" cy="366" r="3" fill="#14307d" filter="url(#f4)" opacity="0.8"/><circle cx="428.4" cy="374" r="3.6" fill="#143c92" filter="url(#f4)" opacity="0.8"/><circle cx="395" cy="374" r="3.6" fill="#14307d" filter="url(#f4)" opacity="0.8"/><circle cx="392.6" cy="384.5" r="3.6" fill="#143053" filter="url(#f4)" opacity="0.8"/><circle cx="400.5" cy="383" r="3.6" fill="#143653" filter="url(#f4)" opacity="0.8"/><circle cx="406" cy="382" r="3" fill="#142a68" filter="url(#f4)" opacity="0.8"/><circle cx="395" cy="390" r="3" fill="#142468" filter="url(#f4)" opacity="0.8"/><circle cx="433.7" cy="387" r="3" fill="#143692" filter="url(#f4)" opacity="0.8"/><circle cx="439" cy="391" r="3" fill="#1412a7" filter="url(#f4)" opacity="0.8"/><circle cx="412" cy="366" r="2.7" fill="#1418bc" filter="url(#f4)" opacity="0.8"/><circle cx="414" cy="379" r="3" fill="#141292" filter="url(#f4)" opacity="0.8"/><circle cx="386" cy="383" r="4.2" fill="#140c7d" filter="url(#f4)" opacity="0.8"/><circle cx="421.8" cy="392.5" r="3.6" fill="#1400e6" filter="url(#f4)" opacity="0.8"/><circle cx="431" cy="357.3" r="3" fill="#1406d1" filter="url(#f4)" opacity="0.8"/><circle cx="380.7" cy="379" r="2.4" fill="#1400d1" filter="url(#f4)" opacity="0.8"/><circle cx="403" cy="376" r="2.4" fill="#1412bc" filter="url(#f4)" opacity="0.8"/><ellipse cx="416.8" cy="357.2" rx="3.9" ry="4.2" fill="none" stroke="#78a40f" stroke-width="1.4" filter="url(#f5)" opacity="0.8"/><ellipse cx="416.9" cy="356.3" rx="4.4" ry="3.8" fill="none" stroke="#78a40f" stroke-width="1.4" filter="url(#f5)" opacity="0.8"/><ellipse cx="425.8" cy="352" rx="4.1" ry="4" fill="none" stroke="#18bc0a" stroke-width="1.4" filter="url(#f5)" opacity="0.8"/><ellipse cx="425.2" cy="352.3" rx="3.5" ry="3.9" fill="none" stroke="#18bc0a" stroke-width="1.4" filter="url(#f5)" opacity="0.8"/><ellipse cx="418.2" cy="364.9" rx="4.3" ry="4.3" fill="none" stroke="#00eb0f" stroke-width="1.4" filter="url(#f5)" opacity="0.8"/><ellipse cx="419" cy="364.7" rx="5.2" ry="4.8" fill="none" stroke="#00eb0f" stroke-width="1.4" filter="url(#f5)" opacity="0.8"/><ellipse cx="427.5" cy="365.2" rx="3.7" ry="3.9" fill="none" stroke="#60bc19" stroke-width="1.4" filter="url(#f5)" opacity="0.8"/><ellipse cx="427.1" cy="366.7" rx="4.2" ry="4.1" fill="none" stroke="#60bc19" stroke-width="1.4" filter="url(#f5)" opacity="0.8"/><ellipse cx="429.1" cy="373.4" rx="4.6" ry="5.3" fill="none" stroke="#18eb1e" stroke-width="1.4" filter="url(#f5)" opacity="0.8"/><ellipse cx="428.7" cy="373.6" rx="4.5" ry="5" fill="none" stroke="#18eb1e" stroke-width="1.4" filter="url(#f5)" opacity="0.8"/><ellipse cx="394.3" cy="374" rx="4.2" ry="5.2" fill="none" stroke="#18bc19" stroke-width="1.4" filter="url(#f5)" opacity="0.8"/><ellipse cx="394.6" cy="374.7" rx="4.6" ry="4.8" fill="none" stroke="#18bc19" stroke-width="1.4" filter="url(#f5)" opacity="0.8"/><ellipse cx="392.1" cy="384.2" rx="4.9" ry="5.2" fill="none" stroke="#30bc0f" stroke-width="1.4" filter="url(#f5)" opacity="0.8"/><ellipse cx="391.9" cy="384.3" rx="4.6" ry="4.8" fill="none" stroke="#30bc0f" stroke-width="1.4" filter="url(#f5)" opacity="0.8"/><ellipse cx="399.8" cy="383.5" rx="4.3" ry="4.5" fill="none" stroke="#48d30f" stroke-width="1.4" filter="url(#f5)" opacity="0.8"/><ellipse cx="401.1" cy="383.2" rx="4.9" ry="4.3" fill="none" stroke="#48d30f" stroke-width="1.4" filter="url(#f5)" opacity="0.8"/><ellipse cx="406.5" cy="381.3" rx="4.5" ry="4.4" fill="none" stroke="#18a414" stroke-width="1.4" filter="url(#f5)" opacity="0.8"/><ellipse cx="405.6" cy="382.1" rx="4" ry="4.3" fill="none" stroke="#18a414" stroke-width="1.4" filter="url(#f5)" opacity="0.8"/><ellipse cx="395.4" cy="390.2" rx="4.5" ry="3.7" fill="none" stroke="#308d14" stroke-width="1.4" filter="url(#f5)" opacity="0.8"/><ellipse cx="394.3" cy="390.3" rx="4" ry="3.8" fill="none" stroke="#308d14" stroke-width="1.4" filter="url(#f5)" opacity="0.8"/><ellipse cx="434" cy="386.8" rx="3.9" ry="4.4" fill="none" stroke="#30d31e" stroke-width="1.4" filter="url(#f5)" opacity="0.8"/><ellipse cx="433.3" cy="386.9" rx="3.9" ry="3.8" fill="none" stroke="#30d31e" stroke-width="1.4" filter="url(#f5)" opacity="0.8"/><ellipse cx="439.6" cy="390.2" rx="4.2" ry="3.8" fill="none" stroke="#904623" stroke-width="1.4" filter="url(#f5)" opacity="0.8"/><ellipse cx="439.3" cy="390.4" rx="4.2" ry="4.4" fill="none" stroke="#904623" stroke-width="1.4" filter="url(#f5)" opacity="0.8"/><ellipse cx="412.2" cy="366.6" rx="3.7" ry="3.8" fill="none" stroke="#c05e28" stroke-width="1.4" filter="url(#f5)" opacity="0.8"/><ellipse cx="412" cy="365.9" rx="3.3" ry="4" fill="none" stroke="#c05e28" stroke-width="1.4" filter="url(#f5)" opacity="0.8"/><ellipse cx="413.6" cy="379" rx="3.9" ry="3.6" fill="none" stroke="#f0461e" stroke-width="1.4" filter="url(#f5)" opacity="0.8"/><ellipse cx="413.9" cy="379.2" rx="3.6" ry="4.3" fill="none" stroke="#f0461e" stroke-width="1.4" filter="url(#f5)" opacity="0.8"/><ellipse cx="386.1" cy="382.7" rx="5.7" ry="5.1" fill="none" stroke="#f02f19" stroke-width="1.4" filter="url(#f5)" opacity="0.8"/><ellipse cx="386.7" cy="383" rx="6.2" ry="5.1" fill="none" stroke="#f02f19" stroke-width="1.4" filter="url(#f5)" opacity="0.8"/><ellipse cx="422.3" cy="391.9" rx="5.1" ry="5" fill="none" stroke="#c00032" stroke-width="1.4" filter="url(#f5)" opacity="0.8"/><ellipse cx="421.2" cy="392.1" rx="5.1" ry="4.4" fill="none" stroke="#c00032" stroke-width="1.4" filter="url(#f5)" opacity="0.8"/><ellipse cx="431.3" cy="356.9" rx="3.7" ry="4.2" fill="none" stroke="#30172d" stroke-width="1.4" filter="url(#f5)" opacity="0.8"/><ellipse cx="431" cy="356.7" rx="4.2" ry="4.3" fill="none" stroke="#30172d" stroke-width="1.4" filter="url(#f5)" opacity="0.8"/><ellipse cx="380.5" cy="379.4" rx="2.8" ry="3.5" fill="none" stroke="#18002d" stroke-width="1.4" filter="url(#f5)" opacity="0.8"/><ellipse cx="381.1" cy="379.3" rx="3.3" ry="3.6" fill="none" stroke="#18002d" stroke-width="1.4" filter="url(#f5)" opacity="0.8"/><ellipse cx="403.7" cy="375.8" rx="3.5" ry="3" fill="none" stroke="#484628" stroke-width="1.4" filter="url(#f5)" opacity="0.8"/><ellipse cx="403" cy="375.8" rx="3.2" ry="3" fill="none" stroke="#484628" stroke-width="1.4" filter="url(#f5)" opacity="0.8"/><line x1="380" y1="400.4" x2="385.3" y2="400.4" stroke="#fff" stroke-width="1.6"/></g></svg></body></html>
